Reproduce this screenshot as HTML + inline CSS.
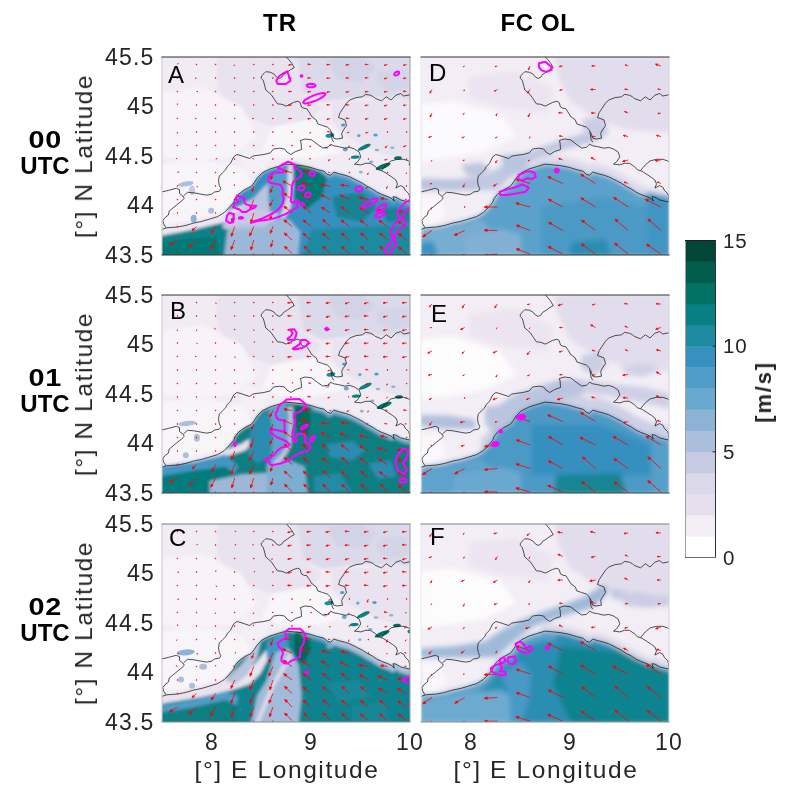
<!DOCTYPE html>
<html><head><meta charset="utf-8"><style>
*{margin:0;padding:0}
html,body{width:785px;height:799px;background:#fff;overflow:hidden}
body{position:relative;font-family:"Liberation Sans",sans-serif}
svg{display:block}
.t{position:absolute;will-change:transform;font-size:23px;color:#262626;white-space:nowrap;line-height:26px}
.b{position:absolute;will-change:transform;font-size:24px;font-weight:bold;color:#000;white-space:nowrap;line-height:26px}
.lab{font-size:24.5px;letter-spacing:1.6px}
.tk{letter-spacing:1.2px}
.cb{font-size:20.5px;letter-spacing:0.8px}
.pl{font-size:24px;color:#000}
.c{transform:translateX(-50%);text-align:center}
.rot{transform:translate(-50%,-50%) rotate(-90deg)}
</style></head>
<body>
<div class="b c" style="left:280px;top:10px;letter-spacing:1px">TR</div>
<div class="b c" style="left:538px;top:10px;letter-spacing:0.6px">FC OL</div>
<div class="b c" style="left:45px;top:127.0px;line-height:26px"><span style="display:inline-block;transform:scaleX(1.2);letter-spacing:0.5px">00</span><br>UTC</div>
<div class="t lab rot" style="left:83.5px;top:155.5px">[°] N Latitude</div>
<div class="t tk" style="right:630.5px;top:43.5px">45.5</div>
<div class="t tk" style="right:630.5px;top:93.0px">45</div>
<div class="t tk" style="right:630.5px;top:142.5px">44.5</div>
<div class="t tk" style="right:630.5px;top:192.0px">44</div>
<div class="t tk" style="right:630.5px;top:241.5px">43.5</div>
<div class="b c" style="left:45px;top:365.0px;line-height:26px"><span style="display:inline-block;transform:scaleX(1.2);letter-spacing:0.5px">01</span><br>UTC</div>
<div class="t lab rot" style="left:83.5px;top:393.5px">[°] N Latitude</div>
<div class="t tk" style="right:630.5px;top:281.5px">45.5</div>
<div class="t tk" style="right:630.5px;top:331.0px">45</div>
<div class="t tk" style="right:630.5px;top:380.5px">44.5</div>
<div class="t tk" style="right:630.5px;top:430.0px">44</div>
<div class="t tk" style="right:630.5px;top:479.5px">43.5</div>
<div class="b c" style="left:45px;top:594.0px;line-height:26px"><span style="display:inline-block;transform:scaleX(1.2);letter-spacing:0.5px">02</span><br>UTC</div>
<div class="t lab rot" style="left:83.5px;top:622.5px">[°] N Latitude</div>
<div class="t tk" style="right:630.5px;top:510.5px">45.5</div>
<div class="t tk" style="right:630.5px;top:560.0px">45</div>
<div class="t tk" style="right:630.5px;top:609.5px">44.5</div>
<div class="t tk" style="right:630.5px;top:659.0px">44</div>
<div class="t tk" style="right:630.5px;top:708.5px">43.5</div>
<div class="t c tk" style="left:211.7px;top:729px">8</div>
<div class="t c tk" style="left:310.9px;top:729px">9</div>
<div class="t c tk" style="left:410.1px;top:729px">10</div>
<div class="t c lab" style="left:286.5px;top:756.5px">[°] E Longitude</div>
<div class="t c tk" style="left:470.7px;top:729px">8</div>
<div class="t c tk" style="left:569.9px;top:729px">9</div>
<div class="t c tk" style="left:669.1px;top:729px">10</div>
<div class="t c lab" style="left:545.5px;top:756.5px">[°] E Longitude</div>
<svg style="position:absolute;left:161.5px;top:56.5px;overflow:visible" width="248" height="198" viewBox="0 0 248 198">
<defs><clipPath id="cpA"><rect x="0" y="0" width="248" height="198"/></clipPath><filter id="blA" x="-5%" y="-5%" width="110%" height="110%"><feGaussianBlur stdDeviation="1.6"/></filter></defs>
<g clip-path="url(#cpA)">
<g filter="url(#blA)">
<polygon points="-2.0,-2.0 250.0,-2.0 250.0,200.0 -2.0,200.0" fill="#f1ecf4"/>
<polygon points="133.0,-2.0 250.0,-2.0 250.0,42.0 200.0,40.0 160.0,45.0 140.0,35.0" fill="#dbdaea"/>
<polygon points="165.0,2.0 200.0,0.0 215.0,10.0 200.0,25.0 175.0,22.0" fill="#d2d3e7"/>
<polygon points="215.0,15.0 245.0,12.0 250.0,30.0 230.0,35.0 215.0,28.0" fill="#d4d4e8"/>
<polygon points="55.0,-2.0 135.0,-2.0 142.0,38.0 160.0,50.0 150.0,62.0 110.0,70.0 70.0,55.0 55.0,30.0" fill="#e9e2ef"/>
<polygon points="170.0,45.0 250.0,42.0 250.0,105.0 215.0,95.0 185.0,80.0 170.0,65.0" fill="#e9e2ef"/>
<polygon points="-2.0,35.0 40.0,30.0 80.0,50.0 95.0,80.0 70.0,100.0 30.0,105.0 -2.0,100.0" fill="#f7f3f8"/>
<polygon points="110.0,70.0 150.0,62.0 175.0,75.0 180.0,95.0 150.0,102.0 118.0,100.0 100.0,95.0" fill="#f9f6fa"/>
<polygon points="-2.0,108.0 40.0,105.0 70.0,112.0 80.0,130.0 50.0,145.0 20.0,150.0 -2.0,152.0" fill="#f5f1f7"/>
<polygon points="80.0,90.0 110.0,95.0 100.0,115.0 80.0,118.0" fill="#f4f0f6"/>
<polygon points="0.0,107.8 19.0,104.7 47.6,104.7 79.3,111.0 95.1,133.2 79.3,149.1 47.6,158.6 19.0,164.9 0.0,168.1" fill="#f8f5f9"/>
<polygon points="0.0,172.4 4.8,170.8 15.9,170.0 23.9,168.4 31.8,166.0 39.8,164.4 47.8,162.0 55.7,159.6 62.1,155.7 66.9,150.9 71.7,145.3 73.2,141.3 76.4,137.3 82.8,132.6 89.2,129.4 92.4,125.4 95.5,120.6 100.3,115.8 108.3,111.9 116.2,109.5 124.0,107.1 132.0,107.9 139.9,108.7 147.9,110.3 155.8,112.7 162.2,114.3 165.4,117.4 168.6,118.2 171.8,115.1 176.5,116.6 182.9,118.2 187.7,119.8 190.9,121.4 195.7,123.8 200.4,126.2 205.2,129.4 210.0,131.8 214.8,135.0 219.5,137.3 225.9,139.7 229.9,141.6 232.3,144.2 231.0,139.7 233.9,140.1 238.6,142.9 245.0,144.5 249.8,145.3 250.0,200.0 -2.0,200.0" fill="#3690c0"/>
<polygon points="-2.0,172.0 16.0,168.0 32.0,165.0 48.0,160.0 63.0,155.0 79.0,149.0 92.0,141.0 95.0,146.0 82.0,156.0 70.0,163.0 55.0,167.0 30.0,173.0 -2.0,179.0" fill="#ede6f2"/>
<polygon points="-2.0,179.0 30.0,173.0 55.0,167.0 70.0,166.0 72.0,178.0 66.0,200.0 -2.0,200.0" fill="#0b8189"/>
<polygon points="-2.0,186.0 30.0,181.0 55.0,179.0 58.0,200.0 -2.0,200.0" fill="#057a76"/>
<polygon points="66.0,168.0 85.0,160.0 105.0,160.0 128.0,163.0 138.0,175.0 136.0,200.0 62.0,200.0" fill="#9cb8d8"/>
<polygon points="60.0,168.0 75.0,155.0 90.0,143.0 100.0,132.0 110.0,122.0 112.0,140.0 110.0,160.0 104.0,170.0 80.0,172.0 62.0,172.0" fill="#b9c4df"/>
<polygon points="106.0,122.0 112.0,117.0 122.0,111.0 128.0,112.0 125.0,140.0 118.0,155.0 108.0,158.0 106.0,140.0" fill="#509dc8"/>
<polygon points="62.0,160.0 80.0,153.0 100.0,153.0 118.0,157.0 110.0,165.0 90.0,166.0 66.0,169.0" fill="#c7cae3"/>
<polygon points="126.0,108.0 131.0,108.0 131.0,130.0 129.0,150.0 122.0,162.0 118.0,160.0 125.0,140.0" fill="#dad9ea"/>
<polygon points="131.0,106.0 150.0,111.0 165.0,120.0 160.0,140.0 145.0,152.0 133.0,142.0 132.0,120.0" fill="#047873"/>
<polygon points="170.0,140.0 200.0,135.0 215.0,150.0 200.0,165.0 175.0,160.0" fill="#128492"/>
<polygon points="150.0,172.0 250.0,168.0 250.0,200.0 140.0,200.0" fill="#1d8aa0"/>
<polygon points="220.0,150.0 250.0,152.0 250.0,165.0 225.0,165.0" fill="#128492"/>
<polygon points="160.0,113.7 162.2,114.3 164.5,116.5 166.8,117.8 169.0,117.8 171.2,115.6 173.5,115.6 175.8,116.4 178.0,117.0 180.2,117.6 182.5,118.1 184.8,118.8 187.0,119.6 189.2,120.6 191.5,121.7 193.8,122.9 196.0,124.0 198.2,125.1 200.5,126.2 202.8,127.7 205.0,129.2 207.2,130.4 209.5,131.5 211.8,132.9 214.0,134.4 216.2,135.7 218.5,136.8 220.8,137.8 223.0,138.6 225.2,139.5 227.5,140.5 229.8,141.6 232.0,143.9 234.2,140.3 236.5,141.6 238.8,142.9 241.0,143.5 243.2,144.1 245.5,144.6 247.8,145.0 250.0,145.3 250.0,149.3 247.8,149.0 245.5,148.6 243.2,148.1 241.0,147.5 238.8,146.9 236.5,145.6 234.2,144.3 232.0,147.9 229.8,145.6 227.5,144.5 225.2,143.5 223.0,142.6 220.8,141.8 218.5,140.8 216.2,139.7 214.0,138.4 211.8,136.9 209.5,135.5 207.2,134.4 205.0,133.2 202.8,131.7 200.5,130.2 198.2,129.1 196.0,128.0 193.8,126.9 191.5,125.7 189.2,124.6 187.0,123.6 184.8,122.8 182.5,122.1 180.2,121.6 178.0,121.0 175.8,120.4 173.5,119.6 171.2,119.6 169.0,121.8 166.8,121.8 164.5,120.5 162.2,118.3 160.0,117.7" fill="#5da3cc"/>
</g>
<filter id="bbA" x="-5%" y="-5%" width="110%" height="110%"><feGaussianBlur stdDeviation="0.7"/></filter><g filter="url(#bbA)">
<ellipse cx="167.9" cy="78.5" rx="4.5" ry="2" transform="rotate(-10 167.9 78.5)" fill="#1d8aa0"/>
<ellipse cx="181.2" cy="68.0" rx="2.2" ry="1.6" transform="rotate(0 181.2 68.0)" fill="#509dc8"/>
<ellipse cx="196.8" cy="78.6" rx="1.8" ry="1.6" transform="rotate(0 196.8 78.6)" fill="#6aa9cf"/>
<ellipse cx="202.3" cy="90.2" rx="7" ry="2" transform="rotate(-25 202.3 90.2)" fill="#077f83"/>
<ellipse cx="213.5" cy="78.0" rx="2.2" ry="1.6" transform="rotate(0 213.5 78.0)" fill="#509dc8"/>
<ellipse cx="193.2" cy="100.2" rx="4.5" ry="1.6" transform="rotate(-5 193.2 100.2)" fill="#077f83"/>
<ellipse cx="221.2" cy="109.4" rx="8" ry="2.2" transform="rotate(-22 221.2 109.4)" fill="#017263"/>
<ellipse cx="235.9" cy="101.0" rx="4" ry="1.7" transform="rotate(-5 235.9 101.0)" fill="#017263"/>
<ellipse cx="249.0" cy="107.0" rx="2.5" ry="2" transform="rotate(0 249.0 107.0)" fill="#077f83"/>
<ellipse cx="183.3" cy="92.5" rx="2.5" ry="2" transform="rotate(0 183.3 92.5)" fill="#6aa9cf"/>
<ellipse cx="230.3" cy="90.7" rx="2.2" ry="1.2" transform="rotate(0 230.3 90.7)" fill="#8cb3d6"/>
<ellipse cx="214.9" cy="93.0" rx="2.2" ry="1.2" transform="rotate(0 214.9 93.0)" fill="#8cb3d6"/>
<ellipse cx="164.4" cy="90.7" rx="2.2" ry="1.2" transform="rotate(0 164.4 90.7)" fill="#abbedb"/>
<ellipse cx="209.3" cy="104.7" rx="2.2" ry="1.2" transform="rotate(0 209.3 104.7)" fill="#8cb3d6"/>
<ellipse cx="198.8" cy="115.2" rx="1.8" ry="1.4" transform="rotate(0 198.8 115.2)" fill="#8cb3d6"/>
<ellipse cx="23.8" cy="126.9" rx="8" ry="2.5" transform="rotate(-10 23.8 126.9)" fill="#abbedb"/>
<ellipse cx="31.7" cy="161.8" rx="3" ry="4" transform="rotate(0 31.7 161.8)" fill="#8cb3d6"/>
<ellipse cx="49.2" cy="153.8" rx="3" ry="3" transform="rotate(0 49.2 153.8)" fill="#abbedb"/>
<ellipse cx="30.1" cy="133.2" rx="3" ry="5" transform="rotate(0 30.1 133.2)" fill="#c7cae3"/>
</g>
<g fill="none" stroke="#1a1a1a" stroke-width="0.75" stroke-linejoin="round">
<polyline points="0.0,172.4 4.8,170.8 15.9,170.0 23.9,168.4 31.8,166.0 39.8,164.4 47.8,162.0 55.7,159.6 62.1,155.7 66.9,150.9 71.7,145.3 73.2,141.3 76.4,137.3 82.8,132.6 89.2,129.4 92.4,125.4 95.5,120.6 100.3,115.8 108.3,111.9 116.2,109.5 124.0,107.1 132.0,107.9 139.9,108.7 147.9,110.3 155.8,112.7 162.2,114.3 165.4,117.4 168.6,118.2 171.8,115.1 176.5,116.6 182.9,118.2 187.7,119.8 190.9,121.4 195.7,123.8 200.4,126.2 205.2,129.4 210.0,131.8 214.8,135.0 219.5,137.3 225.9,139.7 229.9,141.6 232.3,144.2 231.0,139.7 233.9,140.1 238.6,142.9 245.0,144.5 249.8,145.3"/>
<polyline points="-0.8,135.1 6.4,133.4 14.3,131.3 17.5,132.6 17.5,136.5 20.7,138.9 22.3,141.3 19.9,143.7 15.9,146.9 11.1,150.9 7.2,154.1 6.4,158.0 3.2,160.4 0.8,163.6 1.6,166.8 4.0,170.8"/>
<polyline points="21.5,138.9 25.5,135.3 31.8,135.8 39.8,137.3 44.6,138.1 49.4,137.3 52.5,135.0 57.3,134.2 58.9,131.8 57.3,128.6 56.5,123.8 57.3,119.0 60.5,115.8 63.7,112.7 65.3,109.5 68.5,106.3 70.1,103.1 71.7,99.9 74.8,97.5 78.0,98.3 82.8,99.9 87.6,101.5 90.8,99.1 95.5,98.3 101.9,97.5 108.3,95.9 111.5,92.0 117.8,91.2 122.6,92.0 125.0,95.1 128.8,97.5 133.6,94.5 139.5,92.5 139.1,86.0 138.3,83.6 143.1,82.0 149.5,82.8 155.8,87.6 160.6,91.0 165.4,90.4 168.6,87.2 171.8,88.8 176.5,89.6 182.9,91.2 187.7,90.4 192.5,92.0 197.2,95.1 198.8,99.9 195.7,104.7 192.5,107.1 198.8,107.9 203.6,106.3 208.4,106.3 213.2,109.5 216.4,112.7 221.1,114.3 225.9,117.4 230.7,120.6 233.9,123.0 235.5,127.0 233.9,131.0 238.6,128.6 241.8,130.2 243.4,133.4 246.6,136.5 247.6,139.7 248.2,145.1"/>
<polyline points="219.5,113.6 224.3,107.9 229.1,103.9 235.5,102.3 241.8,102.3 246.6,103.9 249.8,106.3"/>
<polyline points="123.8,-0.4 127.0,2.7 129.6,6.2 132.3,10.7 128.8,12.5 125.2,15.2 121.6,17.4 119.8,20.1 117.2,21.4 114.5,20.1 111.8,16.9 108.2,15.2 103.8,14.7 102.0,16.5 99.3,19.2 99.3,21.4 101.1,23.2 102.0,25.9 102.9,29.4 103.8,33.0 106.4,35.2 109.1,37.5 110.9,40.1 112.7,42.8 115.4,46.8 119.8,47.3 124.3,49.1 127.9,47.3 131.4,45.5 135.9,44.2 138.1,45.5 139.5,50.0 142.1,51.3 144.8,51.7 146.6,54.4 148.8,58.0 150.2,60.0 154.3,62.9 155.8,66.9 160.6,68.5 165.4,70.1 168.6,73.2 169.4,78.0 170.2,82.8 171.8,85.2"/>
<polyline points="169.4,74.8 171.8,81.2 175.0,82.0 180.5,81.2 179.7,76.4 181.3,73.2 184.5,68.5 182.9,62.9 176.5,60.5"/>
<polyline points="176.5,60.5 178.1,55.7 181.3,51.0 184.5,46.2 187.7,43.0 194.1,40.6 200.4,39.8 203.6,37.4 208.4,38.2 211.6,39.8 213.2,41.4 219.5,43.8 224.3,39.8 229.1,43.0 233.9,38.2 238.6,36.6 241.8,39.0 249.8,37.4"/>
</g>
<g stroke="#f00" stroke-width="0.8" fill="#f00"><line x1="15.4" y1="7.5" x2="16.0" y2="6.9"/><polygon points="16.3,6.5 16.1,7.0 15.8,6.7"/><circle cx="34.5" cy="7.5" r="0.42" fill="#f00"/><circle cx="53.6" cy="7.5" r="0.42" fill="#f00"/><line x1="72.7" y1="7.5" x2="72.2" y2="8.2"/><polygon points="71.9,8.6 72.1,8.0 72.4,8.3"/><circle cx="91.8" cy="7.5" r="0.42" fill="#f00"/><circle cx="110.9" cy="7.5" r="0.42" fill="#f00"/><line x1="130.0" y1="7.5" x2="127.9" y2="7.9"/><polygon points="126.6,8.1 127.8,7.3 128.0,8.4"/><line x1="149.1" y1="7.5" x2="146.9" y2="7.3"/><polygon points="145.6,7.2 147.0,6.8 146.9,7.9"/><line x1="168.2" y1="7.5" x2="166.0" y2="7.6"/><polygon points="164.7,7.7 166.0,7.1 166.1,8.2"/><line x1="187.3" y1="7.5" x2="185.2" y2="7.9"/><polygon points="183.8,8.1 185.1,7.3 185.3,8.4"/><line x1="206.4" y1="7.5" x2="204.2" y2="7.5"/><polygon points="202.9,7.5 204.2,6.9 204.2,8.0"/><line x1="225.5" y1="7.5" x2="223.4" y2="8.0"/><polygon points="222.1,8.3 223.3,7.5 223.5,8.6"/><line x1="244.6" y1="7.5" x2="242.5" y2="8.0"/><polygon points="241.2,8.3 242.4,7.4 242.6,8.5"/><circle cx="15.4" cy="21.0" r="0.42" fill="#f00"/><line x1="34.5" y1="21.0" x2="33.6" y2="21.2"/><polygon points="33.0,21.4 33.5,21.0 33.7,21.5"/><circle cx="53.6" cy="21.0" r="0.42" fill="#f00"/><circle cx="72.7" cy="21.0" r="0.42" fill="#f00"/><circle cx="91.8" cy="21.0" r="0.42" fill="#f00"/><circle cx="110.9" cy="21.0" r="0.42" fill="#f00"/><line x1="130.0" y1="21.0" x2="127.8" y2="21.0"/><polygon points="126.5,21.0 127.8,20.4 127.8,21.5"/><line x1="149.1" y1="21.0" x2="146.9" y2="21.0"/><polygon points="145.6,21.0 146.9,20.4 146.9,21.5"/><line x1="168.2" y1="21.0" x2="166.0" y2="21.2"/><polygon points="164.7,21.3 166.0,20.6 166.1,21.7"/><line x1="187.3" y1="21.0" x2="185.1" y2="21.0"/><polygon points="183.8,21.0 185.1,20.5 185.1,21.6"/><line x1="206.4" y1="21.0" x2="204.2" y2="20.8"/><polygon points="202.9,20.7 204.3,20.3 204.2,21.4"/><line x1="225.5" y1="21.0" x2="223.4" y2="21.4"/><polygon points="222.1,21.7 223.3,20.9 223.5,22.0"/><line x1="244.6" y1="21.0" x2="242.4" y2="21.2"/><polygon points="241.1,21.4 242.4,20.7 242.5,21.8"/><circle cx="15.4" cy="34.5" r="0.42" fill="#f00"/><line x1="34.5" y1="34.5" x2="35.4" y2="34.5"/><polygon points="35.9,34.6 35.4,34.8 35.4,34.3"/><circle cx="53.6" cy="34.5" r="0.42" fill="#f00"/><circle cx="72.7" cy="34.5" r="0.42" fill="#f00"/><circle cx="91.8" cy="34.5" r="0.42" fill="#f00"/><circle cx="110.9" cy="34.5" r="0.42" fill="#f00"/><line x1="130.0" y1="34.5" x2="127.8" y2="34.5"/><polygon points="126.5,34.6 127.8,34.0 127.8,35.1"/><line x1="149.1" y1="34.5" x2="146.9" y2="34.8"/><polygon points="145.6,34.9 146.9,34.2 147.0,35.3"/><line x1="168.2" y1="34.5" x2="166.1" y2="35.0"/><polygon points="164.8,35.3 166.0,34.4 166.2,35.5"/><line x1="187.3" y1="34.5" x2="185.2" y2="34.9"/><polygon points="183.9,35.2 185.1,34.4 185.3,35.5"/><line x1="206.4" y1="34.5" x2="204.2" y2="34.7"/><polygon points="202.9,34.8 204.2,34.1 204.3,35.3"/><line x1="225.5" y1="34.5" x2="223.3" y2="34.8"/><polygon points="222.0,34.9 223.3,34.2 223.4,35.3"/><line x1="244.6" y1="34.5" x2="242.4" y2="34.3"/><polygon points="241.1,34.2 242.5,33.8 242.4,34.9"/><line x1="15.4" y1="48.0" x2="15.4" y2="47.2"/><polygon points="15.5,46.7 15.6,47.2 15.2,47.2"/><circle cx="34.5" cy="48.0" r="0.42" fill="#f00"/><circle cx="53.6" cy="48.0" r="0.42" fill="#f00"/><circle cx="72.7" cy="48.0" r="0.42" fill="#f00"/><circle cx="91.8" cy="48.0" r="0.42" fill="#f00"/><circle cx="110.9" cy="48.0" r="0.42" fill="#f00"/><line x1="130.0" y1="48.0" x2="127.8" y2="48.1"/><polygon points="126.5,48.2 127.8,47.5 127.9,48.7"/><line x1="149.1" y1="48.0" x2="146.9" y2="48.2"/><polygon points="145.6,48.3 146.9,47.6 147.0,48.7"/><line x1="168.2" y1="48.0" x2="166.0" y2="47.8"/><polygon points="164.7,47.7 166.1,47.3 166.0,48.4"/><line x1="187.3" y1="48.0" x2="185.1" y2="47.8"/><polygon points="183.8,47.7 185.2,47.3 185.1,48.4"/><line x1="206.4" y1="48.0" x2="204.3" y2="48.3"/><polygon points="202.9,48.6 204.2,47.8 204.3,48.9"/><line x1="225.5" y1="48.0" x2="223.4" y2="48.5"/><polygon points="222.1,48.9 223.3,48.0 223.5,49.1"/><line x1="244.6" y1="48.0" x2="242.4" y2="48.3"/><polygon points="241.1,48.4 242.4,47.7 242.5,48.8"/><circle cx="15.4" cy="61.5" r="0.42" fill="#f00"/><line x1="34.5" y1="61.5" x2="33.5" y2="61.5"/><polygon points="32.9,61.5 33.5,61.3 33.5,61.8"/><circle cx="53.6" cy="61.5" r="0.42" fill="#f00"/><circle cx="72.7" cy="61.5" r="0.42" fill="#f00"/><line x1="91.8" y1="61.5" x2="90.9" y2="61.6"/><polygon points="90.3,61.6 90.8,61.3 90.9,61.8"/><circle cx="110.9" cy="61.5" r="0.42" fill="#f00"/><line x1="130.0" y1="61.5" x2="127.8" y2="61.5"/><polygon points="126.5,61.5 127.8,61.0 127.8,62.1"/><line x1="149.1" y1="61.5" x2="146.9" y2="61.7"/><polygon points="145.6,61.9 146.9,61.2 147.0,62.3"/><line x1="168.2" y1="61.5" x2="166.1" y2="62.0"/><polygon points="164.8,62.4 166.0,61.5 166.2,62.6"/><line x1="187.3" y1="61.5" x2="185.1" y2="61.3"/><polygon points="183.8,61.2 185.2,60.8 185.1,61.9"/><line x1="206.4" y1="61.5" x2="204.3" y2="61.9"/><polygon points="203.0,62.1 204.2,61.4 204.4,62.5"/><line x1="225.5" y1="61.5" x2="223.4" y2="61.9"/><polygon points="222.1,62.2 223.3,61.4 223.5,62.5"/><line x1="244.6" y1="61.5" x2="242.5" y2="62.0"/><polygon points="241.2,62.3 242.4,61.4 242.6,62.5"/><line x1="15.4" y1="75.0" x2="15.4" y2="75.8"/><polygon points="15.3,76.3 15.1,75.8 15.6,75.8"/><circle cx="34.5" cy="75.0" r="0.42" fill="#f00"/><circle cx="53.6" cy="75.0" r="0.42" fill="#f00"/><circle cx="72.7" cy="75.0" r="0.42" fill="#f00"/><circle cx="91.8" cy="75.0" r="0.42" fill="#f00"/><circle cx="110.9" cy="75.0" r="0.42" fill="#f00"/><circle cx="130.0" cy="75.0" r="0.42" fill="#f00"/><line x1="149.1" y1="75.0" x2="148.3" y2="75.8"/><polygon points="147.8,76.3 148.1,75.6 148.5,76.0"/><line x1="168.2" y1="75.0" x2="166.4" y2="74.7"/><polygon points="165.3,74.5 166.5,74.2 166.3,75.1"/><line x1="187.3" y1="75.0" x2="186.0" y2="75.5"/><polygon points="185.3,75.7 185.9,75.1 186.2,75.8"/><line x1="206.4" y1="75.0" x2="204.6" y2="75.7"/><polygon points="203.5,76.1 204.4,75.2 204.8,76.1"/><circle cx="225.5" cy="75.0" r="0.42" fill="#f00"/><circle cx="244.6" cy="75.0" r="0.42" fill="#f00"/><circle cx="15.4" cy="88.5" r="0.42" fill="#f00"/><circle cx="34.5" cy="88.5" r="0.42" fill="#f00"/><circle cx="53.6" cy="88.5" r="0.42" fill="#f00"/><circle cx="72.7" cy="88.5" r="0.42" fill="#f00"/><circle cx="91.8" cy="88.5" r="0.42" fill="#f00"/><circle cx="110.9" cy="88.5" r="0.42" fill="#f00"/><circle cx="130.0" cy="88.5" r="0.42" fill="#f00"/><line x1="149.1" y1="88.5" x2="148.2" y2="89.4"/><polygon points="147.7,89.9 148.0,89.1 148.5,89.6"/><circle cx="168.2" cy="88.5" r="0.42" fill="#f00"/><line x1="187.3" y1="88.5" x2="187.0" y2="89.4"/><polygon points="186.8,89.9 186.7,89.3 187.2,89.5"/><line x1="206.4" y1="88.5" x2="205.7" y2="88.8"/><polygon points="205.2,88.9 205.6,88.6 205.7,89.0"/><line x1="225.5" y1="88.5" x2="224.1" y2="89.9"/><polygon points="223.2,90.8 223.7,89.5 224.5,90.3"/><line x1="244.6" y1="88.5" x2="242.6" y2="89.2"/><polygon points="241.4,89.7 242.4,88.7 242.8,89.7"/><line x1="15.4" y1="102.0" x2="14.5" y2="101.6"/><polygon points="14.0,101.3 14.6,101.4 14.4,101.8"/><circle cx="34.5" cy="102.0" r="0.42" fill="#f00"/><line x1="53.6" y1="102.0" x2="54.5" y2="101.8"/><polygon points="55.1,101.7 54.6,102.0 54.5,101.5"/><circle cx="72.7" cy="102.0" r="0.42" fill="#f00"/><line x1="91.8" y1="102.0" x2="91.0" y2="101.6"/><polygon points="90.6,101.4 91.1,101.4 90.9,101.8"/><circle cx="110.9" cy="102.0" r="0.42" fill="#f00"/><circle cx="130.0" cy="102.0" r="0.42" fill="#f00"/><line x1="149.1" y1="102.0" x2="148.1" y2="101.8"/><polygon points="147.4,101.7 148.1,101.6 148.0,102.1"/><line x1="168.2" y1="102.0" x2="167.1" y2="103.1"/><polygon points="166.4,103.8 166.8,102.8 167.4,103.4"/><circle cx="187.3" cy="102.0" r="0.42" fill="#f00"/><circle cx="206.4" cy="102.0" r="0.42" fill="#f00"/><line x1="225.5" y1="102.0" x2="223.7" y2="102.7"/><polygon points="222.6,103.1 223.5,102.2 223.8,103.1"/><circle cx="244.6" cy="102.0" r="0.42" fill="#f00"/><line x1="15.4" y1="115.5" x2="16.2" y2="115.1"/><polygon points="16.7,114.8 16.3,115.3 16.1,114.9"/><circle cx="34.5" cy="115.5" r="0.42" fill="#f00"/><circle cx="53.6" cy="115.5" r="0.42" fill="#f00"/><line x1="72.7" y1="115.5" x2="71.9" y2="115.8"/><polygon points="71.4,116.0 71.8,115.6 72.0,116.0"/><circle cx="91.8" cy="115.5" r="0.42" fill="#f00"/><line x1="110.9" y1="115.5" x2="109.7" y2="119.9"/><polygon points="109.0,122.6 108.6,119.6 110.8,120.2"/><line x1="130.0" y1="115.5" x2="124.8" y2="114.5"/><polygon points="121.8,113.9 125.0,113.3 124.5,115.6"/><line x1="149.1" y1="115.5" x2="144.5" y2="114.8"/><polygon points="141.6,114.4 144.6,113.6 144.3,116.0"/><line x1="168.2" y1="115.5" x2="167.2" y2="115.3"/><polygon points="166.6,115.2 167.2,115.1 167.2,115.6"/><circle cx="187.3" cy="115.5" r="0.42" fill="#f00"/><line x1="206.4" y1="115.5" x2="205.9" y2="116.8"/><polygon points="205.6,117.6 205.6,116.7 206.3,116.9"/><circle cx="225.5" cy="115.5" r="0.42" fill="#f00"/><line x1="244.6" y1="115.5" x2="244.3" y2="116.3"/><polygon points="244.1,116.8 244.1,116.2 244.5,116.4"/><circle cx="15.4" cy="129.0" r="0.42" fill="#f00"/><line x1="34.5" y1="129.0" x2="35.1" y2="129.7"/><polygon points="35.5,130.1 35.0,129.8 35.3,129.5"/><circle cx="53.6" cy="129.0" r="0.42" fill="#f00"/><line x1="72.7" y1="129.0" x2="72.2" y2="128.1"/><polygon points="72.0,127.6 72.5,128.0 72.0,128.3"/><line x1="91.8" y1="129.0" x2="90.7" y2="132.4"/><polygon points="90.1,134.5 89.8,132.1 91.6,132.7"/><line x1="110.9" y1="129.0" x2="109.2" y2="133.2"/><polygon points="108.2,135.8 108.1,132.8 110.3,133.7"/><line x1="130.0" y1="129.0" x2="123.4" y2="125.5"/><polygon points="120.7,124.1 123.9,124.4 122.8,126.5"/><line x1="149.1" y1="129.0" x2="142.1" y2="126.4"/><polygon points="139.3,125.3 142.5,125.2 141.7,127.5"/><line x1="168.2" y1="129.0" x2="162.1" y2="128.1"/><polygon points="159.1,127.7 162.3,126.9 161.9,129.3"/><line x1="187.3" y1="129.0" x2="181.6" y2="128.2"/><polygon points="178.6,127.9 181.8,127.1 181.5,129.4"/><line x1="206.4" y1="129.0" x2="205.0" y2="130.4"/><polygon points="204.1,131.3 204.6,130.1 205.3,130.8"/><line x1="225.5" y1="129.0" x2="224.9" y2="130.6"/><polygon points="224.5,131.6 224.5,130.5 225.3,130.8"/><circle cx="244.6" cy="129.0" r="0.42" fill="#f00"/><circle cx="15.4" cy="142.5" r="0.42" fill="#f00"/><circle cx="34.5" cy="142.5" r="0.42" fill="#f00"/><circle cx="53.6" cy="142.5" r="0.42" fill="#f00"/><circle cx="72.7" cy="142.5" r="0.42" fill="#f00"/><line x1="91.8" y1="142.5" x2="89.1" y2="149.5"/><polygon points="88.0,152.3 88.0,149.0 90.2,149.9"/><line x1="110.9" y1="142.5" x2="109.0" y2="146.6"/><polygon points="107.8,149.2 107.9,146.2 110.1,147.1"/><line x1="130.0" y1="142.5" x2="124.1" y2="137.9"/><polygon points="121.7,136.0 124.8,136.9 123.4,138.8"/><line x1="149.1" y1="142.5" x2="142.7" y2="138.6"/><polygon points="140.1,137.1 143.3,137.6 142.0,139.7"/><line x1="168.2" y1="142.5" x2="161.5" y2="139.1"/><polygon points="158.8,137.8 162.0,138.1 161.0,140.2"/><line x1="187.3" y1="142.5" x2="180.5" y2="139.2"/><polygon points="177.8,137.9 181.1,138.2 180.0,140.3"/><line x1="206.4" y1="142.5" x2="200.0" y2="141.1"/><polygon points="197.0,140.5 200.2,139.9 199.7,142.3"/><line x1="225.5" y1="142.5" x2="221.2" y2="141.7"/><polygon points="218.5,141.2 221.4,140.6 221.0,142.8"/><line x1="244.6" y1="142.5" x2="243.7" y2="142.3"/><polygon points="243.2,142.2 243.7,142.1 243.7,142.6"/><circle cx="15.4" cy="156.0" r="0.42" fill="#f00"/><circle cx="34.5" cy="156.0" r="0.42" fill="#f00"/><circle cx="53.6" cy="156.0" r="0.42" fill="#f00"/><line x1="72.7" y1="156.0" x2="70.6" y2="162.0"/><polygon points="69.6,164.9 69.5,161.6 71.7,162.4"/><line x1="91.8" y1="156.0" x2="89.7" y2="163.2"/><polygon points="88.8,166.1 88.5,162.8 90.8,163.5"/><line x1="110.9" y1="156.0" x2="109.0" y2="160.1"/><polygon points="107.8,162.7 107.9,159.6 110.0,160.6"/><line x1="130.0" y1="156.0" x2="124.2" y2="151.2"/><polygon points="121.9,149.3 125.0,150.3 123.5,152.1"/><line x1="149.1" y1="156.0" x2="143.3" y2="151.3"/><polygon points="140.9,149.4 144.0,150.3 142.5,152.2"/><line x1="168.2" y1="156.0" x2="162.0" y2="151.8"/><polygon points="159.5,150.2 162.6,150.8 161.3,152.8"/><line x1="187.3" y1="156.0" x2="181.4" y2="151.4"/><polygon points="179.0,149.6 182.1,150.5 180.6,152.4"/><line x1="206.4" y1="156.0" x2="200.0" y2="152.0"/><polygon points="197.5,150.4 200.7,151.0 199.4,153.0"/><line x1="225.5" y1="156.0" x2="218.4" y2="153.6"/><polygon points="215.6,152.6 218.8,152.4 218.0,154.7"/><line x1="244.6" y1="156.0" x2="238.4" y2="154.5"/><polygon points="235.5,153.7 238.7,153.3 238.2,155.6"/><circle cx="15.4" cy="169.5" r="0.42" fill="#f00"/><line x1="34.5" y1="169.5" x2="31.7" y2="172.1"/><polygon points="30.0,173.6 31.0,171.3 32.3,172.8"/><line x1="53.6" y1="169.5" x2="51.0" y2="173.7"/><polygon points="49.5,176.3 50.0,173.1 52.0,174.4"/><line x1="72.7" y1="169.5" x2="70.2" y2="176.6"/><polygon points="69.3,179.4 69.1,176.2 71.4,177.0"/><line x1="91.8" y1="169.5" x2="88.8" y2="176.4"/><polygon points="87.5,179.1 87.7,175.9 89.9,176.8"/><line x1="110.9" y1="169.5" x2="109.3" y2="173.8"/><polygon points="108.3,176.4 108.2,173.3 110.4,174.2"/><line x1="130.0" y1="169.5" x2="124.2" y2="164.8"/><polygon points="121.9,162.9 124.9,163.8 123.4,165.7"/><line x1="149.1" y1="169.5" x2="143.3" y2="164.8"/><polygon points="141.0,162.9 144.1,163.8 142.5,165.7"/><line x1="168.2" y1="169.5" x2="162.7" y2="164.4"/><polygon points="160.5,162.3 163.6,163.5 161.9,165.2"/><line x1="187.3" y1="169.5" x2="181.4" y2="164.9"/><polygon points="179.0,163.0 182.1,163.9 180.7,165.8"/><line x1="206.4" y1="169.5" x2="200.4" y2="165.0"/><polygon points="198.0,163.2 201.2,164.0 199.7,165.9"/><line x1="225.5" y1="169.5" x2="219.4" y2="165.1"/><polygon points="217.0,163.3 220.1,164.1 218.7,166.1"/><line x1="244.6" y1="169.5" x2="238.1" y2="165.7"/><polygon points="235.5,164.2 238.7,164.7 237.5,166.8"/><line x1="15.4" y1="183.0" x2="10.1" y2="186.4"/><polygon points="7.6,188.0 9.5,185.4 10.8,187.4"/><line x1="34.5" y1="183.0" x2="29.0" y2="188.1"/><polygon points="26.8,190.2 28.2,187.3 29.8,189.0"/><line x1="53.6" y1="183.0" x2="50.2" y2="189.7"/><polygon points="48.8,192.4 49.1,189.1 51.3,190.2"/><line x1="72.7" y1="183.0" x2="70.1" y2="190.0"/><polygon points="69.0,192.8 68.9,189.6 71.2,190.4"/><line x1="91.8" y1="183.0" x2="89.7" y2="190.2"/><polygon points="88.9,193.1 88.5,189.9 90.8,190.5"/><line x1="110.9" y1="183.0" x2="109.6" y2="187.4"/><polygon points="108.8,190.1 108.5,187.0 110.7,187.7"/><line x1="130.0" y1="183.0" x2="124.4" y2="178.0"/><polygon points="122.2,175.9 125.2,177.1 123.6,178.9"/><line x1="149.1" y1="183.0" x2="143.3" y2="178.2"/><polygon points="141.0,176.3 144.1,177.3 142.6,179.1"/><line x1="168.2" y1="183.0" x2="162.6" y2="178.0"/><polygon points="160.4,176.0 163.4,177.1 161.8,178.9"/><line x1="187.3" y1="183.0" x2="181.6" y2="178.2"/><polygon points="179.3,176.2 182.4,177.2 180.8,179.1"/><line x1="206.4" y1="183.0" x2="200.9" y2="177.9"/><polygon points="198.6,175.9 201.7,177.1 200.1,178.8"/><line x1="225.5" y1="183.0" x2="219.9" y2="178.0"/><polygon points="217.6,176.1 220.7,177.1 219.1,178.9"/><line x1="244.6" y1="183.0" x2="238.8" y2="178.3"/><polygon points="236.4,176.4 239.5,177.3 238.0,179.2"/><line x1="15.4" y1="196.5" x2="8.8" y2="200.0"/><polygon points="6.1,201.4 8.2,198.9 9.3,201.1"/><line x1="34.5" y1="196.5" x2="29.5" y2="202.1"/><polygon points="27.5,204.3 28.6,201.3 30.4,202.9"/><line x1="53.6" y1="196.5" x2="50.3" y2="203.2"/><polygon points="48.9,205.9 49.2,202.7 51.3,203.8"/><line x1="72.7" y1="196.5" x2="70.4" y2="203.6"/><polygon points="69.4,206.5 69.2,203.3 71.5,204.0"/><line x1="91.8" y1="196.5" x2="89.1" y2="203.5"/><polygon points="88.0,206.3 87.9,203.0 90.2,203.9"/><line x1="110.9" y1="196.5" x2="109.2" y2="200.7"/><polygon points="108.2,203.3 108.1,200.3 110.3,201.2"/><line x1="130.0" y1="196.5" x2="124.6" y2="191.3"/><polygon points="122.4,189.3 125.4,190.5 123.7,192.2"/><line x1="149.1" y1="196.5" x2="143.9" y2="191.1"/><polygon points="141.8,188.9 144.8,190.3 143.0,191.9"/><line x1="168.2" y1="196.5" x2="162.8" y2="191.3"/><polygon points="160.7,189.2 163.6,190.4 162.0,192.1"/><line x1="187.3" y1="196.5" x2="181.7" y2="191.5"/><polygon points="179.5,189.5 182.5,190.6 180.9,192.4"/><line x1="206.4" y1="196.5" x2="200.9" y2="191.4"/><polygon points="198.7,189.4 201.7,190.5 200.1,192.3"/><line x1="225.5" y1="196.5" x2="220.1" y2="191.3"/><polygon points="217.9,189.3 220.9,190.5 219.2,192.2"/><line x1="244.6" y1="196.5" x2="238.7" y2="191.8"/><polygon points="236.4,190.0 239.5,190.9 238.0,192.8"/></g>
<g fill="none" stroke="#f0f" stroke-width="2" stroke-linejoin="round">
<polygon points="126.0,104.7 129.8,106.0 133.0,107.9 132.4,111.1 136.2,112.4 138.8,114.9 140.0,116.8 138.1,120.0 133.7,122.6 131.1,125.1 129.8,129.6 129.8,134.7 129.2,141.0 128.6,144.2 131.1,146.1 134.9,142.9 136.8,144.2 134.9,147.4 136.2,150.0 133.7,151.2 131.1,152.5 127.3,155.1 122.2,157.6 115.8,160.1 109.5,162.1 101.8,163.3 95.4,164.0 89.1,165.9 92.9,164.0 100.5,161.4 108.2,157.6 114.6,153.8 118.4,150.0 120.9,146.1 121.6,141.0 120.3,137.2 120.9,132.1 118.4,127.7 112.0,126.4 108.2,125.8 106.3,123.8 106.9,120.0 109.5,116.8 113.3,115.6 120.9,115.6 122.2,113.6 118.4,111.7 115.8,111.1 119.6,107.9 123.5,106.0"/>
<polygon points="75.1,138.5 78.9,139.8 82.7,141.0 82.1,144.9 84.0,147.4 89.1,148.7 94.2,148.7 92.9,150.6 87.8,152.5 84.0,155.1 80.2,155.1 77.6,152.5 73.8,151.2 71.2,150.0 72.5,146.1 76.3,144.9 73.8,142.3"/>
<polygon points="67.4,155.7 71.2,157.0 71.9,161.4 71.2,165.2 67.4,165.9 64.2,164.0 64.9,158.9"/>
<polygon points="77.0,160.4 79.5,159.9 81.2,160.8 79.5,161.7 77.0,161.4"/>
<polygon points="152.7,116.8 152.5,117.7 152.0,118.4 151.2,118.9 150.2,119.0 149.3,118.9 148.5,118.4 147.9,117.7 147.7,116.8 147.9,116.0 148.5,115.3 149.3,114.8 150.2,114.6 151.2,114.8 152.0,115.3 152.5,116.0"/>
<polygon points="142.7,129.9 142.7,130.8 142.3,131.8 141.4,132.6 140.2,133.3 138.9,133.6 137.6,133.5 136.7,133.0 136.1,132.3 136.1,131.4 136.5,130.4 137.4,129.6 138.6,128.9 139.9,128.6 141.2,128.7 142.1,129.2"/>
<polygon points="148.4,136.4 148.6,137.2 148.4,138.1 147.8,139.0 146.9,139.8 145.8,140.2 144.7,140.3 143.8,140.0 143.2,139.4 142.9,138.5 143.1,137.6 143.8,136.7 144.7,135.9 145.7,135.5 146.8,135.4 147.7,135.7"/>
<polygon points="142.2,147.2 142.1,147.6 141.7,148.0 141.2,148.3 140.7,148.4 140.1,148.3 139.6,148.0 139.3,147.6 139.2,147.2 139.3,146.7 139.6,146.3 140.1,146.0 140.7,146.0 141.2,146.0 141.7,146.3 142.1,146.7"/>
<polygon points="114.2,23.8 117.3,19.0 122.1,15.9 125.3,14.3 126.9,19.0 128.4,23.8 123.7,27.0 115.8,27.0"/>
<polygon points="140.3,19.0 140.3,19.3 140.1,19.6 139.9,19.8 139.5,19.8 139.2,19.8 139.0,19.6 138.8,19.3 138.7,19.0 138.8,18.7 139.0,18.5 139.2,18.3 139.5,18.2 139.9,18.3 140.1,18.5 140.3,18.7"/>
<polygon points="153.6,28.5 153.2,29.2 152.2,29.8 150.8,30.2 149.1,30.3 147.3,30.2 145.9,29.8 144.9,29.2 144.6,28.5 144.9,27.9 145.9,27.3 147.3,26.9 149.1,26.7 150.8,26.9 152.2,27.3 153.2,27.9"/>
<polygon points="163.4,36.7 162.9,38.1 160.8,39.9 157.5,41.9 153.3,43.8 148.9,45.3 145.1,46.2 142.4,46.4 141.1,45.7 141.6,44.4 143.6,42.6 147.0,40.6 151.2,38.6 155.5,37.1 159.4,36.2 162.1,36.1"/>
<polygon points="237.1,15.1 237.2,15.7 237.0,16.5 236.4,17.2 235.5,17.9 234.5,18.3 233.5,18.5 232.8,18.3 232.3,17.9 232.2,17.3 232.4,16.5 233.0,15.7 233.9,15.1 234.9,14.7 235.8,14.5 236.6,14.7"/>
<polygon points="200.3,131.3 200.2,132.3 199.6,133.2 198.6,133.9 197.3,134.3 196.0,134.4 194.8,134.0 193.9,133.4 193.4,132.5 193.5,131.5 194.1,130.6 195.2,129.8 196.5,129.4 197.8,129.4 199.0,129.7 199.9,130.4"/>
<polygon points="215.5,141.9 215.3,143.0 213.9,144.6 211.6,146.4 208.6,148.2 205.5,149.6 202.7,150.6 200.6,150.8 199.6,150.4 199.8,149.3 201.1,147.7 203.5,145.9 206.5,144.1 209.6,142.6 212.4,141.7 214.5,141.4"/>
<polygon points="224.1,147.6 224.3,148.5 223.6,149.9 222.3,151.4 220.5,152.8 218.5,154.0 216.7,154.7 215.2,154.9 214.3,154.5 214.2,153.5 214.9,152.2 216.2,150.7 218.0,149.2 219.9,148.0 221.8,147.3 223.3,147.2"/>
<polygon points="222.9,156.1 222.8,157.0 222.0,157.9 220.6,158.9 218.9,159.7 217.0,160.2 215.3,160.4 214.1,160.1 213.5,159.5 213.6,158.7 214.4,157.7 215.7,156.7 217.5,156.0 219.3,155.4 221.0,155.3 222.2,155.5"/>
<polygon points="250.1,141.9 243.7,145.1 238.4,150.4 235.2,155.7 238.4,162.1 232.0,167.4 228.8,174.9 230.9,183.4 224.6,189.7 222.4,194.0 226.7,198.3 230.9,200.4 228.8,194.0 234.1,187.6 232.0,179.1 237.3,172.7 243.7,167.4 240.5,160.0 243.7,153.6 250.1,149.3"/>
</g>
</g>
<line x1="0" y1="0" x2="0" y2="198" stroke="#c4c4c8" stroke-width="1"/>
<line x1="248" y1="0" x2="248" y2="198" stroke="#9c9ca6" stroke-width="1"/>
<line x1="-0.5" y1="0" x2="248.5" y2="0" stroke="#2e2e2e" stroke-width="1"/>
<line x1="-0.5" y1="198" x2="248.5" y2="198" stroke="#2e2e2e" stroke-width="1"/>
</svg>
<div class="t pl" style="left:168.1px;top:62.0px">A</div>
<svg style="position:absolute;left:161.5px;top:294.5px;overflow:visible" width="248" height="198" viewBox="0 0 248 198">
<defs><clipPath id="cpB"><rect x="0" y="0" width="248" height="198"/></clipPath><filter id="blB" x="-5%" y="-5%" width="110%" height="110%"><feGaussianBlur stdDeviation="1.6"/></filter></defs>
<g clip-path="url(#cpB)">
<g filter="url(#blB)">
<polygon points="-2.0,-2.0 250.0,-2.0 250.0,200.0 -2.0,200.0" fill="#f1ecf4"/>
<polygon points="133.0,-2.0 250.0,-2.0 250.0,42.0 200.0,40.0 160.0,45.0 140.0,35.0" fill="#dbdaea"/>
<polygon points="165.0,2.0 200.0,0.0 215.0,10.0 200.0,25.0 175.0,22.0" fill="#d2d3e7"/>
<polygon points="215.0,15.0 245.0,12.0 250.0,30.0 230.0,35.0 215.0,28.0" fill="#d4d4e8"/>
<polygon points="55.0,-2.0 135.0,-2.0 142.0,38.0 160.0,50.0 150.0,62.0 110.0,70.0 70.0,55.0 55.0,30.0" fill="#e9e2ef"/>
<polygon points="170.0,45.0 250.0,42.0 250.0,105.0 215.0,95.0 185.0,80.0 170.0,65.0" fill="#e9e2ef"/>
<polygon points="-2.0,35.0 40.0,30.0 80.0,50.0 95.0,80.0 70.0,100.0 30.0,105.0 -2.0,100.0" fill="#f7f3f8"/>
<polygon points="110.0,70.0 150.0,62.0 175.0,75.0 180.0,95.0 150.0,102.0 118.0,100.0 100.0,95.0" fill="#f9f6fa"/>
<polygon points="-2.0,108.0 40.0,105.0 70.0,112.0 80.0,130.0 50.0,145.0 20.0,150.0 -2.0,152.0" fill="#f5f1f7"/>
<polygon points="80.0,90.0 110.0,95.0 100.0,115.0 80.0,118.0" fill="#f4f0f6"/>
<polygon points="0.0,107.8 19.0,104.7 47.6,104.7 79.3,111.0 95.1,133.2 79.3,149.1 47.6,158.6 19.0,164.9 0.0,168.1" fill="#f8f5f9"/>
<polygon points="0.0,172.4 4.8,170.8 15.9,170.0 23.9,168.4 31.8,166.0 39.8,164.4 47.8,162.0 55.7,159.6 62.1,155.7 66.9,150.9 71.7,145.3 73.2,141.3 76.4,137.3 82.8,132.6 89.2,129.4 92.4,125.4 95.5,120.6 100.3,115.8 108.3,111.9 116.2,109.5 124.0,107.1 132.0,107.9 139.9,108.7 147.9,110.3 155.8,112.7 162.2,114.3 165.4,117.4 168.6,118.2 171.8,115.1 176.5,116.6 182.9,118.2 187.7,119.8 190.9,121.4 195.7,123.8 200.4,126.2 205.2,129.4 210.0,131.8 214.8,135.0 219.5,137.3 225.9,139.7 229.9,141.6 232.3,144.2 231.0,139.7 233.9,140.1 238.6,142.9 245.0,144.5 249.8,145.3 250.0,200.0 -2.0,200.0" fill="#077f83"/>
<polygon points="-2.0,172.0 16.0,168.0 32.0,165.0 48.0,160.0 63.0,155.0 79.0,149.0 92.0,141.0 96.0,145.0 82.0,156.0 65.0,161.0 45.0,166.0 20.0,170.0 -2.0,173.0" fill="#e7dfee"/>
<polygon points="-1.6,171.6 31.7,166.9 63.4,159.6 76.1,171.6 63.4,197.3 -1.6,197.3" fill="#4396c4"/>
<polygon points="-1.6,181.2 31.7,175.5 63.4,171.6 76.1,181.2 63.4,197.3 -1.6,197.3" fill="#067c7d"/>
<polygon points="47.6,185.9 79.3,179.6 104.7,178.0 114.2,184.3 104.7,200.2 47.6,200.2" fill="#9cb8d8"/>
<polygon points="104.7,168.5 126.9,165.3 142.7,171.6 145.9,200.2 104.7,200.2" fill="#7baed2"/>
<polygon points="88.8,133.6 95.1,124.1 104.7,116.1 111.0,139.9 107.8,162.1 95.1,168.5 85.6,159.0" fill="#2a8db0"/>
<polygon points="106.2,114.6 120.5,108.2 126.9,111.4 126.9,155.8 117.3,168.5 107.8,168.5 111.0,139.9" fill="#5da3cc"/>
<polygon points="126.2,111.4 130.7,111.4 130.7,133.6 128.4,152.6 120.5,165.3 112.6,170.1 111.0,166.9 118.9,159.6 126.2,149.4 126.9,133.6" fill="#c1c8e1"/>
<polygon points="133.2,109.8 144.3,111.4 149.1,124.1 145.9,139.9 136.4,136.8 133.2,124.1" fill="#016c5c"/>
<polygon points="150.0,110.9 152.5,111.7 155.0,112.4 157.5,113.1 160.0,113.7 162.5,114.5 165.0,117.0 167.5,118.0 170.0,116.8 172.5,115.3 175.0,116.1 177.5,116.9 180.0,117.5 182.5,118.1 185.0,118.9 187.5,119.8 190.0,121.0 192.5,122.2 195.0,123.5 197.5,124.7 200.0,126.0 202.5,127.6 205.0,129.2 207.5,130.5 210.0,131.8 212.5,133.4 215.0,135.1 217.5,136.3 220.0,137.5 222.5,138.5 225.0,139.4 227.5,140.5 230.0,141.8 232.5,139.9 235.0,140.7 237.5,142.2 240.0,143.3 242.5,143.9 245.0,144.5 247.5,144.9 250.0,145.3 250.0,149.3 247.5,148.9 245.0,148.5 242.5,147.9 240.0,147.3 237.5,146.2 235.0,144.7 232.5,143.9 230.0,145.8 227.5,144.5 225.0,143.4 222.5,142.5 220.0,141.5 217.5,140.3 215.0,139.1 212.5,137.4 210.0,135.8 207.5,134.5 205.0,133.2 202.5,131.6 200.0,130.0 197.5,128.7 195.0,127.5 192.5,126.2 190.0,125.0 187.5,123.8 185.0,122.9 182.5,122.1 180.0,121.5 177.5,120.9 175.0,120.1 172.5,119.3 170.0,120.8 167.5,122.0 165.0,121.0 162.5,118.5 160.0,117.7 157.5,117.1 155.0,116.4 152.5,115.7 150.0,114.9" fill="#7baed2"/>
<polygon points="164.9,149.4 190.3,146.3 203.0,155.8 190.3,165.3 168.1,162.1" fill="#2a8db0"/>
<polygon points="152.2,181.2 177.6,178.0 190.3,197.3 152.2,197.3" fill="#228ba6"/>
<polygon points="206.2,168.5 228.4,165.3 234.7,181.2 215.7,184.3" fill="#2a8db0"/>
</g>
<filter id="bbB" x="-5%" y="-5%" width="110%" height="110%"><feGaussianBlur stdDeviation="0.7"/></filter><g filter="url(#bbB)">
<ellipse cx="168.9" cy="79.5" rx="4.5" ry="2" transform="rotate(-10 168.9 79.5)" fill="#1d8aa0"/>
<ellipse cx="182.2" cy="69.0" rx="2.2" ry="1.6" transform="rotate(0 182.2 69.0)" fill="#509dc8"/>
<ellipse cx="197.8" cy="79.6" rx="1.8" ry="1.6" transform="rotate(0 197.8 79.6)" fill="#6aa9cf"/>
<ellipse cx="203.3" cy="91.2" rx="7" ry="2" transform="rotate(-25 203.3 91.2)" fill="#077f83"/>
<ellipse cx="214.5" cy="79.0" rx="2.2" ry="1.6" transform="rotate(0 214.5 79.0)" fill="#509dc8"/>
<ellipse cx="194.2" cy="101.2" rx="4.5" ry="1.6" transform="rotate(-5 194.2 101.2)" fill="#077f83"/>
<ellipse cx="222.2" cy="110.4" rx="8" ry="2.2" transform="rotate(-22 222.2 110.4)" fill="#017263"/>
<ellipse cx="236.9" cy="102.0" rx="4" ry="1.7" transform="rotate(-5 236.9 102.0)" fill="#017263"/>
<ellipse cx="250.0" cy="108.0" rx="2.5" ry="2" transform="rotate(0 250.0 108.0)" fill="#077f83"/>
<ellipse cx="184.3" cy="93.5" rx="2.5" ry="2" transform="rotate(0 184.3 93.5)" fill="#6aa9cf"/>
<ellipse cx="231.3" cy="91.7" rx="2.2" ry="1.2" transform="rotate(0 231.3 91.7)" fill="#8cb3d6"/>
<ellipse cx="215.9" cy="94.0" rx="2.2" ry="1.2" transform="rotate(0 215.9 94.0)" fill="#8cb3d6"/>
<ellipse cx="165.4" cy="91.7" rx="2.2" ry="1.2" transform="rotate(0 165.4 91.7)" fill="#abbedb"/>
<ellipse cx="210.3" cy="105.7" rx="2.2" ry="1.2" transform="rotate(0 210.3 105.7)" fill="#8cb3d6"/>
<ellipse cx="199.8" cy="116.2" rx="1.8" ry="1.4" transform="rotate(0 199.8 116.2)" fill="#8cb3d6"/>
<ellipse cx="25.4" cy="128.4" rx="9" ry="2.5" transform="rotate(-5 25.4 128.4)" fill="#abbedb"/>
<ellipse cx="34.9" cy="142.7" rx="3" ry="4" transform="rotate(0 34.9 142.7)" fill="#abbedb"/>
<ellipse cx="23.8" cy="160.2" rx="3" ry="3" transform="rotate(0 23.8 160.2)" fill="#abbedb"/>
</g>
<g fill="none" stroke="#1a1a1a" stroke-width="0.75" stroke-linejoin="round">
<polyline points="0.0,172.4 4.8,170.8 15.9,170.0 23.9,168.4 31.8,166.0 39.8,164.4 47.8,162.0 55.7,159.6 62.1,155.7 66.9,150.9 71.7,145.3 73.2,141.3 76.4,137.3 82.8,132.6 89.2,129.4 92.4,125.4 95.5,120.6 100.3,115.8 108.3,111.9 116.2,109.5 124.0,107.1 132.0,107.9 139.9,108.7 147.9,110.3 155.8,112.7 162.2,114.3 165.4,117.4 168.6,118.2 171.8,115.1 176.5,116.6 182.9,118.2 187.7,119.8 190.9,121.4 195.7,123.8 200.4,126.2 205.2,129.4 210.0,131.8 214.8,135.0 219.5,137.3 225.9,139.7 229.9,141.6 232.3,144.2 231.0,139.7 233.9,140.1 238.6,142.9 245.0,144.5 249.8,145.3"/>
<polyline points="-0.8,135.1 6.4,133.4 14.3,131.3 17.5,132.6 17.5,136.5 20.7,138.9 22.3,141.3 19.9,143.7 15.9,146.9 11.1,150.9 7.2,154.1 6.4,158.0 3.2,160.4 0.8,163.6 1.6,166.8 4.0,170.8"/>
<polyline points="21.5,138.9 25.5,135.3 31.8,135.8 39.8,137.3 44.6,138.1 49.4,137.3 52.5,135.0 57.3,134.2 58.9,131.8 57.3,128.6 56.5,123.8 57.3,119.0 60.5,115.8 63.7,112.7 65.3,109.5 68.5,106.3 70.1,103.1 71.7,99.9 74.8,97.5 78.0,98.3 82.8,99.9 87.6,101.5 90.8,99.1 95.5,98.3 101.9,97.5 108.3,95.9 111.5,92.0 117.8,91.2 122.6,92.0 125.0,95.1 128.8,97.5 133.6,94.5 139.5,92.5 139.1,86.0 138.3,83.6 143.1,82.0 149.5,82.8 155.8,87.6 160.6,91.0 165.4,90.4 168.6,87.2 171.8,88.8 176.5,89.6 182.9,91.2 187.7,90.4 192.5,92.0 197.2,95.1 198.8,99.9 195.7,104.7 192.5,107.1 198.8,107.9 203.6,106.3 208.4,106.3 213.2,109.5 216.4,112.7 221.1,114.3 225.9,117.4 230.7,120.6 233.9,123.0 235.5,127.0 233.9,131.0 238.6,128.6 241.8,130.2 243.4,133.4 246.6,136.5 247.6,139.7 248.2,145.1"/>
<polyline points="219.5,113.6 224.3,107.9 229.1,103.9 235.5,102.3 241.8,102.3 246.6,103.9 249.8,106.3"/>
<polyline points="123.8,-0.4 127.0,2.7 129.6,6.2 132.3,10.7 128.8,12.5 125.2,15.2 121.6,17.4 119.8,20.1 117.2,21.4 114.5,20.1 111.8,16.9 108.2,15.2 103.8,14.7 102.0,16.5 99.3,19.2 99.3,21.4 101.1,23.2 102.0,25.9 102.9,29.4 103.8,33.0 106.4,35.2 109.1,37.5 110.9,40.1 112.7,42.8 115.4,46.8 119.8,47.3 124.3,49.1 127.9,47.3 131.4,45.5 135.9,44.2 138.1,45.5 139.5,50.0 142.1,51.3 144.8,51.7 146.6,54.4 148.8,58.0 150.2,60.0 154.3,62.9 155.8,66.9 160.6,68.5 165.4,70.1 168.6,73.2 169.4,78.0 170.2,82.8 171.8,85.2"/>
<polyline points="169.4,74.8 171.8,81.2 175.0,82.0 180.5,81.2 179.7,76.4 181.3,73.2 184.5,68.5 182.9,62.9 176.5,60.5"/>
<polyline points="176.5,60.5 178.1,55.7 181.3,51.0 184.5,46.2 187.7,43.0 194.1,40.6 200.4,39.8 203.6,37.4 208.4,38.2 211.6,39.8 213.2,41.4 219.5,43.8 224.3,39.8 229.1,43.0 233.9,38.2 238.6,36.6 241.8,39.0 249.8,37.4"/>
</g>
<g stroke="#f00" stroke-width="0.8" fill="#f00"><line x1="15.4" y1="7.5" x2="16.3" y2="7.8"/><polygon points="16.9,7.9 16.2,8.0 16.4,7.5"/><circle cx="34.5" cy="7.5" r="0.42" fill="#f00"/><line x1="53.6" y1="7.5" x2="54.0" y2="8.2"/><polygon points="54.2,8.6 53.8,8.3 54.2,8.1"/><circle cx="72.7" cy="7.5" r="0.42" fill="#f00"/><circle cx="91.8" cy="7.5" r="0.42" fill="#f00"/><circle cx="110.9" cy="7.5" r="0.42" fill="#f00"/><line x1="130.0" y1="7.5" x2="127.2" y2="7.7"/><polygon points="125.5,7.8 127.2,7.0 127.3,8.4"/><line x1="149.1" y1="7.5" x2="146.3" y2="7.6"/><polygon points="144.6,7.7 146.3,6.9 146.3,8.4"/><line x1="168.2" y1="7.5" x2="165.4" y2="8.0"/><polygon points="163.8,8.2 165.3,7.2 165.6,8.7"/><line x1="187.3" y1="7.5" x2="184.6" y2="8.2"/><polygon points="183.0,8.7 184.4,7.5 184.8,8.9"/><line x1="206.4" y1="7.5" x2="203.7" y2="8.2"/><polygon points="202.0,8.6 203.5,7.5 203.9,8.9"/><line x1="225.5" y1="7.5" x2="222.7" y2="7.8"/><polygon points="221.0,8.0 222.7,7.1 222.8,8.5"/><line x1="244.6" y1="7.5" x2="241.8" y2="7.7"/><polygon points="240.1,7.8 241.8,7.0 241.9,8.4"/><circle cx="15.4" cy="21.0" r="0.42" fill="#f00"/><circle cx="34.5" cy="21.0" r="0.42" fill="#f00"/><circle cx="53.6" cy="21.0" r="0.42" fill="#f00"/><circle cx="72.7" cy="21.0" r="0.42" fill="#f00"/><circle cx="91.8" cy="21.0" r="0.42" fill="#f00"/><circle cx="110.9" cy="21.0" r="0.42" fill="#f00"/><line x1="130.0" y1="21.0" x2="127.2" y2="20.9"/><polygon points="125.5,20.8 127.2,20.2 127.2,21.6"/><line x1="149.1" y1="21.0" x2="146.3" y2="21.3"/><polygon points="144.6,21.4 146.3,20.5 146.4,22.0"/><line x1="168.2" y1="21.0" x2="165.5" y2="21.7"/><polygon points="163.9,22.2 165.3,21.0 165.7,22.4"/><line x1="187.3" y1="21.0" x2="184.5" y2="21.4"/><polygon points="182.8,21.7 184.4,20.7 184.6,22.1"/><line x1="206.4" y1="21.0" x2="203.6" y2="20.9"/><polygon points="201.9,20.9 203.6,20.2 203.6,21.7"/><line x1="225.5" y1="21.0" x2="222.8" y2="21.6"/><polygon points="221.1,22.0 222.6,20.9 222.9,22.3"/><line x1="244.6" y1="21.0" x2="241.9" y2="21.5"/><polygon points="240.2,21.9 241.7,20.8 242.0,22.2"/><line x1="15.4" y1="34.5" x2="15.3" y2="35.4"/><polygon points="15.3,36.0 15.1,35.4 15.5,35.4"/><line x1="34.5" y1="34.5" x2="34.6" y2="35.3"/><polygon points="34.6,35.8 34.4,35.3 34.8,35.3"/><line x1="53.6" y1="34.5" x2="53.0" y2="33.7"/><polygon points="52.6,33.2 53.2,33.6 52.8,33.9"/><circle cx="72.7" cy="34.5" r="0.42" fill="#f00"/><line x1="91.8" y1="34.5" x2="91.8" y2="35.2"/><polygon points="91.8,35.7 91.6,35.2 92.0,35.2"/><circle cx="110.9" cy="34.5" r="0.42" fill="#f00"/><line x1="130.0" y1="34.5" x2="127.2" y2="34.7"/><polygon points="125.5,34.9 127.2,34.0 127.3,35.5"/><line x1="149.1" y1="34.5" x2="146.4" y2="35.2"/><polygon points="144.7,35.6 146.2,34.5 146.6,35.9"/><line x1="168.2" y1="34.5" x2="165.4" y2="34.7"/><polygon points="163.7,34.9 165.4,34.0 165.5,35.5"/><line x1="187.3" y1="34.5" x2="184.6" y2="35.1"/><polygon points="182.9,35.4 184.4,34.4 184.7,35.8"/><line x1="206.4" y1="34.5" x2="203.6" y2="34.6"/><polygon points="201.9,34.7 203.6,33.9 203.6,35.3"/><line x1="225.5" y1="34.5" x2="222.8" y2="35.1"/><polygon points="221.1,35.5 222.6,34.4 222.9,35.8"/><line x1="244.6" y1="34.5" x2="241.9" y2="35.1"/><polygon points="240.2,35.5 241.7,34.4 242.0,35.8"/><circle cx="15.4" cy="48.0" r="0.42" fill="#f00"/><line x1="34.5" y1="48.0" x2="35.2" y2="48.4"/><polygon points="35.6,48.6 35.1,48.5 35.3,48.2"/><circle cx="53.6" cy="48.0" r="0.42" fill="#f00"/><circle cx="72.7" cy="48.0" r="0.42" fill="#f00"/><line x1="91.8" y1="48.0" x2="92.3" y2="47.2"/><polygon points="92.5,46.7 92.5,47.3 92.1,47.1"/><line x1="110.9" y1="48.0" x2="110.8" y2="47.1"/><polygon points="110.7,46.5 111.0,47.1 110.6,47.1"/><line x1="130.0" y1="48.0" x2="127.2" y2="48.1"/><polygon points="125.5,48.1 127.2,47.3 127.2,48.8"/><line x1="149.1" y1="48.0" x2="146.4" y2="48.7"/><polygon points="144.7,49.1 146.2,48.0 146.6,49.4"/><line x1="168.2" y1="48.0" x2="165.4" y2="48.4"/><polygon points="163.8,48.7 165.3,47.7 165.6,49.2"/><line x1="187.3" y1="48.0" x2="184.5" y2="48.2"/><polygon points="182.8,48.4 184.5,47.5 184.6,49.0"/><line x1="206.4" y1="48.0" x2="203.6" y2="48.3"/><polygon points="201.9,48.4 203.6,47.5 203.7,49.0"/><line x1="225.5" y1="48.0" x2="222.7" y2="48.4"/><polygon points="221.0,48.6 222.6,47.7 222.8,49.1"/><line x1="244.6" y1="48.0" x2="241.8" y2="48.3"/><polygon points="240.1,48.5 241.7,47.6 241.9,49.0"/><circle cx="15.4" cy="61.5" r="0.42" fill="#f00"/><line x1="34.5" y1="61.5" x2="33.6" y2="61.6"/><polygon points="33.0,61.6 33.5,61.3 33.6,61.8"/><circle cx="53.6" cy="61.5" r="0.42" fill="#f00"/><line x1="72.7" y1="61.5" x2="73.0" y2="62.2"/><polygon points="73.2,62.6 72.8,62.3 73.2,62.1"/><circle cx="91.8" cy="61.5" r="0.42" fill="#f00"/><circle cx="110.9" cy="61.5" r="0.42" fill="#f00"/><line x1="130.0" y1="61.5" x2="127.2" y2="61.9"/><polygon points="125.5,62.1 127.1,61.2 127.3,62.6"/><line x1="149.1" y1="61.5" x2="146.3" y2="61.5"/><polygon points="144.6,61.5 146.3,60.8 146.3,62.2"/><line x1="168.2" y1="61.5" x2="165.4" y2="61.5"/><polygon points="163.7,61.5 165.4,60.8 165.4,62.2"/><line x1="187.3" y1="61.5" x2="184.6" y2="62.1"/><polygon points="182.9,62.5 184.4,61.4 184.7,62.8"/><line x1="206.4" y1="61.5" x2="203.6" y2="61.4"/><polygon points="201.9,61.3 203.6,60.6 203.6,62.1"/><line x1="225.5" y1="61.5" x2="222.7" y2="61.8"/><polygon points="221.0,61.9 222.7,61.0 222.8,62.5"/><line x1="244.6" y1="61.5" x2="241.9" y2="62.1"/><polygon points="240.2,62.4 241.7,61.4 242.0,62.8"/><circle cx="15.4" cy="75.0" r="0.42" fill="#f00"/><circle cx="34.5" cy="75.0" r="0.42" fill="#f00"/><circle cx="53.6" cy="75.0" r="0.42" fill="#f00"/><circle cx="72.7" cy="75.0" r="0.42" fill="#f00"/><circle cx="91.8" cy="75.0" r="0.42" fill="#f00"/><circle cx="110.9" cy="75.0" r="0.42" fill="#f00"/><circle cx="130.0" cy="75.0" r="0.42" fill="#f00"/><circle cx="149.1" cy="75.0" r="0.42" fill="#f00"/><line x1="168.2" y1="75.0" x2="166.6" y2="75.6"/><polygon points="165.7,75.9 166.5,75.2 166.8,76.0"/><line x1="187.3" y1="75.0" x2="186.3" y2="74.8"/><polygon points="185.7,74.7 186.3,74.6 186.2,75.1"/><line x1="206.4" y1="75.0" x2="204.6" y2="74.7"/><polygon points="203.6,74.5 204.7,74.2 204.6,75.1"/><circle cx="225.5" cy="75.0" r="0.42" fill="#f00"/><circle cx="244.6" cy="75.0" r="0.42" fill="#f00"/><circle cx="15.4" cy="88.5" r="0.42" fill="#f00"/><circle cx="34.5" cy="88.5" r="0.42" fill="#f00"/><circle cx="53.6" cy="88.5" r="0.42" fill="#f00"/><circle cx="72.7" cy="88.5" r="0.42" fill="#f00"/><circle cx="91.8" cy="88.5" r="0.42" fill="#f00"/><circle cx="110.9" cy="88.5" r="0.42" fill="#f00"/><line x1="130.0" y1="88.5" x2="130.5" y2="87.7"/><polygon points="130.9,87.2 130.7,87.9 130.3,87.6"/><line x1="149.1" y1="88.5" x2="147.6" y2="88.2"/><polygon points="146.7,88.1 147.7,87.8 147.5,88.6"/><line x1="168.2" y1="88.5" x2="166.9" y2="89.8"/><polygon points="166.1,90.6 166.5,89.5 167.2,90.2"/><line x1="187.3" y1="88.5" x2="186.2" y2="88.3"/><polygon points="185.5,88.2 186.2,88.0 186.1,88.6"/><line x1="206.4" y1="88.5" x2="205.2" y2="88.9"/><polygon points="204.5,89.2 205.1,88.6 205.3,89.2"/><line x1="225.5" y1="88.5" x2="225.1" y2="89.6"/><polygon points="224.8,90.3 224.8,89.5 225.4,89.7"/><circle cx="244.6" cy="88.5" r="0.42" fill="#f00"/><circle cx="15.4" cy="102.0" r="0.42" fill="#f00"/><circle cx="34.5" cy="102.0" r="0.42" fill="#f00"/><circle cx="53.6" cy="102.0" r="0.42" fill="#f00"/><circle cx="72.7" cy="102.0" r="0.42" fill="#f00"/><circle cx="91.8" cy="102.0" r="0.42" fill="#f00"/><circle cx="110.9" cy="102.0" r="0.42" fill="#f00"/><line x1="130.0" y1="102.0" x2="129.0" y2="102.1"/><polygon points="128.4,102.1 129.0,101.8 129.0,102.3"/><line x1="149.1" y1="102.0" x2="147.0" y2="101.6"/><polygon points="145.7,101.4 147.1,101.1 146.9,102.2"/><line x1="168.2" y1="102.0" x2="166.7" y2="102.6"/><polygon points="165.7,102.9 166.5,102.2 166.8,103.0"/><line x1="187.3" y1="102.0" x2="186.5" y2="101.9"/><polygon points="186.1,101.8 186.6,101.7 186.5,102.1"/><line x1="206.4" y1="102.0" x2="205.0" y2="102.5"/><polygon points="204.2,102.8 204.9,102.1 205.1,102.9"/><line x1="225.5" y1="102.0" x2="224.9" y2="102.6"/><polygon points="224.6,102.9 224.8,102.4 225.1,102.7"/><line x1="244.6" y1="102.0" x2="244.3" y2="102.8"/><polygon points="244.1,103.3 244.1,102.7 244.5,102.9"/><circle cx="15.4" cy="115.5" r="0.42" fill="#f00"/><circle cx="34.5" cy="115.5" r="0.42" fill="#f00"/><circle cx="53.6" cy="115.5" r="0.42" fill="#f00"/><circle cx="72.7" cy="115.5" r="0.42" fill="#f00"/><circle cx="91.8" cy="115.5" r="0.42" fill="#f00"/><line x1="110.9" y1="115.5" x2="108.9" y2="119.6"/><polygon points="107.7,122.1 107.9,119.1 110.0,120.1"/><line x1="130.0" y1="115.5" x2="124.7" y2="114.6"/><polygon points="121.8,114.1 124.9,113.4 124.5,115.8"/><line x1="149.1" y1="115.5" x2="144.5" y2="114.6"/><polygon points="141.7,114.0 144.7,113.4 144.3,115.8"/><circle cx="168.2" cy="115.5" r="0.42" fill="#f00"/><line x1="187.3" y1="115.5" x2="185.7" y2="116.1"/><polygon points="184.8,116.4 185.6,115.7 185.9,116.5"/><line x1="206.4" y1="115.5" x2="206.0" y2="116.5"/><polygon points="205.8,117.2 205.8,116.4 206.3,116.6"/><line x1="225.5" y1="115.5" x2="224.1" y2="115.3"/><polygon points="223.3,115.1 224.2,114.9 224.1,115.6"/><line x1="244.6" y1="115.5" x2="242.7" y2="115.2"/><polygon points="241.5,115.0 242.8,114.7 242.6,115.7"/><circle cx="15.4" cy="129.0" r="0.42" fill="#f00"/><circle cx="34.5" cy="129.0" r="0.42" fill="#f00"/><circle cx="53.6" cy="129.0" r="0.42" fill="#f00"/><circle cx="72.7" cy="129.0" r="0.42" fill="#f00"/><line x1="91.8" y1="129.0" x2="90.5" y2="132.3"/><polygon points="89.7,134.4 89.7,132.0 91.4,132.7"/><line x1="110.9" y1="129.0" x2="109.5" y2="133.3"/><polygon points="108.7,136.0 108.4,133.0 110.6,133.7"/><line x1="130.0" y1="129.0" x2="123.1" y2="126.1"/><polygon points="120.3,125.0 123.5,125.0 122.6,127.3"/><line x1="149.1" y1="129.0" x2="142.2" y2="126.0"/><polygon points="139.5,124.8 142.7,124.9 141.7,127.1"/><line x1="168.2" y1="129.0" x2="162.1" y2="128.1"/><polygon points="159.1,127.7 162.3,127.0 161.9,129.3"/><line x1="187.3" y1="129.0" x2="181.7" y2="127.8"/><polygon points="178.7,127.2 181.9,126.7 181.4,129.0"/><line x1="206.4" y1="129.0" x2="205.5" y2="128.8"/><polygon points="205.0,128.8 205.6,128.6 205.5,129.1"/><line x1="225.5" y1="129.0" x2="223.7" y2="128.7"/><polygon points="222.6,128.5 223.8,128.2 223.6,129.1"/><line x1="244.6" y1="129.0" x2="243.5" y2="128.8"/><polygon points="242.9,128.7 243.6,128.5 243.5,129.1"/><circle cx="15.4" cy="142.5" r="0.42" fill="#f00"/><circle cx="34.5" cy="142.5" r="0.42" fill="#f00"/><circle cx="53.6" cy="142.5" r="0.42" fill="#f00"/><circle cx="72.7" cy="142.5" r="0.42" fill="#f00"/><line x1="91.8" y1="142.5" x2="89.5" y2="149.6"/><polygon points="88.6,152.5 88.4,149.2 90.6,150.0"/><line x1="110.9" y1="142.5" x2="109.1" y2="146.7"/><polygon points="107.9,149.2 108.0,146.2 110.1,147.1"/><line x1="130.0" y1="142.5" x2="123.9" y2="138.2"/><polygon points="121.4,136.4 124.6,137.2 123.2,139.1"/><line x1="149.1" y1="142.5" x2="143.0" y2="138.2"/><polygon points="140.5,136.4 143.7,137.2 142.3,139.1"/><line x1="168.2" y1="142.5" x2="161.7" y2="138.8"/><polygon points="159.0,137.4 162.2,137.8 161.1,139.9"/><line x1="187.3" y1="142.5" x2="180.5" y2="139.3"/><polygon points="177.8,138.0 181.0,138.2 180.0,140.4"/><line x1="206.4" y1="142.5" x2="200.0" y2="141.0"/><polygon points="197.1,140.4 200.2,139.9 199.7,142.2"/><line x1="225.5" y1="142.5" x2="221.2" y2="141.4"/><polygon points="218.6,140.8 221.5,140.3 221.0,142.5"/><circle cx="244.6" cy="142.5" r="0.42" fill="#f00"/><circle cx="15.4" cy="156.0" r="0.42" fill="#f00"/><circle cx="34.5" cy="156.0" r="0.42" fill="#f00"/><circle cx="53.6" cy="156.0" r="0.42" fill="#f00"/><line x1="72.7" y1="156.0" x2="70.5" y2="162.0"/><polygon points="69.5,164.8 69.4,161.6 71.6,162.4"/><line x1="91.8" y1="156.0" x2="88.8" y2="162.9"/><polygon points="87.6,165.6 87.7,162.4 89.9,163.4"/><line x1="110.9" y1="156.0" x2="109.5" y2="160.3"/><polygon points="108.7,163.0 108.4,160.0 110.6,160.7"/><line x1="130.0" y1="156.0" x2="124.4" y2="151.0"/><polygon points="122.2,149.0 125.2,150.1 123.6,151.9"/><line x1="149.1" y1="156.0" x2="143.0" y2="151.6"/><polygon points="140.6,149.8 143.7,150.6 142.3,152.6"/><line x1="168.2" y1="156.0" x2="162.5" y2="151.2"/><polygon points="160.2,149.2 163.2,150.2 161.7,152.1"/><line x1="187.3" y1="156.0" x2="181.4" y2="151.4"/><polygon points="179.0,149.6 182.1,150.5 180.6,152.4"/><line x1="206.4" y1="156.0" x2="199.9" y2="152.2"/><polygon points="197.4,150.7 200.6,151.2 199.3,153.2"/><line x1="225.5" y1="156.0" x2="218.3" y2="153.9"/><polygon points="215.4,153.1 218.6,152.8 218.0,155.1"/><line x1="244.6" y1="156.0" x2="238.3" y2="155.0"/><polygon points="235.4,154.5 238.5,153.8 238.1,156.2"/><circle cx="15.4" cy="169.5" r="0.42" fill="#f00"/><line x1="34.5" y1="169.5" x2="31.8" y2="172.2"/><polygon points="30.2,173.9 31.1,171.5 32.6,172.9"/><line x1="53.6" y1="169.5" x2="51.2" y2="173.9"/><polygon points="49.8,176.5 50.2,173.3 52.3,174.4"/><line x1="72.7" y1="169.5" x2="70.0" y2="176.5"/><polygon points="69.0,179.3 68.9,176.1 71.2,176.9"/><line x1="91.8" y1="169.5" x2="88.9" y2="176.4"/><polygon points="87.7,179.2 87.8,176.0 90.0,176.9"/><line x1="110.9" y1="169.5" x2="109.4" y2="173.8"/><polygon points="108.5,176.5 108.3,173.4 110.5,174.2"/><line x1="130.0" y1="169.5" x2="124.4" y2="164.5"/><polygon points="122.1,162.5 125.2,163.6 123.6,165.4"/><line x1="149.1" y1="169.5" x2="143.4" y2="164.7"/><polygon points="141.1,162.7 144.1,163.8 142.6,165.6"/><line x1="168.2" y1="169.5" x2="162.4" y2="164.8"/><polygon points="160.0,162.9 163.1,163.8 161.6,165.7"/><line x1="187.3" y1="169.5" x2="181.9" y2="164.3"/><polygon points="179.7,162.2 182.7,163.4 181.1,165.2"/><line x1="206.4" y1="169.5" x2="200.3" y2="165.1"/><polygon points="197.9,163.3 201.0,164.1 199.6,166.1"/><line x1="225.5" y1="169.5" x2="219.2" y2="165.4"/><polygon points="216.7,163.8 219.8,164.4 218.5,166.5"/><line x1="244.6" y1="169.5" x2="238.3" y2="165.4"/><polygon points="235.8,163.8 239.0,164.4 237.7,166.4"/><line x1="15.4" y1="183.0" x2="9.9" y2="186.0"/><polygon points="7.3,187.5 9.3,185.0 10.5,187.1"/><line x1="34.5" y1="183.0" x2="29.3" y2="188.4"/><polygon points="27.2,190.6 28.4,187.6 30.2,189.2"/><line x1="53.6" y1="183.0" x2="50.2" y2="189.7"/><polygon points="48.8,192.3 49.1,189.1 51.2,190.2"/><line x1="72.7" y1="183.0" x2="70.5" y2="190.2"/><polygon points="69.7,193.1 69.4,189.8 71.7,190.5"/><line x1="91.8" y1="183.0" x2="89.5" y2="190.1"/><polygon points="88.6,193.0 88.4,189.8 90.7,190.5"/><line x1="110.9" y1="183.0" x2="109.7" y2="187.4"/><polygon points="109.0,190.1 108.6,187.1 110.9,187.7"/><line x1="130.0" y1="183.0" x2="124.3" y2="178.1"/><polygon points="122.1,176.1 125.1,177.2 123.6,179.0"/><line x1="149.1" y1="183.0" x2="143.4" y2="178.2"/><polygon points="141.1,176.3 144.1,177.3 142.6,179.1"/><line x1="168.2" y1="183.0" x2="163.0" y2="177.6"/><polygon points="160.9,175.5 163.8,176.8 162.1,178.5"/><line x1="187.3" y1="183.0" x2="181.4" y2="178.4"/><polygon points="179.0,176.5 182.1,177.4 180.7,179.3"/><line x1="206.4" y1="183.0" x2="200.8" y2="178.0"/><polygon points="198.6,176.0 201.6,177.1 200.0,178.9"/><line x1="225.5" y1="183.0" x2="219.5" y2="178.4"/><polygon points="217.2,176.6 220.3,177.5 218.8,179.4"/><line x1="244.6" y1="183.0" x2="238.4" y2="178.8"/><polygon points="235.9,177.1 239.1,177.8 237.7,179.7"/><line x1="15.4" y1="196.5" x2="8.9" y2="200.3"/><polygon points="6.3,201.8 8.3,199.2 9.5,201.3"/><line x1="34.5" y1="196.5" x2="29.0" y2="201.6"/><polygon points="26.9,203.7 28.2,200.8 29.9,202.5"/><line x1="53.6" y1="196.5" x2="49.7" y2="202.9"/><polygon points="48.1,205.5 48.7,202.3 50.7,203.5"/><line x1="72.7" y1="196.5" x2="69.8" y2="203.4"/><polygon points="68.6,206.2 68.7,203.0 70.9,203.9"/><line x1="91.8" y1="196.5" x2="89.7" y2="203.7"/><polygon points="88.9,206.6 88.6,203.4 90.9,204.0"/><line x1="110.9" y1="196.5" x2="109.8" y2="200.9"/><polygon points="109.1,203.6 108.6,200.6 110.9,201.2"/><line x1="130.0" y1="196.5" x2="124.6" y2="191.3"/><polygon points="122.4,189.3 125.4,190.5 123.7,192.2"/><line x1="149.1" y1="196.5" x2="143.7" y2="191.3"/><polygon points="141.6,189.2 144.6,190.4 142.9,192.1"/><line x1="168.2" y1="196.5" x2="162.9" y2="191.2"/><polygon points="160.7,189.1 163.7,190.4 162.0,192.1"/><line x1="187.3" y1="196.5" x2="181.8" y2="191.4"/><polygon points="179.6,189.4 182.6,190.6 181.0,192.3"/><line x1="206.4" y1="196.5" x2="201.1" y2="191.2"/><polygon points="198.9,189.1 201.9,190.4 200.2,192.1"/><line x1="225.5" y1="196.5" x2="220.1" y2="191.3"/><polygon points="218.0,189.2 221.0,190.4 219.3,192.1"/><line x1="244.6" y1="196.5" x2="238.6" y2="192.0"/><polygon points="236.2,190.2 239.4,191.0 237.9,192.9"/></g>
<g fill="none" stroke="#f0f" stroke-width="2" stroke-linejoin="round">
<polygon points="124.5,104.5 137.5,104.0 140.5,106.5 144.5,110.0 141.5,113.5 138.5,116.5 132.5,118.5 132.0,122.5 133.5,125.5 132.5,129.5 131.5,133.5 130.5,137.5 130.5,142.5 131.5,145.5 133.5,147.5 134.5,145.5 133.5,142.5 134.5,139.5 138.5,138.5 142.5,139.5 143.5,143.5 142.5,146.5 146.5,148.5 148.5,151.5 147.5,154.5 144.5,156.5 139.5,157.5 136.5,158.5 131.5,161.5 126.5,165.5 118.5,168.5 113.5,169.5 108.5,170.0 107.5,167.5 104.5,165.5 102.5,164.5 105.5,163.5 108.5,162.5 112.5,159.5 115.5,155.5 119.5,152.5 125.5,151.5 127.5,149.5 124.5,146.5 120.5,144.5 115.5,142.5 112.5,140.5 108.5,137.5 108.5,135.5 112.5,134.5 116.5,135.5 120.5,136.5 122.5,135.5 122.5,128.5 121.5,125.5 116.5,124.5 114.5,122.5 113.5,118.5 115.5,115.5 116.5,111.5 118.5,109.5 122.5,106.5"/>
<polygon points="145.8,129.9 145.8,130.5 145.2,131.3 144.2,132.2 142.8,133.1 141.4,133.8 140.1,134.3 139.1,134.4 138.6,134.1 138.6,133.5 139.2,132.7 140.2,131.8 141.5,130.9 143.0,130.2 144.3,129.7 145.3,129.6"/>
<polygon points="152.6,141.3 152.9,141.8 152.8,142.7 152.4,143.7 151.6,144.8 150.7,145.7 149.8,146.3 149.0,146.5 148.4,146.3 148.1,145.8 148.2,144.9 148.6,143.9 149.4,142.8 150.3,141.9 151.2,141.3 152.0,141.1"/>
<polygon points="128.4,34.6 132.3,34.2 134.6,37.7 133.8,41.5 132.3,44.6 126.1,44.9 125.4,43.8 128.4,41.5 130.7,38.4 129.2,36.1"/>
<polygon points="139.1,44.9 143.7,44.9 146.8,47.6 144.5,50.7 139.9,53.0 132.3,54.5 130.7,53.7 134.6,51.4 137.6,49.1 138.8,46.1"/>
<polygon points="241.0,153.8 246.7,155.4 244.8,162.4 241.0,168.1 244.8,175.1 241.7,179.2 235.3,175.1 233.4,165.6 236.6,158.6"/>
<polygon points="244.5,185.5 244.3,186.4 243.5,187.1 242.4,187.6 241.0,187.7 239.7,187.6 238.6,187.1 237.8,186.4 237.5,185.5 237.8,184.7 238.6,184.0 239.7,183.5 241.0,183.3 242.4,183.5 243.5,184.0 244.3,184.7"/>
</g>
<g fill="#f0f" stroke="#f0f" stroke-width="0.8">
<polygon points="167.0,34.0 166.8,34.7 166.3,35.3 165.6,35.7 164.8,35.8 163.9,35.7 163.2,35.3 162.7,34.7 162.6,34.0 162.7,33.3 163.2,32.7 163.9,32.3 164.8,32.2 165.6,32.3 166.3,32.7 166.8,33.3"/>
<polygon points="74.3,149.1 74.2,150.1 73.9,150.9 73.5,151.5 72.9,151.7 72.4,151.5 72.0,150.9 71.7,150.1 71.5,149.1 71.7,148.1 72.0,147.2 72.4,146.7 72.9,146.5 73.5,146.7 73.9,147.2 74.2,148.1"/>
</g>
</g>
<line x1="0" y1="0" x2="0" y2="198" stroke="#c4c4c8" stroke-width="1"/>
<line x1="248" y1="0" x2="248" y2="198" stroke="#9c9ca6" stroke-width="1"/>
<line x1="-0.5" y1="0" x2="248.5" y2="0" stroke="#333333" stroke-width="1"/>
<line x1="-0.5" y1="198" x2="248.5" y2="198" stroke="#3a3a40" stroke-width="1"/>
</svg>
<div class="t pl" style="left:170.4px;top:297.7px">B</div>
<svg style="position:absolute;left:161.5px;top:523.5px;overflow:visible" width="248" height="198" viewBox="0 0 248 198">
<defs><clipPath id="cpC"><rect x="0" y="0" width="248" height="198"/></clipPath><filter id="blC" x="-5%" y="-5%" width="110%" height="110%"><feGaussianBlur stdDeviation="1.6"/></filter></defs>
<g clip-path="url(#cpC)">
<g filter="url(#blC)">
<polygon points="-2.0,-2.0 250.0,-2.0 250.0,200.0 -2.0,200.0" fill="#f1ecf4"/>
<polygon points="133.0,-2.0 250.0,-2.0 250.0,42.0 200.0,40.0 160.0,45.0 140.0,35.0" fill="#dbdaea"/>
<polygon points="165.0,2.0 200.0,0.0 215.0,10.0 200.0,25.0 175.0,22.0" fill="#d2d3e7"/>
<polygon points="215.0,15.0 245.0,12.0 250.0,30.0 230.0,35.0 215.0,28.0" fill="#d4d4e8"/>
<polygon points="55.0,-2.0 135.0,-2.0 142.0,38.0 160.0,50.0 150.0,62.0 110.0,70.0 70.0,55.0 55.0,30.0" fill="#e9e2ef"/>
<polygon points="170.0,45.0 250.0,42.0 250.0,105.0 215.0,95.0 185.0,80.0 170.0,65.0" fill="#e9e2ef"/>
<polygon points="-2.0,35.0 40.0,30.0 80.0,50.0 95.0,80.0 70.0,100.0 30.0,105.0 -2.0,100.0" fill="#f7f3f8"/>
<polygon points="110.0,70.0 150.0,62.0 175.0,75.0 180.0,95.0 150.0,102.0 118.0,100.0 100.0,95.0" fill="#f9f6fa"/>
<polygon points="-2.0,108.0 40.0,105.0 70.0,112.0 80.0,130.0 50.0,145.0 20.0,150.0 -2.0,152.0" fill="#f5f1f7"/>
<polygon points="80.0,90.0 110.0,95.0 100.0,115.0 80.0,118.0" fill="#f4f0f6"/>
<polygon points="0.0,107.8 19.0,104.7 47.6,104.7 79.3,111.0 95.1,133.2 79.3,149.1 47.6,158.6 19.0,164.9 0.0,168.1" fill="#f8f5f9"/>
<polygon points="0.0,172.4 4.8,170.8 15.9,170.0 23.9,168.4 31.8,166.0 39.8,164.4 47.8,162.0 55.7,159.6 62.1,155.7 66.9,150.9 71.7,145.3 73.2,141.3 76.4,137.3 82.8,132.6 89.2,129.4 92.4,125.4 95.5,120.6 100.3,115.8 108.3,111.9 116.2,109.5 124.0,107.1 132.0,107.9 139.9,108.7 147.9,110.3 155.8,112.7 162.2,114.3 165.4,117.4 168.6,118.2 171.8,115.1 176.5,116.6 182.9,118.2 187.7,119.8 190.9,121.4 195.7,123.8 200.4,126.2 205.2,129.4 210.0,131.8 214.8,135.0 219.5,137.3 225.9,139.7 229.9,141.6 232.3,144.2 231.0,139.7 233.9,140.1 238.6,142.9 245.0,144.5 249.8,145.3 250.0,200.0 -2.0,200.0" fill="#10838f"/>
<polygon points="-2.0,172.0 16.0,168.0 32.0,165.0 48.0,160.0 63.0,155.0 79.0,149.0 92.0,141.0 101.0,130.0 110.0,120.0 106.0,135.0 98.0,150.0 88.0,160.0 70.0,166.0 40.0,173.0 -2.0,180.0" fill="#e9e2ef"/>
<polygon points="63.4,156.3 79.3,140.4 92.0,124.6 98.3,118.2 95.1,134.1 85.6,149.9 72.9,161.0" fill="#b9c4df"/>
<polygon points="-1.6,181.7 31.7,176.0 63.4,167.4 76.1,172.1 72.9,200.7 -1.6,200.7" fill="#509dc8"/>
<polygon points="-1.6,188.6 31.7,183.2 63.4,176.0 76.1,181.7 72.9,200.7 -1.6,200.7" fill="#077f83"/>
<polygon points="95.1,172.1 104.7,156.3 109.4,140.4 114.2,127.7 126.9,124.6 136.4,140.4 139.5,172.1 136.4,200.7 88.8,200.7" fill="#a2bbda"/>
<polygon points="126.9,129.3 130.7,130.9 122.1,146.8 112.6,162.6 104.7,181.7 96.7,200.7 92.6,200.7 101.5,178.5 109.4,160.1 118.9,143.6" fill="#dddaeb"/>
<polygon points="104.7,118.2 117.3,110.3 125.3,108.7 126.9,124.6 114.2,127.7 109.4,140.4 104.7,134.1" fill="#4396c4"/>
<polygon points="133.2,107.1 145.9,108.7 149.1,124.6 142.7,138.8 134.8,137.3 131.6,121.4" fill="#016858"/>
<polygon points="165.0,117.0 167.1,117.9 169.2,117.6 171.4,115.4 173.5,115.6 175.6,116.3 177.8,116.9 179.9,117.5 182.0,118.0 184.1,118.6 186.2,119.3 188.4,120.2 190.5,121.2 192.6,122.3 194.8,123.4 196.9,124.4 199.0,125.5 201.1,126.7 203.2,128.1 205.4,129.5 207.5,130.5 209.6,131.6 211.8,132.9 213.9,134.4 216.0,135.6 218.1,136.6 220.2,137.6 222.4,138.4 224.5,139.2 226.6,140.1 228.8,141.1 230.9,142.7 233.0,140.0 235.1,140.8 237.2,142.1 239.4,143.1 241.5,143.6 243.6,144.2 245.8,144.6 247.9,145.0 250.0,145.3 250.0,151.3 247.9,151.0 245.8,150.6 243.6,150.2 241.5,149.6 239.4,149.1 237.2,148.1 235.1,146.8 233.0,146.0 230.9,148.7 228.8,147.1 226.6,146.1 224.5,145.2 222.4,144.4 220.2,143.6 218.1,142.6 216.0,141.6 213.9,140.4 211.8,138.9 209.6,137.6 207.5,136.5 205.4,135.5 203.2,134.1 201.1,132.7 199.0,131.5 196.9,130.4 194.8,129.4 192.6,128.3 190.5,127.2 188.4,126.2 186.2,125.3 184.1,124.6 182.0,124.0 179.9,123.5 177.8,122.9 175.6,122.3 173.5,121.6 171.4,121.4 169.2,123.6 167.1,123.9 165.0,123.0" fill="#abbedb"/>
<polygon points="140.0,108.7 140.8,108.8 141.5,109.0 142.2,109.1 143.0,109.3 143.8,109.4 144.5,109.6 145.2,109.7 146.0,109.9 146.8,110.0 147.5,110.2 148.2,110.4 149.0,110.6 149.8,110.8 150.5,111.1 151.2,111.3 152.0,111.5 152.8,111.7 153.5,112.0 154.2,112.2 155.0,112.4 155.8,112.6 156.5,112.8 157.2,113.0 158.0,113.2 158.8,113.4 159.5,113.6 160.2,113.8 161.0,114.0 161.8,114.1 162.5,114.5 163.2,115.3 164.0,116.0 164.8,116.8 165.5,117.5 166.2,117.7 167.0,117.8 167.8,118.0 168.5,118.2 169.2,117.6 170.0,116.8 170.0,120.8 169.2,121.6 168.5,122.2 167.8,122.0 167.0,121.8 166.2,121.7 165.5,121.5 164.8,120.8 164.0,120.0 163.2,119.3 162.5,118.5 161.8,118.1 161.0,118.0 160.2,117.8 159.5,117.6 158.8,117.4 158.0,117.2 157.2,117.0 156.5,116.8 155.8,116.6 155.0,116.4 154.2,116.2 153.5,116.0 152.8,115.7 152.0,115.5 151.2,115.3 150.5,115.1 149.8,114.8 149.0,114.6 148.2,114.4 147.5,114.2 146.8,114.0 146.0,113.9 145.2,113.7 144.5,113.6 143.8,113.4 143.0,113.3 142.2,113.1 141.5,113.0 140.8,112.8 140.0,112.7" fill="#5da3cc"/>
<polygon points="164.9,159.5 196.6,156.3 209.3,172.1 177.6,178.5" fill="#19889a"/>
<polygon points="190.3,181.7 222.0,178.5 228.4,200.7 190.3,200.7" fill="#168797"/>
</g>
<filter id="bbC" x="-5%" y="-5%" width="110%" height="110%"><feGaussianBlur stdDeviation="0.7"/></filter><g filter="url(#bbC)">
<ellipse cx="166.9" cy="79.0" rx="4.5" ry="2" transform="rotate(-10 166.9 79.0)" fill="#1d8aa0"/>
<ellipse cx="180.2" cy="68.5" rx="2.2" ry="1.6" transform="rotate(0 180.2 68.5)" fill="#509dc8"/>
<ellipse cx="195.8" cy="79.1" rx="1.8" ry="1.6" transform="rotate(0 195.8 79.1)" fill="#6aa9cf"/>
<ellipse cx="201.3" cy="90.7" rx="7" ry="2" transform="rotate(-25 201.3 90.7)" fill="#077f83"/>
<ellipse cx="212.5" cy="78.5" rx="2.2" ry="1.6" transform="rotate(0 212.5 78.5)" fill="#509dc8"/>
<ellipse cx="192.2" cy="100.7" rx="4.5" ry="1.6" transform="rotate(-5 192.2 100.7)" fill="#077f83"/>
<ellipse cx="220.2" cy="109.9" rx="8" ry="2.2" transform="rotate(-22 220.2 109.9)" fill="#017263"/>
<ellipse cx="234.9" cy="101.5" rx="4" ry="1.7" transform="rotate(-5 234.9 101.5)" fill="#017263"/>
<ellipse cx="248.0" cy="107.5" rx="2.5" ry="2" transform="rotate(0 248.0 107.5)" fill="#077f83"/>
<ellipse cx="182.3" cy="93.0" rx="2.5" ry="2" transform="rotate(0 182.3 93.0)" fill="#6aa9cf"/>
<ellipse cx="229.3" cy="91.2" rx="2.2" ry="1.2" transform="rotate(0 229.3 91.2)" fill="#8cb3d6"/>
<ellipse cx="213.9" cy="93.5" rx="2.2" ry="1.2" transform="rotate(0 213.9 93.5)" fill="#8cb3d6"/>
<ellipse cx="163.4" cy="91.2" rx="2.2" ry="1.2" transform="rotate(0 163.4 91.2)" fill="#abbedb"/>
<ellipse cx="208.3" cy="105.2" rx="2.2" ry="1.2" transform="rotate(0 208.3 105.2)" fill="#8cb3d6"/>
<ellipse cx="197.8" cy="115.7" rx="1.8" ry="1.4" transform="rotate(0 197.8 115.7)" fill="#8cb3d6"/>
<ellipse cx="23.8" cy="128.4" rx="9" ry="3" transform="rotate(-5 23.8 128.4)" fill="#8cb3d6"/>
<ellipse cx="41.2" cy="142.7" rx="4" ry="3" transform="rotate(0 41.2 142.7)" fill="#abbedb"/>
<ellipse cx="19.0" cy="155.4" rx="3" ry="3" transform="rotate(0 19.0 155.4)" fill="#abbedb"/>
<ellipse cx="30.1" cy="161.8" rx="3" ry="3" transform="rotate(0 30.1 161.8)" fill="#abbedb"/>
</g>
<g fill="none" stroke="#1a1a1a" stroke-width="0.75" stroke-linejoin="round">
<polyline points="0.0,172.4 4.8,170.8 15.9,170.0 23.9,168.4 31.8,166.0 39.8,164.4 47.8,162.0 55.7,159.6 62.1,155.7 66.9,150.9 71.7,145.3 73.2,141.3 76.4,137.3 82.8,132.6 89.2,129.4 92.4,125.4 95.5,120.6 100.3,115.8 108.3,111.9 116.2,109.5 124.0,107.1 132.0,107.9 139.9,108.7 147.9,110.3 155.8,112.7 162.2,114.3 165.4,117.4 168.6,118.2 171.8,115.1 176.5,116.6 182.9,118.2 187.7,119.8 190.9,121.4 195.7,123.8 200.4,126.2 205.2,129.4 210.0,131.8 214.8,135.0 219.5,137.3 225.9,139.7 229.9,141.6 232.3,144.2 231.0,139.7 233.9,140.1 238.6,142.9 245.0,144.5 249.8,145.3"/>
<polyline points="-0.8,135.1 6.4,133.4 14.3,131.3 17.5,132.6 17.5,136.5 20.7,138.9 22.3,141.3 19.9,143.7 15.9,146.9 11.1,150.9 7.2,154.1 6.4,158.0 3.2,160.4 0.8,163.6 1.6,166.8 4.0,170.8"/>
<polyline points="21.5,138.9 25.5,135.3 31.8,135.8 39.8,137.3 44.6,138.1 49.4,137.3 52.5,135.0 57.3,134.2 58.9,131.8 57.3,128.6 56.5,123.8 57.3,119.0 60.5,115.8 63.7,112.7 65.3,109.5 68.5,106.3 70.1,103.1 71.7,99.9 74.8,97.5 78.0,98.3 82.8,99.9 87.6,101.5 90.8,99.1 95.5,98.3 101.9,97.5 108.3,95.9 111.5,92.0 117.8,91.2 122.6,92.0 125.0,95.1 128.8,97.5 133.6,94.5 139.5,92.5 139.1,86.0 138.3,83.6 143.1,82.0 149.5,82.8 155.8,87.6 160.6,91.0 165.4,90.4 168.6,87.2 171.8,88.8 176.5,89.6 182.9,91.2 187.7,90.4 192.5,92.0 197.2,95.1 198.8,99.9 195.7,104.7 192.5,107.1 198.8,107.9 203.6,106.3 208.4,106.3 213.2,109.5 216.4,112.7 221.1,114.3 225.9,117.4 230.7,120.6 233.9,123.0 235.5,127.0 233.9,131.0 238.6,128.6 241.8,130.2 243.4,133.4 246.6,136.5 247.6,139.7 248.2,145.1"/>
<polyline points="219.5,113.6 224.3,107.9 229.1,103.9 235.5,102.3 241.8,102.3 246.6,103.9 249.8,106.3"/>
<polyline points="123.8,-0.4 127.0,2.7 129.6,6.2 132.3,10.7 128.8,12.5 125.2,15.2 121.6,17.4 119.8,20.1 117.2,21.4 114.5,20.1 111.8,16.9 108.2,15.2 103.8,14.7 102.0,16.5 99.3,19.2 99.3,21.4 101.1,23.2 102.0,25.9 102.9,29.4 103.8,33.0 106.4,35.2 109.1,37.5 110.9,40.1 112.7,42.8 115.4,46.8 119.8,47.3 124.3,49.1 127.9,47.3 131.4,45.5 135.9,44.2 138.1,45.5 139.5,50.0 142.1,51.3 144.8,51.7 146.6,54.4 148.8,58.0 150.2,60.0 154.3,62.9 155.8,66.9 160.6,68.5 165.4,70.1 168.6,73.2 169.4,78.0 170.2,82.8 171.8,85.2"/>
<polyline points="169.4,74.8 171.8,81.2 175.0,82.0 180.5,81.2 179.7,76.4 181.3,73.2 184.5,68.5 182.9,62.9 176.5,60.5"/>
<polyline points="176.5,60.5 178.1,55.7 181.3,51.0 184.5,46.2 187.7,43.0 194.1,40.6 200.4,39.8 203.6,37.4 208.4,38.2 211.6,39.8 213.2,41.4 219.5,43.8 224.3,39.8 229.1,43.0 233.9,38.2 238.6,36.6 241.8,39.0 249.8,37.4"/>
</g>
<g stroke="#f00" stroke-width="0.8" fill="#f00"><circle cx="15.4" cy="7.5" r="0.42" fill="#f00"/><circle cx="34.5" cy="7.5" r="0.42" fill="#f00"/><circle cx="53.6" cy="7.5" r="0.42" fill="#f00"/><line x1="72.7" y1="7.5" x2="73.5" y2="7.4"/><polygon points="74.1,7.4 73.6,7.6 73.5,7.2"/><circle cx="91.8" cy="7.5" r="0.42" fill="#f00"/><circle cx="110.9" cy="7.5" r="0.42" fill="#f00"/><line x1="130.0" y1="7.5" x2="127.3" y2="8.1"/><polygon points="125.6,8.4 127.1,7.4 127.4,8.8"/><line x1="149.1" y1="7.5" x2="146.3" y2="7.7"/><polygon points="144.6,7.9 146.3,7.0 146.4,8.4"/><line x1="168.2" y1="7.5" x2="165.4" y2="7.9"/><polygon points="163.7,8.1 165.3,7.2 165.5,8.6"/><line x1="187.3" y1="7.5" x2="184.5" y2="7.4"/><polygon points="182.8,7.3 184.5,6.7 184.5,8.1"/><line x1="206.4" y1="7.5" x2="203.6" y2="7.9"/><polygon points="201.9,8.1 203.5,7.2 203.7,8.6"/><line x1="225.5" y1="7.5" x2="222.8" y2="8.1"/><polygon points="221.1,8.5 222.6,7.4 222.9,8.8"/><line x1="244.6" y1="7.5" x2="241.8" y2="7.8"/><polygon points="240.1,7.9 241.8,7.0 241.9,8.5"/><circle cx="15.4" cy="21.0" r="0.42" fill="#f00"/><line x1="34.5" y1="21.0" x2="35.2" y2="20.7"/><polygon points="35.7,20.5 35.3,20.9 35.1,20.5"/><circle cx="53.6" cy="21.0" r="0.42" fill="#f00"/><line x1="72.7" y1="21.0" x2="73.6" y2="20.8"/><polygon points="74.1,20.7 73.6,21.1 73.5,20.6"/><line x1="91.8" y1="21.0" x2="91.1" y2="20.9"/><polygon points="90.6,20.8 91.1,20.7 91.0,21.1"/><circle cx="110.9" cy="21.0" r="0.42" fill="#f00"/><line x1="130.0" y1="21.0" x2="127.3" y2="21.6"/><polygon points="125.6,22.0 127.1,20.9 127.5,22.3"/><line x1="149.1" y1="21.0" x2="146.3" y2="21.1"/><polygon points="144.6,21.2 146.3,20.4 146.3,21.9"/><line x1="168.2" y1="21.0" x2="165.5" y2="21.5"/><polygon points="163.8,21.9 165.3,20.8 165.6,22.2"/><line x1="187.3" y1="21.0" x2="184.5" y2="21.2"/><polygon points="182.8,21.3 184.5,20.5 184.6,21.9"/><line x1="206.4" y1="21.0" x2="203.7" y2="21.7"/><polygon points="202.0,22.1 203.5,21.0 203.9,22.4"/><line x1="225.5" y1="21.0" x2="222.8" y2="21.6"/><polygon points="221.1,22.0 222.6,20.9 222.9,22.3"/><line x1="244.6" y1="21.0" x2="241.8" y2="20.9"/><polygon points="240.1,20.8 241.9,20.1 241.8,21.6"/><circle cx="15.4" cy="34.5" r="0.42" fill="#f00"/><circle cx="34.5" cy="34.5" r="0.42" fill="#f00"/><circle cx="53.6" cy="34.5" r="0.42" fill="#f00"/><circle cx="72.7" cy="34.5" r="0.42" fill="#f00"/><circle cx="91.8" cy="34.5" r="0.42" fill="#f00"/><line x1="110.9" y1="34.5" x2="110.1" y2="35.0"/><polygon points="109.6,35.2 110.0,34.8 110.2,35.2"/><line x1="130.0" y1="34.5" x2="127.2" y2="34.9"/><polygon points="125.6,35.2 127.1,34.2 127.3,35.6"/><line x1="149.1" y1="34.5" x2="146.4" y2="35.2"/><polygon points="144.7,35.6 146.2,34.5 146.6,35.9"/><line x1="168.2" y1="34.5" x2="165.5" y2="35.1"/><polygon points="163.8,35.4 165.3,34.4 165.6,35.8"/><line x1="187.3" y1="34.5" x2="184.6" y2="35.2"/><polygon points="182.9,35.7 184.4,34.5 184.8,35.9"/><line x1="206.4" y1="34.5" x2="203.6" y2="34.9"/><polygon points="201.9,35.2 203.5,34.2 203.7,35.6"/><line x1="225.5" y1="34.5" x2="222.7" y2="34.4"/><polygon points="221.0,34.4 222.7,33.7 222.7,35.1"/><line x1="244.6" y1="34.5" x2="241.9" y2="35.1"/><polygon points="240.2,35.5 241.7,34.4 242.0,35.8"/><line x1="15.4" y1="48.0" x2="16.3" y2="48.2"/><polygon points="16.8,48.3 16.2,48.4 16.3,48.0"/><circle cx="34.5" cy="48.0" r="0.42" fill="#f00"/><line x1="53.6" y1="48.0" x2="53.8" y2="47.2"/><polygon points="53.9,46.7 54.0,47.2 53.6,47.1"/><circle cx="72.7" cy="48.0" r="0.42" fill="#f00"/><line x1="91.8" y1="48.0" x2="92.6" y2="47.7"/><polygon points="93.1,47.5 92.7,47.9 92.5,47.5"/><circle cx="110.9" cy="48.0" r="0.42" fill="#f00"/><line x1="130.0" y1="48.0" x2="127.3" y2="48.5"/><polygon points="125.6,48.9 127.1,47.8 127.4,49.2"/><line x1="149.1" y1="48.0" x2="146.3" y2="48.2"/><polygon points="144.6,48.3 146.3,47.4 146.4,48.9"/><line x1="168.2" y1="48.0" x2="165.4" y2="47.9"/><polygon points="163.7,47.8 165.4,47.2 165.4,48.6"/><line x1="187.3" y1="48.0" x2="184.5" y2="48.0"/><polygon points="182.8,48.1 184.5,47.3 184.5,48.8"/><line x1="206.4" y1="48.0" x2="203.7" y2="48.5"/><polygon points="202.0,48.8 203.5,47.8 203.8,49.2"/><line x1="225.5" y1="48.0" x2="222.8" y2="48.6"/><polygon points="221.1,49.0 222.6,47.9 222.9,49.3"/><line x1="244.6" y1="48.0" x2="241.8" y2="47.8"/><polygon points="240.1,47.7 241.9,47.1 241.8,48.5"/><circle cx="15.4" cy="61.5" r="0.42" fill="#f00"/><circle cx="34.5" cy="61.5" r="0.42" fill="#f00"/><line x1="53.6" y1="61.5" x2="54.3" y2="62.2"/><polygon points="54.8,62.6 54.1,62.3 54.5,62.0"/><line x1="72.7" y1="61.5" x2="71.7" y2="61.5"/><polygon points="71.1,61.6 71.7,61.3 71.7,61.8"/><circle cx="91.8" cy="61.5" r="0.42" fill="#f00"/><circle cx="110.9" cy="61.5" r="0.42" fill="#f00"/><line x1="130.0" y1="61.5" x2="127.2" y2="61.4"/><polygon points="125.5,61.4 127.2,60.7 127.2,62.2"/><line x1="149.1" y1="61.5" x2="146.3" y2="61.7"/><polygon points="144.6,61.7 146.3,60.9 146.4,62.4"/><line x1="168.2" y1="61.5" x2="165.4" y2="61.9"/><polygon points="163.7,62.1 165.3,61.1 165.5,62.6"/><line x1="187.3" y1="61.5" x2="184.5" y2="61.4"/><polygon points="182.8,61.4 184.5,60.7 184.5,62.1"/><line x1="206.4" y1="61.5" x2="203.6" y2="61.3"/><polygon points="201.9,61.2 203.7,60.6 203.6,62.0"/><line x1="225.5" y1="61.5" x2="222.8" y2="62.1"/><polygon points="221.1,62.5 222.6,61.4 222.9,62.8"/><line x1="244.6" y1="61.5" x2="241.8" y2="61.6"/><polygon points="240.1,61.6 241.8,60.8 241.8,62.3"/><line x1="15.4" y1="75.0" x2="16.3" y2="75.2"/><polygon points="16.8,75.4 16.2,75.5 16.3,75.0"/><circle cx="34.5" cy="75.0" r="0.42" fill="#f00"/><circle cx="53.6" cy="75.0" r="0.42" fill="#f00"/><circle cx="72.7" cy="75.0" r="0.42" fill="#f00"/><line x1="91.8" y1="75.0" x2="91.1" y2="75.6"/><polygon points="90.7,76.0 90.9,75.5 91.3,75.8"/><circle cx="110.9" cy="75.0" r="0.42" fill="#f00"/><circle cx="130.0" cy="75.0" r="0.42" fill="#f00"/><line x1="149.1" y1="75.0" x2="148.3" y2="75.8"/><polygon points="147.8,76.3 148.1,75.6 148.5,76.0"/><line x1="168.2" y1="75.0" x2="167.3" y2="75.9"/><polygon points="166.7,76.5 167.1,75.7 167.5,76.1"/><circle cx="187.3" cy="75.0" r="0.42" fill="#f00"/><line x1="206.4" y1="75.0" x2="205.7" y2="77.0"/><polygon points="205.2,78.3 205.1,76.8 206.2,77.2"/><circle cx="225.5" cy="75.0" r="0.42" fill="#f00"/><circle cx="244.6" cy="75.0" r="0.42" fill="#f00"/><circle cx="15.4" cy="88.5" r="0.42" fill="#f00"/><circle cx="34.5" cy="88.5" r="0.42" fill="#f00"/><line x1="53.6" y1="88.5" x2="53.4" y2="89.2"/><polygon points="53.3,89.7 53.2,89.2 53.6,89.3"/><circle cx="72.7" cy="88.5" r="0.42" fill="#f00"/><line x1="91.8" y1="88.5" x2="91.4" y2="89.4"/><polygon points="91.1,89.9 91.1,89.2 91.6,89.5"/><circle cx="110.9" cy="88.5" r="0.42" fill="#f00"/><circle cx="130.0" cy="88.5" r="0.42" fill="#f00"/><circle cx="149.1" cy="88.5" r="0.42" fill="#f00"/><line x1="168.2" y1="88.5" x2="166.9" y2="89.8"/><polygon points="166.1,90.6 166.5,89.5 167.2,90.2"/><line x1="187.3" y1="88.5" x2="186.7" y2="89.1"/><polygon points="186.3,89.5 186.5,89.0 186.8,89.3"/><circle cx="206.4" cy="88.5" r="0.42" fill="#f00"/><line x1="225.5" y1="88.5" x2="223.4" y2="88.1"/><polygon points="222.1,87.9 223.5,87.6 223.3,88.7"/><line x1="244.6" y1="88.5" x2="243.8" y2="88.8"/><polygon points="243.3,89.0 243.7,88.6 243.8,89.0"/><line x1="15.4" y1="102.0" x2="15.5" y2="101.2"/><polygon points="15.6,100.7 15.7,101.2 15.3,101.2"/><circle cx="34.5" cy="102.0" r="0.42" fill="#f00"/><circle cx="53.6" cy="102.0" r="0.42" fill="#f00"/><circle cx="72.7" cy="102.0" r="0.42" fill="#f00"/><line x1="91.8" y1="102.0" x2="91.4" y2="101.3"/><polygon points="91.1,100.8 91.6,101.2 91.2,101.4"/><line x1="110.9" y1="102.0" x2="110.1" y2="101.7"/><polygon points="109.6,101.5 110.2,101.5 110.0,101.9"/><circle cx="130.0" cy="102.0" r="0.42" fill="#f00"/><line x1="149.1" y1="102.0" x2="147.3" y2="102.7"/><polygon points="146.1,103.1 147.1,102.2 147.4,103.1"/><line x1="168.2" y1="102.0" x2="167.9" y2="102.8"/><polygon points="167.8,103.2 167.7,102.7 168.1,102.8"/><circle cx="187.3" cy="102.0" r="0.42" fill="#f00"/><line x1="206.4" y1="102.0" x2="205.6" y2="102.3"/><polygon points="205.0,102.5 205.5,102.1 205.6,102.5"/><line x1="225.5" y1="102.0" x2="223.7" y2="102.7"/><polygon points="222.6,103.1 223.5,102.2 223.9,103.1"/><line x1="244.6" y1="102.0" x2="243.3" y2="103.3"/><polygon points="242.5,104.1 243.0,103.0 243.6,103.6"/><line x1="15.4" y1="115.5" x2="14.9" y2="116.1"/><polygon points="14.6,116.5 14.7,116.0 15.0,116.3"/><circle cx="34.5" cy="115.5" r="0.42" fill="#f00"/><line x1="53.6" y1="115.5" x2="53.4" y2="114.7"/><polygon points="53.3,114.2 53.6,114.7 53.2,114.8"/><circle cx="72.7" cy="115.5" r="0.42" fill="#f00"/><circle cx="91.8" cy="115.5" r="0.42" fill="#f00"/><line x1="110.9" y1="115.5" x2="109.5" y2="119.1"/><polygon points="108.7,121.4 108.6,118.8 110.5,119.5"/><line x1="130.0" y1="115.5" x2="124.7" y2="114.8"/><polygon points="121.7,114.4 124.9,113.6 124.5,116.0"/><line x1="149.1" y1="115.5" x2="144.5" y2="114.4"/><polygon points="141.7,113.7 144.8,113.2 144.3,115.5"/><line x1="168.2" y1="115.5" x2="167.0" y2="115.3"/><polygon points="166.3,115.2 167.1,115.0 167.0,115.6"/><line x1="187.3" y1="115.5" x2="186.8" y2="116.8"/><polygon points="186.6,117.5 186.5,116.6 187.2,116.9"/><circle cx="206.4" cy="115.5" r="0.42" fill="#f00"/><line x1="225.5" y1="115.5" x2="224.9" y2="117.3"/><polygon points="224.5,118.3 224.4,117.1 225.3,117.4"/><line x1="244.6" y1="115.5" x2="243.7" y2="116.4"/><polygon points="243.1,117.0 243.4,116.2 243.9,116.7"/><line x1="15.4" y1="129.0" x2="16.1" y2="129.6"/><polygon points="16.5,129.9 15.9,129.7 16.2,129.4"/><line x1="34.5" y1="129.0" x2="35.1" y2="129.8"/><polygon points="35.5,130.2 34.9,129.9 35.3,129.6"/><circle cx="53.6" cy="129.0" r="0.42" fill="#f00"/><line x1="72.7" y1="129.0" x2="73.5" y2="128.8"/><polygon points="74.0,128.7 73.5,129.0 73.5,128.6"/><line x1="91.8" y1="129.0" x2="90.6" y2="132.3"/><polygon points="89.8,134.4 89.7,132.0 91.5,132.7"/><line x1="110.9" y1="129.0" x2="108.0" y2="135.9"/><polygon points="106.9,138.7 106.9,135.5 109.1,136.4"/><line x1="130.0" y1="129.0" x2="123.1" y2="126.1"/><polygon points="120.3,124.9 123.5,125.0 122.6,127.2"/><line x1="149.1" y1="129.0" x2="142.2" y2="126.1"/><polygon points="139.4,125.0 142.6,125.0 141.7,127.2"/><line x1="168.2" y1="129.0" x2="162.2" y2="127.4"/><polygon points="159.3,126.7 162.6,126.3 161.9,128.6"/><line x1="187.3" y1="129.0" x2="181.7" y2="127.9"/><polygon points="178.7,127.3 181.9,126.7 181.4,129.1"/><circle cx="206.4" cy="129.0" r="0.42" fill="#f00"/><line x1="225.5" y1="129.0" x2="225.0" y2="129.5"/><polygon points="224.6,129.9 224.8,129.4 225.1,129.7"/><line x1="244.6" y1="129.0" x2="243.3" y2="128.8"/><polygon points="242.6,128.6 243.4,128.4 243.3,129.1"/><line x1="15.4" y1="142.5" x2="14.6" y2="142.0"/><polygon points="14.1,141.7 14.7,141.8 14.5,142.2"/><circle cx="34.5" cy="142.5" r="0.42" fill="#f00"/><line x1="53.6" y1="142.5" x2="53.6" y2="141.6"/><polygon points="53.6,141.1 53.8,141.6 53.4,141.6"/><line x1="72.7" y1="142.5" x2="71.9" y2="142.4"/><polygon points="71.4,142.3 71.9,142.2 71.9,142.6"/><line x1="91.8" y1="142.5" x2="89.1" y2="149.5"/><polygon points="88.0,152.3 88.0,149.0 90.2,149.9"/><line x1="110.9" y1="142.5" x2="108.0" y2="149.4"/><polygon points="106.9,152.2 106.9,149.0 109.1,149.9"/><line x1="130.0" y1="142.5" x2="123.9" y2="138.1"/><polygon points="121.5,136.4 124.6,137.1 123.2,139.1"/><line x1="149.1" y1="142.5" x2="142.7" y2="138.5"/><polygon points="140.2,136.9 143.4,137.5 142.1,139.5"/><line x1="168.2" y1="142.5" x2="161.8" y2="138.6"/><polygon points="159.3,137.0 162.4,137.5 161.2,139.6"/><line x1="187.3" y1="142.5" x2="180.5" y2="139.3"/><polygon points="177.8,138.0 181.0,138.2 180.0,140.4"/><line x1="206.4" y1="142.5" x2="199.9" y2="141.5"/><polygon points="196.9,141.0 200.1,140.3 199.7,142.7"/><line x1="225.5" y1="142.5" x2="221.2" y2="141.8"/><polygon points="218.5,141.4 221.3,140.7 221.0,143.0"/><line x1="244.6" y1="142.5" x2="243.4" y2="142.3"/><polygon points="242.7,142.2 243.5,142.0 243.3,142.6"/><circle cx="15.4" cy="156.0" r="0.42" fill="#f00"/><circle cx="34.5" cy="156.0" r="0.42" fill="#f00"/><circle cx="53.6" cy="156.0" r="0.42" fill="#f00"/><line x1="72.7" y1="156.0" x2="70.1" y2="161.8"/><polygon points="68.9,164.6 69.0,161.4 71.2,162.3"/><line x1="91.8" y1="156.0" x2="89.1" y2="163.0"/><polygon points="88.0,165.8 87.9,162.5 90.2,163.4"/><line x1="110.9" y1="156.0" x2="108.7" y2="163.2"/><polygon points="107.8,166.0 107.5,162.8 109.8,163.5"/><line x1="130.0" y1="156.0" x2="124.0" y2="151.5"/><polygon points="121.6,149.6 124.8,150.5 123.3,152.4"/><line x1="149.1" y1="156.0" x2="143.1" y2="151.5"/><polygon points="140.8,149.6 143.9,150.5 142.4,152.4"/><line x1="168.2" y1="156.0" x2="162.5" y2="151.1"/><polygon points="160.3,149.1 163.3,150.2 161.7,152.0"/><line x1="187.3" y1="156.0" x2="181.6" y2="151.2"/><polygon points="179.3,149.2 182.4,150.2 180.8,152.1"/><line x1="206.4" y1="156.0" x2="199.9" y2="152.2"/><polygon points="197.4,150.7 200.6,151.2 199.3,153.2"/><line x1="225.5" y1="156.0" x2="218.6" y2="153.1"/><polygon points="215.8,151.9 219.1,152.0 218.1,154.2"/><line x1="244.6" y1="156.0" x2="238.3" y2="155.0"/><polygon points="235.4,154.5 238.5,153.8 238.1,156.2"/><circle cx="15.4" cy="169.5" r="0.42" fill="#f00"/><line x1="34.5" y1="169.5" x2="31.7" y2="172.1"/><polygon points="30.0,173.7 31.1,171.4 32.4,172.8"/><line x1="53.6" y1="169.5" x2="50.9" y2="173.6"/><polygon points="49.2,176.2 49.9,173.0 51.9,174.3"/><line x1="72.7" y1="169.5" x2="70.0" y2="176.5"/><polygon points="69.0,179.3 68.9,176.1 71.1,176.9"/><line x1="91.8" y1="169.5" x2="89.1" y2="176.5"/><polygon points="88.1,179.3 88.0,176.1 90.2,176.9"/><line x1="110.9" y1="169.5" x2="108.1" y2="176.5"/><polygon points="107.0,179.3 107.0,176.0 109.3,176.9"/><line x1="130.0" y1="169.5" x2="124.6" y2="164.3"/><polygon points="122.4,162.2 125.4,163.4 123.8,165.2"/><line x1="149.1" y1="169.5" x2="143.2" y2="164.9"/><polygon points="140.8,163.1 143.9,164.0 142.4,165.9"/><line x1="168.2" y1="169.5" x2="162.6" y2="164.6"/><polygon points="160.3,162.6 163.4,163.7 161.8,165.5"/><line x1="187.3" y1="169.5" x2="181.9" y2="164.3"/><polygon points="179.7,162.3 182.7,163.5 181.0,165.2"/><line x1="206.4" y1="169.5" x2="200.8" y2="164.5"/><polygon points="198.6,162.5 201.6,163.6 200.0,165.4"/><line x1="225.5" y1="169.5" x2="219.1" y2="165.6"/><polygon points="216.5,164.0 219.7,164.6 218.5,166.6"/><line x1="244.6" y1="169.5" x2="237.9" y2="166.1"/><polygon points="235.3,164.7 238.5,165.0 237.4,167.1"/><line x1="15.4" y1="183.0" x2="10.1" y2="186.3"/><polygon points="7.5,187.9 9.5,185.3 10.7,187.3"/><line x1="34.5" y1="183.0" x2="28.9" y2="188.0"/><polygon points="26.7,190.1 28.1,187.2 29.8,188.9"/><line x1="53.6" y1="183.0" x2="49.8" y2="189.5"/><polygon points="48.3,192.1 48.8,188.9 50.9,190.1"/><line x1="72.7" y1="183.0" x2="70.3" y2="190.1"/><polygon points="69.3,192.9 69.1,189.7 71.4,190.5"/><line x1="91.8" y1="183.0" x2="89.3" y2="190.1"/><polygon points="88.3,192.9 88.1,189.7 90.4,190.5"/><line x1="110.9" y1="183.0" x2="108.5" y2="190.1"/><polygon points="107.5,192.9 107.3,189.7 109.6,190.5"/><line x1="130.0" y1="183.0" x2="124.8" y2="177.6"/><polygon points="122.7,175.4 125.7,176.8 123.9,178.4"/><line x1="149.1" y1="183.0" x2="143.3" y2="178.2"/><polygon points="141.0,176.3 144.1,177.3 142.5,179.2"/><line x1="168.2" y1="183.0" x2="163.0" y2="177.6"/><polygon points="160.9,175.5 163.8,176.8 162.1,178.5"/><line x1="187.3" y1="183.0" x2="181.6" y2="178.1"/><polygon points="179.4,176.1 182.4,177.2 180.8,179.0"/><line x1="206.4" y1="183.0" x2="200.6" y2="178.3"/><polygon points="198.2,176.4 201.3,177.4 199.8,179.2"/><line x1="225.5" y1="183.0" x2="219.8" y2="178.1"/><polygon points="217.5,176.2 220.6,177.2 219.0,179.0"/><line x1="244.6" y1="183.0" x2="238.4" y2="178.8"/><polygon points="235.9,177.1 239.0,177.8 237.7,179.8"/><line x1="15.4" y1="196.5" x2="9.0" y2="200.4"/><polygon points="6.4,201.9 8.3,199.3 9.6,201.4"/><line x1="34.5" y1="196.5" x2="28.9" y2="201.5"/><polygon points="26.7,203.5 28.1,200.6 29.7,202.4"/><line x1="53.6" y1="196.5" x2="49.6" y2="202.9"/><polygon points="48.0,205.4 48.6,202.2 50.6,203.5"/><line x1="72.7" y1="196.5" x2="69.9" y2="203.5"/><polygon points="68.8,206.2 68.8,203.0 71.0,203.9"/><line x1="91.8" y1="196.5" x2="89.3" y2="203.6"/><polygon points="88.3,206.4 88.2,203.2 90.5,204.0"/><line x1="110.9" y1="196.5" x2="108.6" y2="203.6"/><polygon points="107.7,206.5 107.5,203.3 109.8,204.0"/><line x1="130.0" y1="196.5" x2="124.7" y2="191.2"/><polygon points="122.6,189.1 125.5,190.3 123.8,192.0"/><line x1="149.1" y1="196.5" x2="143.9" y2="191.1"/><polygon points="141.8,189.0 144.7,190.3 143.0,192.0"/><line x1="168.2" y1="196.5" x2="163.0" y2="191.1"/><polygon points="161.0,188.9 163.9,190.2 162.2,191.9"/><line x1="187.3" y1="196.5" x2="181.9" y2="191.3"/><polygon points="179.7,189.2 182.7,190.4 181.1,192.2"/><line x1="206.4" y1="196.5" x2="200.5" y2="191.8"/><polygon points="198.2,190.0 201.3,190.9 199.8,192.8"/><line x1="225.5" y1="196.5" x2="219.8" y2="191.6"/><polygon points="217.6,189.6 220.6,190.7 219.0,192.5"/><line x1="244.6" y1="196.5" x2="238.7" y2="191.9"/><polygon points="236.3,190.1 239.4,191.0 237.9,192.8"/></g>
<g fill="none" stroke="#f0f" stroke-width="2" stroke-linejoin="round">
<polygon points="127.1,104.7 138.1,104.7 140.9,107.2 142.9,110.3 142.2,114.7 141.6,119.5 138.8,123.7 138.1,128.5 138.1,132.6 133.3,135.4 129.2,136.8 125.7,139.5 122.3,139.5 119.5,136.8 119.5,133.3 120.9,129.9 120.2,126.4 116.8,122.3 115.4,119.5 117.5,117.5 120.9,115.4 125.0,113.3 123.7,110.6 123.0,107.8"/>
<polygon points="250.6,152.9 244.2,154.1 240.4,156.0 244.2,157.9 250.6,158.6"/>
</g>
<g fill="#f0f" stroke="#f0f" stroke-width="0.8">
<polygon points="147.1,148.1 147.0,148.8 146.5,149.4 145.8,149.8 144.9,149.9 144.1,149.8 143.4,149.4 142.9,148.8 142.7,148.1 142.9,147.4 143.4,146.8 144.1,146.4 144.9,146.3 145.8,146.4 146.5,146.8 147.0,147.4"/>
<polygon points="249.8,180.8 249.7,181.5 249.4,182.2 248.9,182.6 248.3,182.8 247.8,182.6 247.3,182.2 246.9,181.5 246.8,180.8 246.9,180.0 247.3,179.4 247.8,178.9 248.3,178.8 248.9,178.9 249.4,179.4 249.7,180.0"/>
</g>
</g>
<line x1="0" y1="0" x2="0" y2="198" stroke="#c4c4c8" stroke-width="1"/>
<line x1="248" y1="0" x2="248" y2="198" stroke="#9c9ca6" stroke-width="1"/>
<line x1="-0.5" y1="0" x2="248.5" y2="0" stroke="#7a7a86" stroke-width="1"/>
<line x1="-0.5" y1="198" x2="248.5" y2="198" stroke="#8a8a90" stroke-width="1"/>
</svg>
<div class="t pl" style="left:169.2px;top:525.0px">C</div>
<svg style="position:absolute;left:420.5px;top:56.5px;overflow:visible" width="248" height="198" viewBox="0 0 248 198">
<defs><clipPath id="cpD"><rect x="0" y="0" width="248" height="198"/></clipPath><filter id="blD" x="-5%" y="-5%" width="110%" height="110%"><feGaussianBlur stdDeviation="2.6"/></filter></defs>
<g clip-path="url(#cpD)">
<g filter="url(#blD)">
<polygon points="-2.0,-2.0 250.0,-2.0 250.0,200.0 -2.0,200.0" fill="#f3eef5"/>
<polygon points="133.2,-1.6 250.6,-1.6 250.6,76.1 206.2,72.9 177.6,63.4 149.1,44.4 136.4,19.0" fill="#e2ddec"/>
<polygon points="47.6,19.0 95.1,12.7 133.2,31.7 126.9,57.1 79.3,50.7 47.6,41.2" fill="#ece5f1"/>
<polygon points="0.0,47.6 31.7,44.4 79.3,57.1 95.1,79.3 63.4,95.1 0.0,104.7" fill="#fbfafc"/>
<polygon points="0.0,139.5 19.0,139.5 25.4,158.6 12.7,168.1 0.0,171.3" fill="#faf8fb"/>
<polygon points="100.0,106.2 103.8,104.1 107.5,102.3 111.2,101.0 115.0,99.9 118.8,98.7 122.5,97.6 126.2,97.3 130.0,97.7 133.8,98.1 137.5,98.4 141.2,98.9 145.0,99.7 148.8,100.5 152.5,101.7 156.2,102.8 160.0,103.7 163.8,105.8 167.5,108.0 171.2,105.6 175.0,106.1 178.8,107.2 182.5,108.1 186.2,109.3 190.0,111.0 193.8,112.9 197.5,114.7 201.2,116.7 205.0,119.2 208.8,121.2 212.5,123.4 216.2,125.7 220.0,127.5 223.8,128.9 227.5,130.5 231.2,133.1 235.0,130.7 238.8,132.9 242.5,133.9 246.2,134.7 250.0,135.3 250.0,145.3 246.2,144.7 242.5,143.9 238.8,142.9 235.0,140.7 231.2,143.1 227.5,140.5 223.8,138.9 220.0,137.5 216.2,135.7 212.5,133.4 208.8,131.2 205.0,129.2 201.2,126.7 197.5,124.7 193.8,122.9 190.0,121.0 186.2,119.3 182.5,118.1 178.8,117.2 175.0,116.1 171.2,115.6 167.5,118.0 163.8,115.8 160.0,113.7 156.2,112.8 152.5,111.7 148.8,110.5 145.0,109.7 141.2,108.9 137.5,108.4 133.8,108.1 130.0,107.7 126.2,107.3 122.5,107.6 118.8,108.7 115.0,109.9 111.2,111.0 107.5,112.3 103.8,114.1 100.0,116.2" fill="#dfdbec"/>
<polygon points="-1.6,124.3 31.7,122.1 63.4,118.9 82.5,107.8 101.5,96.7 126.9,87.2 145.9,80.9 164.9,75.5 177.6,71.4 185.5,69.8 187.8,76.1 180.8,80.9 171.3,85.6 152.2,90.4 133.2,95.1 114.2,102.1 101.5,110.4 88.8,121.2 76.1,133.2 47.6,133.8 -1.6,133.8" fill="#c1c8e1"/>
<polygon points="-2.0,121.0 25.0,122.0 53.0,124.0 56.0,131.0 25.0,133.0 -2.0,131.0" fill="#b9c4df"/>
<polygon points="80.0,98.0 100.0,96.0 106.0,110.0 95.0,118.0 82.0,115.0" fill="#b9c4df"/>
<polygon points="40.0,108.0 60.0,105.0 70.0,112.0 60.0,120.0 45.0,118.0" fill="#bfc6e1"/>
<polygon points="162.0,62.0 182.0,60.0 186.0,76.0 172.0,82.0 162.0,74.0" fill="#cbcde4"/>
<polygon points="0.0,172.4 4.8,170.8 15.9,170.0 23.9,168.4 31.8,166.0 39.8,164.4 47.8,162.0 55.7,159.6 62.1,155.7 66.9,150.9 71.7,145.3 73.2,141.3 76.4,137.3 82.8,132.6 89.2,129.4 92.4,125.4 95.5,120.6 100.3,115.8 108.3,111.9 116.2,109.5 124.0,107.1 132.0,107.9 139.9,108.7 147.9,110.3 155.8,112.7 162.2,114.3 165.4,117.4 168.6,118.2 171.8,115.1 176.5,116.6 182.9,118.2 187.7,119.8 190.9,121.4 195.7,123.8 200.4,126.2 205.2,129.4 210.0,131.8 214.8,135.0 219.5,137.3 225.9,139.7 229.9,141.6 232.3,144.2 231.0,139.7 233.9,140.1 238.6,142.9 245.0,144.5 249.8,145.3 250.0,200.0 -2.0,200.0" fill="#5aa2cb"/>
<polygon points="-2.0,176.0 30.0,170.0 60.0,163.0 70.0,172.0 65.0,200.0 -2.0,200.0" fill="#78add2"/>
<polygon points="-2.0,186.0 12.0,184.0 18.0,200.0 -2.0,200.0" fill="#3b93c2"/>
<polygon points="45.0,180.0 80.0,172.0 100.0,178.0 100.0,200.0 45.0,200.0" fill="#82b0d4"/>
<polygon points="120.0,150.0 180.0,140.0 225.0,150.0 250.0,150.0 250.0,200.0 120.0,200.0" fill="#4b9ac6"/>
<polygon points="150.0,185.0 185.0,182.0 190.0,200.0 148.0,200.0" fill="#2c8eb3"/>
<polygon points="225.0,135.0 250.0,140.0 250.0,200.0 228.0,200.0" fill="#4095c3"/>
</g>
<filter id="bbD" x="-5%" y="-5%" width="110%" height="110%"><feGaussianBlur stdDeviation="0.7"/></filter><g filter="url(#bbD)">
</g>
<g fill="none" stroke="#1a1a1a" stroke-width="0.75" stroke-linejoin="round">
<polyline points="0.0,172.4 4.8,170.8 15.9,170.0 23.9,168.4 31.8,166.0 39.8,164.4 47.8,162.0 55.7,159.6 62.1,155.7 66.9,150.9 71.7,145.3 73.2,141.3 76.4,137.3 82.8,132.6 89.2,129.4 92.4,125.4 95.5,120.6 100.3,115.8 108.3,111.9 116.2,109.5 124.0,107.1 132.0,107.9 139.9,108.7 147.9,110.3 155.8,112.7 162.2,114.3 165.4,117.4 168.6,118.2 171.8,115.1 176.5,116.6 182.9,118.2 187.7,119.8 190.9,121.4 195.7,123.8 200.4,126.2 205.2,129.4 210.0,131.8 214.8,135.0 219.5,137.3 225.9,139.7 229.9,141.6 232.3,144.2 231.0,139.7 233.9,140.1 238.6,142.9 245.0,144.5 249.8,145.3"/>
<polyline points="-0.8,135.1 6.4,133.4 14.3,131.3 17.5,132.6 17.5,136.5 20.7,138.9 22.3,141.3 19.9,143.7 15.9,146.9 11.1,150.9 7.2,154.1 6.4,158.0 3.2,160.4 0.8,163.6 1.6,166.8 4.0,170.8"/>
<polyline points="21.5,138.9 25.5,135.3 31.8,135.8 39.8,137.3 44.6,138.1 49.4,137.3 52.5,135.0 57.3,134.2 58.9,131.8 57.3,128.6 56.5,123.8 57.3,119.0 60.5,115.8 63.7,112.7 65.3,109.5 68.5,106.3 70.1,103.1 71.7,99.9 74.8,97.5 78.0,98.3 82.8,99.9 87.6,101.5 90.8,99.1 95.5,98.3 101.9,97.5 108.3,95.9 111.5,92.0 117.8,91.2 122.6,92.0 125.0,95.1 128.8,97.5 133.6,94.5 139.5,92.5 139.1,86.0 138.3,83.6 143.1,82.0 149.5,82.8 155.8,87.6 160.6,91.0 165.4,90.4 168.6,87.2 171.8,88.8 176.5,89.6 182.9,91.2 187.7,90.4 192.5,92.0 197.2,95.1 198.8,99.9 195.7,104.7 192.5,107.1 198.8,107.9 203.6,106.3 208.4,106.3 213.2,109.5 216.4,112.7 221.1,114.3 225.9,117.4 230.7,120.6 233.9,123.0 235.5,127.0 233.9,131.0 238.6,128.6 241.8,130.2 243.4,133.4 246.6,136.5 247.6,139.7 248.2,145.1"/>
<polyline points="219.5,113.6 224.3,107.9 229.1,103.9 235.5,102.3 241.8,102.3 246.6,103.9 249.8,106.3"/>
<polyline points="123.8,-0.4 127.0,2.7 129.6,6.2 132.3,10.7 128.8,12.5 125.2,15.2 121.6,17.4 119.8,20.1 117.2,21.4 114.5,20.1 111.8,16.9 108.2,15.2 103.8,14.7 102.0,16.5 99.3,19.2 99.3,21.4 101.1,23.2 102.0,25.9 102.9,29.4 103.8,33.0 106.4,35.2 109.1,37.5 110.9,40.1 112.7,42.8 115.4,46.8 119.8,47.3 124.3,49.1 127.9,47.3 131.4,45.5 135.9,44.2 138.1,45.5 139.5,50.0 142.1,51.3 144.8,51.7 146.6,54.4 148.8,58.0 150.2,60.0 154.3,62.9 155.8,66.9 160.6,68.5 165.4,70.1 168.6,73.2 169.4,78.0 170.2,82.8 171.8,85.2"/>
<polyline points="169.4,74.8 171.8,81.2 175.0,82.0 180.5,81.2 179.7,76.4 181.3,73.2 184.5,68.5 182.9,62.9 176.5,60.5"/>
<polyline points="176.5,60.5 178.1,55.7 181.3,51.0 184.5,46.2 187.7,43.0 194.1,40.6 200.4,39.8 203.6,37.4 208.4,38.2 211.6,39.8 213.2,41.4 219.5,43.8 224.3,39.8 229.1,43.0 233.9,38.2 238.6,36.6 241.8,39.0 249.8,37.4"/>
</g>
<g stroke="#f00" stroke-width="0.8" fill="#f00"><line x1="11.0" y1="9.0" x2="10.2" y2="9.4"/><polygon points="9.7,9.6 10.1,9.2 10.3,9.6"/><line x1="43.7" y1="9.0" x2="42.9" y2="9.6"/><polygon points="42.4,9.9 42.7,9.3 43.0,9.8"/><line x1="76.4" y1="9.0" x2="74.8" y2="9.4"/><polygon points="73.9,9.6 74.7,9.0 74.9,9.8"/><line x1="109.1" y1="9.0" x2="108.0" y2="11.4"/><polygon points="107.3,12.8 107.4,11.1 108.6,11.6"/><line x1="141.8" y1="9.0" x2="139.6" y2="9.3"/><polygon points="138.2,9.5 139.5,8.7 139.6,9.9"/><line x1="174.5" y1="9.0" x2="172.1" y2="8.9"/><polygon points="170.7,8.8 172.2,8.3 172.1,9.5"/><line x1="207.2" y1="9.0" x2="205.3" y2="8.3"/><polygon points="204.1,7.8 205.5,7.8 205.1,8.7"/><line x1="239.9" y1="9.0" x2="236.5" y2="7.8"/><polygon points="234.4,7.1 236.8,6.9 236.2,8.7"/><line x1="11.0" y1="32.5" x2="9.7" y2="34.8"/><polygon points="8.9,36.2 9.1,34.4 10.3,35.1"/><line x1="43.7" y1="32.5" x2="43.1" y2="33.4"/><polygon points="42.8,34.0 42.9,33.3 43.4,33.6"/><line x1="76.4" y1="32.5" x2="74.5" y2="33.5"/><polygon points="73.3,34.2 74.2,33.0 74.8,34.0"/><line x1="109.1" y1="32.5" x2="107.5" y2="34.7"/><polygon points="106.5,36.1 106.9,34.3 108.1,35.1"/><line x1="141.8" y1="32.5" x2="139.8" y2="33.0"/><polygon points="138.6,33.3 139.7,32.5 140.0,33.5"/><line x1="174.5" y1="32.5" x2="171.4" y2="32.5"/><polygon points="169.5,32.5 171.4,31.7 171.4,33.3"/><line x1="207.2" y1="32.5" x2="205.0" y2="32.3"/><polygon points="203.7,32.2 205.1,31.8 205.0,32.9"/><line x1="239.9" y1="32.5" x2="237.9" y2="32.3"/><polygon points="236.7,32.1 237.9,31.8 237.8,32.8"/><line x1="11.0" y1="56.0" x2="9.9" y2="58.5"/><polygon points="9.2,60.1 9.2,58.2 10.5,58.8"/><line x1="43.7" y1="56.0" x2="42.7" y2="56.9"/><polygon points="42.1,57.5 42.5,56.7 42.9,57.2"/><line x1="76.4" y1="56.0" x2="75.5" y2="57.8"/><polygon points="75.0,59.0 75.0,57.6 76.0,58.1"/><line x1="109.1" y1="56.0" x2="107.9" y2="58.4"/><polygon points="107.1,59.9 107.2,58.1 108.5,58.7"/><line x1="141.8" y1="56.0" x2="139.2" y2="55.8"/><polygon points="137.6,55.7 139.2,55.1 139.1,56.5"/><line x1="174.5" y1="56.0" x2="171.8" y2="56.0"/><polygon points="170.2,56.0 171.8,55.3 171.8,56.7"/><line x1="207.2" y1="56.0" x2="204.9" y2="55.1"/><polygon points="203.6,54.5 205.2,54.5 204.7,55.7"/><line x1="239.9" y1="56.0" x2="238.0" y2="56.4"/><polygon points="236.8,56.6 237.9,55.9 238.1,56.9"/><line x1="11.0" y1="79.5" x2="8.9" y2="80.0"/><polygon points="7.6,80.3 8.8,79.4 9.0,80.5"/><line x1="43.7" y1="79.5" x2="42.0" y2="80.4"/><polygon points="40.9,80.9 41.7,79.9 42.2,80.8"/><line x1="76.4" y1="79.5" x2="75.2" y2="80.4"/><polygon points="74.5,81.0 75.0,80.1 75.5,80.7"/><line x1="109.1" y1="79.5" x2="108.7" y2="80.5"/><polygon points="108.5,81.2 108.5,80.4 109.0,80.6"/><line x1="141.8" y1="79.5" x2="139.6" y2="79.1"/><polygon points="138.2,78.9 139.7,78.6 139.5,79.7"/><line x1="174.5" y1="79.5" x2="172.1" y2="79.6"/><polygon points="170.7,79.6 172.1,79.0 172.1,80.2"/><line x1="207.2" y1="79.5" x2="204.0" y2="78.8"/><polygon points="202.1,78.4 204.2,78.0 203.8,79.6"/><line x1="239.9" y1="79.5" x2="237.1" y2="78.8"/><polygon points="235.4,78.4 237.3,78.1 236.9,79.5"/><line x1="11.0" y1="103.0" x2="10.6" y2="103.8"/><polygon points="10.4,104.3 10.4,103.7 10.8,103.9"/><line x1="43.7" y1="103.0" x2="42.5" y2="103.3"/><polygon points="41.8,103.5 42.5,103.0 42.6,103.6"/><line x1="76.4" y1="103.0" x2="75.2" y2="104.8"/><polygon points="74.5,105.9 74.7,104.5 75.7,105.1"/><line x1="109.1" y1="103.0" x2="107.8" y2="103.6"/><polygon points="107.0,104.0 107.6,103.3 107.9,103.9"/><line x1="141.8" y1="103.0" x2="139.3" y2="102.0"/><polygon points="137.7,101.4 139.5,101.4 139.0,102.7"/><line x1="174.5" y1="103.0" x2="171.7" y2="101.5"/><polygon points="170.0,100.6 172.1,100.8 171.3,102.2"/><line x1="207.2" y1="103.0" x2="203.7" y2="103.9"/><polygon points="201.5,104.5 203.4,103.0 203.9,104.8"/><line x1="239.9" y1="103.0" x2="236.3" y2="103.4"/><polygon points="234.1,103.7 236.2,102.5 236.4,104.4"/><line x1="11.0" y1="126.5" x2="9.7" y2="126.8"/><polygon points="8.9,126.9 9.6,126.4 9.8,127.1"/><line x1="43.7" y1="126.5" x2="42.7" y2="128.9"/><polygon points="42.2,130.3 42.1,128.6 43.4,129.1"/><line x1="76.4" y1="126.5" x2="74.0" y2="128.2"/><polygon points="72.5,129.2 73.5,127.6 74.4,128.8"/><line x1="109.1" y1="126.5" x2="97.7" y2="123.1"/><polygon points="94.8,122.3 98.0,122.0 97.3,124.3"/><line x1="141.8" y1="126.5" x2="129.4" y2="120.9"/><polygon points="126.7,119.7 129.9,119.8 128.9,122.0"/><line x1="174.5" y1="126.5" x2="162.2" y2="118.9"/><polygon points="159.6,117.3 162.8,117.9 161.5,119.9"/><line x1="207.2" y1="126.5" x2="204.7" y2="125.6"/><polygon points="203.1,125.0 204.9,124.9 204.4,126.2"/><line x1="239.9" y1="126.5" x2="237.5" y2="125.5"/><polygon points="236.1,124.9 237.8,124.9 237.3,126.1"/><line x1="11.0" y1="150.0" x2="10.5" y2="151.3"/><polygon points="10.1,152.2 10.1,151.2 10.8,151.5"/><circle cx="43.7" cy="150.0" r="0.42" fill="#f00"/><line x1="76.4" y1="150.0" x2="66.2" y2="150.0"/><polygon points="63.2,150.0 66.2,148.8 66.2,151.2"/><line x1="109.1" y1="150.0" x2="97.6" y2="146.9"/><polygon points="94.7,146.1 97.9,145.7 97.3,148.0"/><line x1="141.8" y1="150.0" x2="129.8" y2="143.6"/><polygon points="127.2,142.2 130.4,142.6 129.3,144.7"/><line x1="174.5" y1="150.0" x2="162.2" y2="142.4"/><polygon points="159.6,140.8 162.8,141.4 161.5,143.4"/><line x1="207.2" y1="150.0" x2="195.1" y2="142.1"/><polygon points="192.6,140.4 195.7,141.1 194.4,143.1"/><line x1="239.9" y1="150.0" x2="226.9" y2="143.6"/><polygon points="224.2,142.3 227.4,142.5 226.4,144.7"/><line x1="11.0" y1="173.5" x2="4.1" y2="178.2"/><polygon points="1.6,179.9 3.4,177.2 4.8,179.2"/><line x1="43.7" y1="173.5" x2="35.9" y2="177.1"/><polygon points="33.2,178.3 35.4,176.0 36.4,178.2"/><line x1="76.4" y1="173.5" x2="66.2" y2="173.3"/><polygon points="63.2,173.3 66.2,172.1 66.1,174.5"/><line x1="109.1" y1="173.5" x2="98.0" y2="169.2"/><polygon points="95.2,168.2 98.4,168.1 97.6,170.4"/><line x1="141.8" y1="173.5" x2="130.0" y2="166.8"/><polygon points="127.4,165.3 130.6,165.8 129.4,167.8"/><line x1="174.5" y1="173.5" x2="162.9" y2="164.9"/><polygon points="160.4,163.1 163.6,163.9 162.1,165.8"/><line x1="207.2" y1="173.5" x2="196.2" y2="164.0"/><polygon points="194.0,162.1 197.0,163.1 195.4,164.9"/><line x1="239.9" y1="173.5" x2="229.1" y2="163.9"/><polygon points="226.8,161.9 229.9,163.0 228.3,164.8"/><line x1="11.0" y1="197.0" x2="4.1" y2="201.8"/><polygon points="1.7,203.5 3.4,200.8 4.8,202.8"/><line x1="43.7" y1="197.0" x2="35.9" y2="200.6"/><polygon points="33.2,201.9 35.4,199.5 36.5,201.7"/><line x1="76.4" y1="197.0" x2="66.2" y2="198.1"/><polygon points="63.3,198.5 66.1,197.0 66.4,199.3"/><line x1="109.1" y1="197.0" x2="98.0" y2="192.8"/><polygon points="95.1,191.8 98.4,191.7 97.5,194.0"/><line x1="141.8" y1="197.0" x2="129.7" y2="190.9"/><polygon points="127.0,189.6 130.2,189.8 129.1,192.0"/><line x1="174.5" y1="197.0" x2="162.7" y2="188.5"/><polygon points="160.3,186.8 163.4,187.6 162.0,189.5"/><line x1="207.2" y1="197.0" x2="195.9" y2="187.9"/><polygon points="193.5,186.1 196.6,187.0 195.1,188.9"/><line x1="239.9" y1="197.0" x2="227.9" y2="188.9"/><polygon points="225.4,187.2 228.6,187.9 227.2,189.9"/></g>
<g fill="none" stroke="#f0f" stroke-width="2" stroke-linejoin="round">
<polygon points="118.0,6.3 124.3,4.8 130.0,9.5 130.7,12.7 125.3,14.9 120.5,13.3 118.0,10.1"/>
<polygon points="97.7,118.0 104.7,114.8 109.4,114.2 113.5,115.8 114.8,119.9 111.0,122.1 106.2,121.2 101.5,123.7 97.1,122.1"/>
<polygon points="78.7,134.8 85.6,132.6 95.1,130.0 101.5,127.5 107.8,130.7 104.7,134.8 95.1,136.4 85.6,138.0 79.3,138.0"/>
</g>
<g fill="#f0f" stroke="#f0f" stroke-width="0.8">
<polygon points="138.3,113.5 138.1,114.5 137.6,115.4 136.7,115.9 135.7,116.1 134.7,115.9 133.9,115.4 133.3,114.5 133.1,113.5 133.3,112.5 133.9,111.7 134.7,111.1 135.7,110.9 136.7,111.1 137.6,111.7 138.1,112.5"/>
</g>
</g>
<line x1="0" y1="0" x2="0" y2="198" stroke="#e6e6ea" stroke-width="1"/>
<line x1="248" y1="0" x2="248" y2="198" stroke="#cfcfd6" stroke-width="1"/>
<line x1="-0.5" y1="0" x2="248.5" y2="0" stroke="#2e2e2e" stroke-width="1"/>
<line x1="-0.5" y1="198" x2="248.5" y2="198" stroke="#2e2e2e" stroke-width="1"/>
</svg>
<div class="t pl" style="left:429.0px;top:60.1px">D</div>
<svg style="position:absolute;left:420.5px;top:294.5px;overflow:visible" width="248" height="198" viewBox="0 0 248 198">
<defs><clipPath id="cpE"><rect x="0" y="0" width="248" height="198"/></clipPath><filter id="blE" x="-5%" y="-5%" width="110%" height="110%"><feGaussianBlur stdDeviation="2.6"/></filter></defs>
<g clip-path="url(#cpE)">
<g filter="url(#blE)">
<polygon points="-2.0,-2.0 250.0,-2.0 250.0,200.0 -2.0,200.0" fill="#f3eef5"/>
<polygon points="133.2,-1.6 250.6,-1.6 250.6,76.1 206.2,72.9 177.6,63.4 149.1,44.4 136.4,19.0" fill="#e2ddec"/>
<polygon points="47.6,19.0 95.1,12.7 133.2,31.7 126.9,57.1 79.3,50.7 47.6,41.2" fill="#ece5f1"/>
<polygon points="0.0,44.4 31.7,41.2 79.3,57.1 95.1,79.3 63.4,95.1 0.0,104.7" fill="#fdfcfd"/>
<polygon points="0.0,139.5 19.0,139.5 25.4,158.6 12.7,168.1 0.0,171.3" fill="#faf8fb"/>
<polygon points="60.0,143.0 64.8,139.0 69.5,133.8 74.2,126.1 79.0,121.4 83.8,118.1 88.5,115.7 93.2,110.1 98.0,104.2 102.8,100.6 107.5,98.3 112.2,96.7 117.0,95.2 121.8,93.8 126.5,93.3 131.2,93.8 136.0,94.3 140.8,94.8 145.5,95.8 150.2,97.0 155.0,98.4 159.8,99.6 164.5,102.5 169.2,103.6 174.0,101.8 178.8,103.2 183.5,104.4 188.2,106.1 193.0,108.5 197.8,110.9 202.5,113.6 207.2,116.4 212.0,119.1 216.8,121.9 221.5,124.1 226.2,125.9 231.0,128.8 235.8,127.2 240.5,129.4 245.2,130.5 250.0,131.3 250.0,145.3 245.2,144.5 240.5,143.4 235.8,141.2 231.0,142.8 226.2,139.9 221.5,138.1 216.8,135.9 212.0,133.1 207.2,130.4 202.5,127.6 197.8,124.9 193.0,122.5 188.2,120.1 183.5,118.4 178.8,117.2 174.0,115.8 169.2,117.6 164.5,116.5 159.8,113.6 155.0,112.4 150.2,111.0 145.5,109.8 140.8,108.8 136.0,108.3 131.2,107.8 126.5,107.3 121.8,107.8 117.0,109.2 112.2,110.7 107.5,112.3 102.8,114.6 98.0,118.2 93.2,124.1 88.5,129.7 83.8,132.1 79.0,135.4 74.2,140.1 69.5,147.8 64.8,153.0 60.0,157.0" fill="#cfd0e6"/>
<polygon points="-2.0,120.0 25.0,120.0 53.0,124.0 56.0,134.0 25.0,134.0 -2.0,131.0" fill="#b1c0dd"/>
<polygon points="64.0,112.0 92.0,108.0 96.0,125.0 78.0,136.0 64.0,130.0" fill="#b6c3de"/>
<polygon points="160.0,60.0 180.0,58.0 186.0,72.0 172.0,80.0 160.0,74.0" fill="#cbcde4"/>
<polygon points="63.4,126.7 76.1,110.9 95.1,98.2 114.2,91.8 139.5,83.9 158.6,83.9 164.9,98.2 142.7,104.5 120.5,109.3 104.7,117.2 88.8,129.9 72.9,139.4" fill="#bcc5e0"/>
<polygon points="158.6,83.9 190.3,88.7 222.0,91.8 249.0,98.2 249.0,114.0 222.0,107.7 190.3,101.4 164.9,98.2" fill="#cfd0e6"/>
<polygon points="200.0,72.0 225.0,68.0 240.0,75.0 222.0,82.0 205.0,80.0" fill="#d0d2e6"/>
<polygon points="0.0,172.4 4.8,170.8 15.9,170.0 23.9,168.4 31.8,166.0 39.8,164.4 47.8,162.0 55.7,159.6 62.1,155.7 66.9,150.9 71.7,145.3 73.2,141.3 76.4,137.3 82.8,132.6 89.2,129.4 92.4,125.4 95.5,120.6 100.3,115.8 108.3,111.9 116.2,109.5 124.0,107.1 132.0,107.9 139.9,108.7 147.9,110.3 155.8,112.7 162.2,114.3 165.4,117.4 168.6,118.2 171.8,115.1 176.5,116.6 182.9,118.2 187.7,119.8 190.9,121.4 195.7,123.8 200.4,126.2 205.2,129.4 210.0,131.8 214.8,135.0 219.5,137.3 225.9,139.7 229.9,141.6 232.3,144.2 231.0,139.7 233.9,140.1 238.6,142.9 245.0,144.5 249.8,145.3 250.0,200.0 -2.0,200.0" fill="#4b9ac6"/>
<polygon points="-2.0,176.0 30.0,170.0 60.0,163.0 70.0,172.0 65.0,200.0 -2.0,200.0" fill="#5da3cc"/>
<polygon points="35.0,180.0 80.0,172.0 100.0,178.0 100.0,200.0 30.0,200.0" fill="#6aa9cf"/>
<polygon points="110.0,130.0 180.0,130.0 230.0,150.0 230.0,180.0 110.0,180.0" fill="#3690c0"/>
<polygon points="135.0,180.0 200.0,178.0 205.0,200.0 133.0,200.0" fill="#148694"/>
<polygon points="230.0,140.0 250.0,145.0 250.0,200.0 230.0,200.0" fill="#559fc9"/>
</g>
<filter id="bbE" x="-5%" y="-5%" width="110%" height="110%"><feGaussianBlur stdDeviation="0.7"/></filter><g filter="url(#bbE)">
</g>
<g fill="none" stroke="#1a1a1a" stroke-width="0.75" stroke-linejoin="round">
<polyline points="0.0,172.4 4.8,170.8 15.9,170.0 23.9,168.4 31.8,166.0 39.8,164.4 47.8,162.0 55.7,159.6 62.1,155.7 66.9,150.9 71.7,145.3 73.2,141.3 76.4,137.3 82.8,132.6 89.2,129.4 92.4,125.4 95.5,120.6 100.3,115.8 108.3,111.9 116.2,109.5 124.0,107.1 132.0,107.9 139.9,108.7 147.9,110.3 155.8,112.7 162.2,114.3 165.4,117.4 168.6,118.2 171.8,115.1 176.5,116.6 182.9,118.2 187.7,119.8 190.9,121.4 195.7,123.8 200.4,126.2 205.2,129.4 210.0,131.8 214.8,135.0 219.5,137.3 225.9,139.7 229.9,141.6 232.3,144.2 231.0,139.7 233.9,140.1 238.6,142.9 245.0,144.5 249.8,145.3"/>
<polyline points="-0.8,135.1 6.4,133.4 14.3,131.3 17.5,132.6 17.5,136.5 20.7,138.9 22.3,141.3 19.9,143.7 15.9,146.9 11.1,150.9 7.2,154.1 6.4,158.0 3.2,160.4 0.8,163.6 1.6,166.8 4.0,170.8"/>
<polyline points="21.5,138.9 25.5,135.3 31.8,135.8 39.8,137.3 44.6,138.1 49.4,137.3 52.5,135.0 57.3,134.2 58.9,131.8 57.3,128.6 56.5,123.8 57.3,119.0 60.5,115.8 63.7,112.7 65.3,109.5 68.5,106.3 70.1,103.1 71.7,99.9 74.8,97.5 78.0,98.3 82.8,99.9 87.6,101.5 90.8,99.1 95.5,98.3 101.9,97.5 108.3,95.9 111.5,92.0 117.8,91.2 122.6,92.0 125.0,95.1 128.8,97.5 133.6,94.5 139.5,92.5 139.1,86.0 138.3,83.6 143.1,82.0 149.5,82.8 155.8,87.6 160.6,91.0 165.4,90.4 168.6,87.2 171.8,88.8 176.5,89.6 182.9,91.2 187.7,90.4 192.5,92.0 197.2,95.1 198.8,99.9 195.7,104.7 192.5,107.1 198.8,107.9 203.6,106.3 208.4,106.3 213.2,109.5 216.4,112.7 221.1,114.3 225.9,117.4 230.7,120.6 233.9,123.0 235.5,127.0 233.9,131.0 238.6,128.6 241.8,130.2 243.4,133.4 246.6,136.5 247.6,139.7 248.2,145.1"/>
<polyline points="219.5,113.6 224.3,107.9 229.1,103.9 235.5,102.3 241.8,102.3 246.6,103.9 249.8,106.3"/>
<polyline points="123.8,-0.4 127.0,2.7 129.6,6.2 132.3,10.7 128.8,12.5 125.2,15.2 121.6,17.4 119.8,20.1 117.2,21.4 114.5,20.1 111.8,16.9 108.2,15.2 103.8,14.7 102.0,16.5 99.3,19.2 99.3,21.4 101.1,23.2 102.0,25.9 102.9,29.4 103.8,33.0 106.4,35.2 109.1,37.5 110.9,40.1 112.7,42.8 115.4,46.8 119.8,47.3 124.3,49.1 127.9,47.3 131.4,45.5 135.9,44.2 138.1,45.5 139.5,50.0 142.1,51.3 144.8,51.7 146.6,54.4 148.8,58.0 150.2,60.0 154.3,62.9 155.8,66.9 160.6,68.5 165.4,70.1 168.6,73.2 169.4,78.0 170.2,82.8 171.8,85.2"/>
<polyline points="169.4,74.8 171.8,81.2 175.0,82.0 180.5,81.2 179.7,76.4 181.3,73.2 184.5,68.5 182.9,62.9 176.5,60.5"/>
<polyline points="176.5,60.5 178.1,55.7 181.3,51.0 184.5,46.2 187.7,43.0 194.1,40.6 200.4,39.8 203.6,37.4 208.4,38.2 211.6,39.8 213.2,41.4 219.5,43.8 224.3,39.8 229.1,43.0 233.9,38.2 238.6,36.6 241.8,39.0 249.8,37.4"/>
</g>
<g stroke="#f00" stroke-width="0.8" fill="#f00"><line x1="11.0" y1="9.0" x2="9.3" y2="10.8"/><polygon points="8.3,11.9 8.9,10.4 9.8,11.2"/><line x1="43.7" y1="9.0" x2="42.1" y2="11.5"/><polygon points="41.2,13.0 41.5,11.1 42.8,11.9"/><line x1="76.4" y1="9.0" x2="74.7" y2="11.4"/><polygon points="73.7,12.8 74.1,10.9 75.3,11.8"/><line x1="109.1" y1="9.0" x2="107.4" y2="9.4"/><polygon points="106.3,9.6 107.3,8.9 107.5,9.8"/><line x1="141.8" y1="9.0" x2="138.9" y2="9.9"/><polygon points="137.1,10.5 138.6,9.1 139.1,10.7"/><line x1="174.5" y1="9.0" x2="172.5" y2="9.5"/><polygon points="171.3,9.9 172.4,9.0 172.6,10.1"/><line x1="207.2" y1="9.0" x2="204.9" y2="8.7"/><polygon points="203.5,8.6 205.0,8.1 204.8,9.3"/><line x1="239.9" y1="9.0" x2="237.0" y2="8.9"/><polygon points="235.2,8.8 237.0,8.1 236.9,9.6"/><line x1="11.0" y1="32.5" x2="9.9" y2="32.7"/><polygon points="9.2,32.8 9.8,32.4 9.9,33.0"/><line x1="43.7" y1="32.5" x2="41.1" y2="33.8"/><polygon points="39.5,34.6 40.8,33.1 41.5,34.5"/><line x1="76.4" y1="32.5" x2="75.8" y2="33.3"/><polygon points="75.5,33.9 75.6,33.2 76.0,33.5"/><line x1="109.1" y1="32.5" x2="108.6" y2="33.3"/><polygon points="108.3,33.8 108.4,33.2 108.8,33.4"/><line x1="141.8" y1="32.5" x2="139.7" y2="32.5"/><polygon points="138.4,32.6 139.7,32.0 139.7,33.1"/><line x1="174.5" y1="32.5" x2="171.5" y2="30.8"/><polygon points="169.6,29.7 171.9,30.0 171.0,31.5"/><line x1="207.2" y1="32.5" x2="205.1" y2="31.7"/><polygon points="203.8,31.3 205.3,31.2 204.9,32.3"/><line x1="239.9" y1="32.5" x2="236.6" y2="33.6"/><polygon points="234.6,34.3 236.3,32.8 236.9,34.5"/><line x1="11.0" y1="56.0" x2="8.3" y2="57.4"/><polygon points="6.7,58.2 8.0,56.7 8.7,58.1"/><line x1="43.7" y1="56.0" x2="42.0" y2="57.6"/><polygon points="41.0,58.5 41.6,57.1 42.4,58.0"/><line x1="76.4" y1="56.0" x2="73.7" y2="57.1"/><polygon points="72.0,57.8 73.4,56.4 74.0,57.8"/><line x1="109.1" y1="56.0" x2="107.2" y2="58.4"/><polygon points="106.1,59.8 106.6,57.9 107.8,58.8"/><line x1="141.8" y1="56.0" x2="139.5" y2="56.6"/><polygon points="138.0,57.0 139.3,56.0 139.6,57.2"/><line x1="174.5" y1="56.0" x2="172.4" y2="55.6"/><polygon points="171.1,55.3 172.5,55.0 172.3,56.1"/><line x1="207.2" y1="56.0" x2="205.4" y2="55.2"/><polygon points="204.3,54.8 205.6,54.8 205.2,55.7"/><line x1="239.9" y1="56.0" x2="237.0" y2="55.2"/><polygon points="235.3,54.8 237.2,54.5 236.8,56.0"/><line x1="11.0" y1="79.5" x2="8.7" y2="79.9"/><polygon points="7.3,80.2 8.6,79.3 8.8,80.5"/><line x1="43.7" y1="79.5" x2="42.5" y2="80.2"/><polygon points="41.8,80.6 42.3,79.9 42.7,80.5"/><line x1="76.4" y1="79.5" x2="75.5" y2="81.1"/><polygon points="74.9,82.0 75.1,80.8 75.9,81.3"/><line x1="109.1" y1="79.5" x2="107.5" y2="80.4"/><polygon points="106.5,80.9 107.3,80.0 107.7,80.8"/><line x1="141.8" y1="79.5" x2="139.8" y2="79.7"/><polygon points="138.6,79.8 139.8,79.2 139.9,80.2"/><line x1="174.5" y1="79.5" x2="172.7" y2="80.1"/><polygon points="171.6,80.5 172.5,79.6 172.9,80.6"/><line x1="207.2" y1="79.5" x2="203.8" y2="79.9"/><polygon points="201.7,80.2 203.7,79.1 203.9,80.8"/><line x1="239.9" y1="79.5" x2="237.0" y2="77.9"/><polygon points="235.2,76.9 237.4,77.1 236.6,78.6"/><line x1="11.0" y1="103.0" x2="9.3" y2="104.1"/><polygon points="8.2,104.8 9.0,103.6 9.5,104.5"/><circle cx="43.7" cy="103.0" r="0.42" fill="#f00"/><line x1="76.4" y1="103.0" x2="73.6" y2="104.1"/><polygon points="71.9,104.7 73.3,103.3 73.9,104.8"/><line x1="109.1" y1="103.0" x2="106.8" y2="103.9"/><polygon points="105.4,104.5 106.5,103.3 107.0,104.5"/><line x1="141.8" y1="103.0" x2="138.3" y2="104.0"/><polygon points="136.2,104.7 138.1,103.1 138.6,104.9"/><line x1="174.5" y1="103.0" x2="172.0" y2="102.4"/><polygon points="170.5,102.1 172.2,101.8 171.9,103.1"/><line x1="207.2" y1="103.0" x2="203.9" y2="102.8"/><polygon points="201.9,102.7 204.0,101.9 203.8,103.6"/><line x1="239.9" y1="103.0" x2="236.9" y2="101.6"/><polygon points="235.1,100.8 237.3,100.9 236.6,102.4"/><line x1="11.0" y1="126.5" x2="9.5" y2="128.8"/><polygon points="8.6,130.3 8.9,128.5 10.1,129.2"/><line x1="43.7" y1="126.5" x2="40.8" y2="127.1"/><polygon points="39.0,127.5 40.6,126.4 41.0,127.9"/><line x1="76.4" y1="126.5" x2="75.0" y2="126.9"/><polygon points="74.1,127.1 74.9,126.5 75.1,127.3"/><line x1="109.1" y1="126.5" x2="97.7" y2="123.1"/><polygon points="94.8,122.3 98.0,122.0 97.3,124.3"/><line x1="141.8" y1="126.5" x2="129.4" y2="121.1"/><polygon points="126.6,119.9 129.8,120.0 128.9,122.2"/><line x1="174.5" y1="126.5" x2="162.1" y2="119.0"/><polygon points="159.5,117.4 162.7,118.0 161.5,120.0"/><line x1="207.2" y1="126.5" x2="204.4" y2="127.3"/><polygon points="202.7,127.8 204.2,126.6 204.6,128.0"/><line x1="239.9" y1="126.5" x2="237.5" y2="125.9"/><polygon points="236.1,125.5 237.7,125.3 237.4,126.5"/><line x1="11.0" y1="150.0" x2="10.2" y2="150.3"/><polygon points="9.8,150.5 10.2,150.1 10.3,150.5"/><line x1="43.7" y1="150.0" x2="41.5" y2="150.8"/><polygon points="40.1,151.2 41.3,150.2 41.7,151.3"/><line x1="76.4" y1="150.0" x2="66.2" y2="151.1"/><polygon points="63.3,151.5 66.1,150.0 66.4,152.3"/><line x1="109.1" y1="150.0" x2="97.9" y2="145.9"/><polygon points="95.1,144.9 98.3,144.8 97.5,147.0"/><line x1="141.8" y1="150.0" x2="130.1" y2="143.1"/><polygon points="127.5,141.6 130.7,142.1 129.5,144.1"/><line x1="174.5" y1="150.0" x2="161.5" y2="143.6"/><polygon points="158.8,142.3 162.0,142.6 160.9,144.7"/><line x1="207.2" y1="150.0" x2="194.6" y2="142.8"/><polygon points="192.0,141.3 195.2,141.8 194.0,143.9"/><line x1="239.9" y1="150.0" x2="227.4" y2="142.6"/><polygon points="224.9,141.1 228.1,141.6 226.8,143.6"/><line x1="11.0" y1="173.5" x2="4.0" y2="178.0"/><polygon points="1.4,179.7 3.3,177.0 4.6,179.1"/><line x1="43.7" y1="173.5" x2="36.1" y2="177.5"/><polygon points="33.5,178.9 35.6,176.4 36.7,178.6"/><line x1="76.4" y1="173.5" x2="66.2" y2="174.4"/><polygon points="63.2,174.7 66.1,173.2 66.3,175.6"/><line x1="109.1" y1="173.5" x2="97.8" y2="169.9"/><polygon points="94.9,168.9 98.1,168.7 97.4,171.0"/><line x1="141.8" y1="173.5" x2="129.8" y2="167.2"/><polygon points="127.1,165.8 130.3,166.2 129.2,168.3"/><line x1="174.5" y1="173.5" x2="163.6" y2="163.9"/><polygon points="161.4,161.9 164.4,163.0 162.8,164.8"/><line x1="207.2" y1="173.5" x2="195.3" y2="165.3"/><polygon points="192.8,163.5 196.0,164.3 194.6,166.2"/><line x1="239.9" y1="173.5" x2="229.1" y2="163.8"/><polygon points="226.8,161.8 229.9,163.0 228.3,164.7"/><line x1="11.0" y1="197.0" x2="4.1" y2="201.8"/><polygon points="1.7,203.5 3.4,200.8 4.8,202.8"/><line x1="43.7" y1="197.0" x2="36.3" y2="201.3"/><polygon points="33.7,202.7 35.7,200.2 36.9,202.3"/><line x1="76.4" y1="197.0" x2="66.2" y2="196.9"/><polygon points="63.2,196.9 66.2,195.7 66.2,198.1"/><line x1="109.1" y1="197.0" x2="97.6" y2="193.8"/><polygon points="94.7,193.0 98.0,192.6 97.3,195.0"/><line x1="141.8" y1="197.0" x2="129.3" y2="191.6"/><polygon points="126.6,190.4 129.8,190.5 128.9,192.7"/><line x1="174.5" y1="197.0" x2="162.9" y2="188.3"/><polygon points="160.5,186.5 163.6,187.3 162.2,189.3"/><line x1="207.2" y1="197.0" x2="195.4" y2="188.5"/><polygon points="193.0,186.8 196.1,187.6 194.7,189.5"/><line x1="239.9" y1="197.0" x2="229.0" y2="187.5"/><polygon points="226.7,185.5 229.8,186.6 228.2,188.4"/></g>
<g fill="#f0f" stroke="#f0f" stroke-width="0.8">
<polygon points="104.7,121.3 104.5,122.5 103.7,123.6 102.4,124.5 100.7,125.1 99.0,125.1 97.5,124.7 96.3,124.0 95.8,122.9 95.9,121.7 96.7,120.6 98.0,119.7 99.7,119.2 101.4,119.1 103.0,119.5 104.1,120.3"/>
<polygon points="81.8,136.4 81.6,137.1 81.2,137.7 80.4,138.0 79.6,138.2 78.8,138.0 78.1,137.7 77.6,137.1 77.4,136.4 77.6,135.7 78.1,135.1 78.8,134.7 79.6,134.6 80.4,134.7 81.2,135.1 81.6,135.7"/>
<polygon points="78.2,148.4 78.0,149.4 77.3,150.4 76.1,151.2 74.7,151.6 73.1,151.7 71.7,151.4 70.7,150.7 70.3,149.8 70.4,148.7 71.1,147.7 72.3,147.0 73.8,146.5 75.3,146.4 76.7,146.8 77.7,147.4"/>
</g>
</g>
<line x1="0" y1="0" x2="0" y2="198" stroke="#e6e6ea" stroke-width="1"/>
<line x1="248" y1="0" x2="248" y2="198" stroke="#cfcfd6" stroke-width="1"/>
<line x1="-0.5" y1="0" x2="248.5" y2="0" stroke="#333333" stroke-width="1"/>
<line x1="-0.5" y1="198" x2="248.5" y2="198" stroke="#3a3a40" stroke-width="1"/>
</svg>
<div class="t pl" style="left:431.1px;top:300.8px">E</div>
<svg style="position:absolute;left:420.5px;top:523.5px;overflow:visible" width="248" height="198" viewBox="0 0 248 198">
<defs><clipPath id="cpF"><rect x="0" y="0" width="248" height="198"/></clipPath><filter id="blF" x="-5%" y="-5%" width="110%" height="110%"><feGaussianBlur stdDeviation="2.6"/></filter></defs>
<g clip-path="url(#cpF)">
<g filter="url(#blF)">
<polygon points="-2.0,-2.0 250.0,-2.0 250.0,200.0 -2.0,200.0" fill="#f3eef5"/>
<polygon points="133.2,-1.6 250.6,-1.6 250.6,76.1 206.2,72.9 177.6,63.4 149.1,44.4 136.4,19.0" fill="#e2ddec"/>
<polygon points="47.6,19.0 95.1,12.7 133.2,31.7 126.9,57.1 79.3,50.7 47.6,41.2" fill="#ece5f1"/>
<polygon points="0.0,47.6 31.7,44.4 79.3,57.1 95.1,79.3 63.4,95.1 0.0,104.7" fill="#fdfcfd"/>
<polygon points="0.0,139.5 19.0,139.5 25.4,158.6 12.7,168.1 0.0,171.3" fill="#faf8fb"/>
<polygon points="120.0,100.3 123.2,99.3 126.5,99.3 129.8,99.7 133.0,100.0 136.2,100.3 139.5,100.6 142.8,101.2 146.0,101.9 149.2,102.7 152.5,103.7 155.8,104.6 159.0,105.5 162.2,106.3 165.5,109.5 168.8,110.1 172.0,107.1 175.2,108.2 178.5,109.1 181.8,109.9 185.0,110.9 188.2,112.1 191.5,113.7 194.8,115.4 198.0,117.0 201.2,118.7 204.5,120.9 207.8,122.7 211.0,124.4 214.2,126.6 217.5,128.3 220.8,129.8 224.0,131.0 227.2,132.4 230.5,134.3 233.8,132.0 237.0,133.9 240.2,135.3 243.5,136.1 246.8,136.8 250.0,137.3 250.0,145.3 246.8,144.8 243.5,144.1 240.2,143.3 237.0,141.9 233.8,140.0 230.5,142.3 227.2,140.4 224.0,139.0 220.8,137.8 217.5,136.3 214.2,134.6 211.0,132.4 207.8,130.7 204.5,128.9 201.2,126.7 198.0,125.0 194.8,123.4 191.5,121.7 188.2,120.1 185.0,118.9 181.8,117.9 178.5,117.1 175.2,116.2 172.0,115.1 168.8,118.1 165.5,117.5 162.2,114.3 159.0,113.5 155.8,112.6 152.5,111.7 149.2,110.7 146.0,109.9 142.8,109.2 139.5,108.6 136.2,108.3 133.0,108.0 129.8,107.7 126.5,107.3 123.2,107.3 120.0,108.3" fill="#dfdbec"/>
<polygon points="-1.6,124.3 31.7,122.1 63.4,117.3 82.5,104.7 101.5,95.1 126.9,85.6 145.9,79.3 164.9,71.4 177.6,63.4 185.5,60.9 187.8,68.2 180.8,76.1 171.3,84.0 152.2,89.4 133.2,95.1 114.2,102.1 101.5,110.4 88.8,121.2 76.1,133.2 47.6,133.8 -1.6,133.8" fill="#9fbad9"/>
<polygon points="190.3,63.4 206.2,68.2 228.4,71.4 249.0,72.9 249.0,82.5 228.4,80.9 206.2,77.7 190.3,74.5" fill="#c1c8e1"/>
<polygon points="195.0,72.0 215.0,68.0 240.0,72.0 250.0,80.0 230.0,84.0 205.0,82.0" fill="#cbcde4"/>
<polygon points="0.0,172.4 4.8,170.8 15.9,170.0 23.9,168.4 31.8,166.0 39.8,164.4 47.8,162.0 55.7,159.6 62.1,155.7 66.9,150.9 71.7,145.3 73.2,141.3 76.4,137.3 82.8,132.6 89.2,129.4 92.4,125.4 95.5,120.6 100.3,115.8 108.3,111.9 116.2,109.5 124.0,107.1 132.0,107.9 139.9,108.7 147.9,110.3 155.8,112.7 162.2,114.3 165.4,117.4 168.6,118.2 171.8,115.1 176.5,116.6 182.9,118.2 187.7,119.8 190.9,121.4 195.7,123.8 200.4,126.2 205.2,129.4 210.0,131.8 214.8,135.0 219.5,137.3 225.9,139.7 229.9,141.6 232.3,144.2 231.0,139.7 233.9,140.1 238.6,142.9 245.0,144.5 249.8,145.3 250.0,200.0 -2.0,200.0" fill="#2c8eb3"/>
<polygon points="-2.0,145.3 1.4,171.9 4.8,170.8 8.3,170.5 11.7,170.3 15.1,170.0 18.6,169.5 22.0,168.8 25.4,167.9 28.8,166.9 32.2,165.9 35.7,165.2 39.1,164.6 42.5,163.6 46.0,162.6 49.4,161.5 52.8,160.5 56.2,159.3 59.6,157.2 63.1,154.7 66.5,151.3 69.9,147.3 73.3,141.2 76.8,137.1 80.2,134.5 83.6,132.2 87.0,130.4 90.5,127.8 93.9,123.1 97.3,118.8 100.8,115.6 104.2,113.9 107.6,112.2 111.0,111.0 114.5,110.0 117.9,109.0 121.3,107.9 124.7,107.2 128.2,107.5 131.6,107.8 135.0,108.2 135.0,117.2 131.6,116.8 128.2,116.5 124.7,116.2 121.3,116.9 117.9,118.0 114.5,119.0 111.0,120.0 107.6,121.2 104.2,122.9 100.8,124.6 97.3,127.8 93.9,132.1 90.5,136.8 87.0,139.4 83.6,141.2 80.2,143.5 76.8,146.1 73.3,150.2 69.9,156.3 66.5,160.3 63.1,163.7 59.6,166.2 56.2,168.3 52.8,169.5 49.4,170.5 46.0,171.6 42.5,172.6 39.1,173.6 35.7,174.2 32.2,174.9 28.8,175.9 25.4,176.9 22.0,177.8 18.6,178.5 15.1,179.0 11.7,179.3 8.3,179.5 4.8,179.8 1.4,180.9 -2.0,154.3" fill="#5aa2cb"/>
<polygon points="-2.0,178.0 40.0,170.0 80.0,166.0 95.0,175.0 95.0,200.0 -2.0,200.0" fill="#6daad0"/>
<polygon points="80.0,150.0 100.0,138.0 110.0,150.0 108.0,175.0 100.0,200.0 90.0,200.0 88.0,170.0" fill="#4899c6"/>
<polygon points="140.0,122.0 200.0,128.0 250.0,150.0 250.0,200.0 150.0,200.0 132.0,160.0" fill="#10838f"/>
</g>
<filter id="bbF" x="-5%" y="-5%" width="110%" height="110%"><feGaussianBlur stdDeviation="0.7"/></filter><g filter="url(#bbF)">
</g>
<g fill="none" stroke="#1a1a1a" stroke-width="0.75" stroke-linejoin="round">
<polyline points="0.0,172.4 4.8,170.8 15.9,170.0 23.9,168.4 31.8,166.0 39.8,164.4 47.8,162.0 55.7,159.6 62.1,155.7 66.9,150.9 71.7,145.3 73.2,141.3 76.4,137.3 82.8,132.6 89.2,129.4 92.4,125.4 95.5,120.6 100.3,115.8 108.3,111.9 116.2,109.5 124.0,107.1 132.0,107.9 139.9,108.7 147.9,110.3 155.8,112.7 162.2,114.3 165.4,117.4 168.6,118.2 171.8,115.1 176.5,116.6 182.9,118.2 187.7,119.8 190.9,121.4 195.7,123.8 200.4,126.2 205.2,129.4 210.0,131.8 214.8,135.0 219.5,137.3 225.9,139.7 229.9,141.6 232.3,144.2 231.0,139.7 233.9,140.1 238.6,142.9 245.0,144.5 249.8,145.3"/>
<polyline points="-0.8,135.1 6.4,133.4 14.3,131.3 17.5,132.6 17.5,136.5 20.7,138.9 22.3,141.3 19.9,143.7 15.9,146.9 11.1,150.9 7.2,154.1 6.4,158.0 3.2,160.4 0.8,163.6 1.6,166.8 4.0,170.8"/>
<polyline points="21.5,138.9 25.5,135.3 31.8,135.8 39.8,137.3 44.6,138.1 49.4,137.3 52.5,135.0 57.3,134.2 58.9,131.8 57.3,128.6 56.5,123.8 57.3,119.0 60.5,115.8 63.7,112.7 65.3,109.5 68.5,106.3 70.1,103.1 71.7,99.9 74.8,97.5 78.0,98.3 82.8,99.9 87.6,101.5 90.8,99.1 95.5,98.3 101.9,97.5 108.3,95.9 111.5,92.0 117.8,91.2 122.6,92.0 125.0,95.1 128.8,97.5 133.6,94.5 139.5,92.5 139.1,86.0 138.3,83.6 143.1,82.0 149.5,82.8 155.8,87.6 160.6,91.0 165.4,90.4 168.6,87.2 171.8,88.8 176.5,89.6 182.9,91.2 187.7,90.4 192.5,92.0 197.2,95.1 198.8,99.9 195.7,104.7 192.5,107.1 198.8,107.9 203.6,106.3 208.4,106.3 213.2,109.5 216.4,112.7 221.1,114.3 225.9,117.4 230.7,120.6 233.9,123.0 235.5,127.0 233.9,131.0 238.6,128.6 241.8,130.2 243.4,133.4 246.6,136.5 247.6,139.7 248.2,145.1"/>
<polyline points="219.5,113.6 224.3,107.9 229.1,103.9 235.5,102.3 241.8,102.3 246.6,103.9 249.8,106.3"/>
<polyline points="123.8,-0.4 127.0,2.7 129.6,6.2 132.3,10.7 128.8,12.5 125.2,15.2 121.6,17.4 119.8,20.1 117.2,21.4 114.5,20.1 111.8,16.9 108.2,15.2 103.8,14.7 102.0,16.5 99.3,19.2 99.3,21.4 101.1,23.2 102.0,25.9 102.9,29.4 103.8,33.0 106.4,35.2 109.1,37.5 110.9,40.1 112.7,42.8 115.4,46.8 119.8,47.3 124.3,49.1 127.9,47.3 131.4,45.5 135.9,44.2 138.1,45.5 139.5,50.0 142.1,51.3 144.8,51.7 146.6,54.4 148.8,58.0 150.2,60.0 154.3,62.9 155.8,66.9 160.6,68.5 165.4,70.1 168.6,73.2 169.4,78.0 170.2,82.8 171.8,85.2"/>
<polyline points="169.4,74.8 171.8,81.2 175.0,82.0 180.5,81.2 179.7,76.4 181.3,73.2 184.5,68.5 182.9,62.9 176.5,60.5"/>
<polyline points="176.5,60.5 178.1,55.7 181.3,51.0 184.5,46.2 187.7,43.0 194.1,40.6 200.4,39.8 203.6,37.4 208.4,38.2 211.6,39.8 213.2,41.4 219.5,43.8 224.3,39.8 229.1,43.0 233.9,38.2 238.6,36.6 241.8,39.0 249.8,37.4"/>
</g>
<g stroke="#f00" stroke-width="0.8" fill="#f00"><line x1="11.0" y1="9.0" x2="9.6" y2="11.2"/><polygon points="8.7,12.6 9.0,10.9 10.2,11.6"/><line x1="43.7" y1="9.0" x2="42.7" y2="9.8"/><polygon points="42.1,10.3 42.5,9.5 42.9,10.1"/><line x1="76.4" y1="9.0" x2="74.2" y2="9.4"/><polygon points="72.8,9.6 74.1,8.8 74.3,10.0"/><line x1="109.1" y1="9.0" x2="107.1" y2="10.5"/><polygon points="105.9,11.5 106.7,10.0 107.5,11.1"/><line x1="141.8" y1="9.0" x2="138.6" y2="8.4"/><polygon points="136.6,8.0 138.7,7.5 138.4,9.2"/><line x1="174.5" y1="9.0" x2="171.3" y2="8.1"/><polygon points="169.3,7.5 171.5,7.2 171.0,8.9"/><line x1="207.2" y1="9.0" x2="204.6" y2="9.3"/><polygon points="203.0,9.5 204.5,8.6 204.7,10.0"/><line x1="239.9" y1="9.0" x2="236.8" y2="8.8"/><polygon points="234.9,8.7 236.8,8.0 236.7,9.6"/><line x1="11.0" y1="32.5" x2="9.1" y2="33.2"/><polygon points="8.0,33.7 9.0,32.8 9.3,33.7"/><line x1="43.7" y1="32.5" x2="43.0" y2="33.6"/><polygon points="42.6,34.3 42.7,33.4 43.3,33.8"/><line x1="76.4" y1="32.5" x2="75.2" y2="34.5"/><polygon points="74.4,35.7 74.7,34.2 75.7,34.8"/><line x1="109.1" y1="32.5" x2="108.4" y2="33.8"/><polygon points="108.0,34.5 108.1,33.6 108.7,33.9"/><line x1="141.8" y1="32.5" x2="138.8" y2="31.1"/><polygon points="136.9,30.2 139.1,30.3 138.4,31.8"/><line x1="174.5" y1="32.5" x2="171.9" y2="33.0"/><polygon points="170.2,33.3 171.7,32.3 172.0,33.7"/><line x1="207.2" y1="32.5" x2="205.2" y2="31.5"/><polygon points="204.0,31.0 205.4,31.0 204.9,32.1"/><line x1="239.9" y1="32.5" x2="237.5" y2="32.6"/><polygon points="236.0,32.6 237.5,32.0 237.5,33.2"/><line x1="11.0" y1="56.0" x2="10.2" y2="57.9"/><polygon points="9.7,59.1 9.7,57.7 10.7,58.1"/><line x1="43.7" y1="56.0" x2="41.6" y2="56.8"/><polygon points="40.3,57.4 41.4,56.3 41.8,57.4"/><line x1="76.4" y1="56.0" x2="73.9" y2="57.5"/><polygon points="72.4,58.5 73.5,56.9 74.3,58.2"/><line x1="109.1" y1="56.0" x2="108.3" y2="57.7"/><polygon points="107.8,58.8 107.8,57.5 108.7,57.9"/><line x1="141.8" y1="56.0" x2="138.6" y2="56.1"/><polygon points="136.7,56.2 138.6,55.3 138.7,56.9"/><line x1="174.5" y1="56.0" x2="170.9" y2="56.7"/><polygon points="168.7,57.1 170.7,55.7 171.1,57.6"/><line x1="207.2" y1="56.0" x2="205.0" y2="54.8"/><polygon points="203.6,54.0 205.3,54.2 204.7,55.4"/><line x1="239.9" y1="56.0" x2="237.5" y2="56.0"/><polygon points="236.0,56.0 237.5,55.4 237.5,56.6"/><line x1="11.0" y1="79.5" x2="10.4" y2="80.1"/><polygon points="10.0,80.5 10.3,79.9 10.6,80.3"/><line x1="43.7" y1="79.5" x2="42.8" y2="81.2"/><polygon points="42.3,82.3 42.4,81.0 43.3,81.4"/><line x1="76.4" y1="79.5" x2="74.2" y2="80.2"/><polygon points="72.9,80.6 74.1,79.6 74.4,80.7"/><line x1="109.1" y1="79.5" x2="108.1" y2="80.0"/><polygon points="107.5,80.4 108.0,79.8 108.3,80.3"/><line x1="141.8" y1="79.5" x2="139.7" y2="79.3"/><polygon points="138.4,79.2 139.7,78.7 139.6,79.8"/><line x1="174.5" y1="79.5" x2="171.2" y2="78.3"/><polygon points="169.2,77.6 171.5,77.5 170.9,79.2"/><line x1="207.2" y1="79.5" x2="205.3" y2="79.7"/><polygon points="204.2,79.8 205.3,79.2 205.4,80.1"/><line x1="239.9" y1="79.5" x2="238.0" y2="79.8"/><polygon points="236.9,80.0 238.0,79.3 238.1,80.3"/><line x1="11.0" y1="103.0" x2="8.5" y2="104.4"/><polygon points="7.0,105.3 8.2,103.8 8.9,105.1"/><line x1="43.7" y1="103.0" x2="42.8" y2="104.0"/><polygon points="42.2,104.6 42.5,103.8 43.0,104.3"/><line x1="76.4" y1="103.0" x2="75.1" y2="103.9"/><polygon points="74.2,104.4 74.8,103.5 75.3,104.2"/><line x1="109.1" y1="103.0" x2="106.1" y2="103.9"/><polygon points="104.3,104.5 105.9,103.2 106.4,104.7"/><line x1="141.8" y1="103.0" x2="139.4" y2="101.8"/><polygon points="138.0,101.0 139.8,101.2 139.1,102.4"/><line x1="174.5" y1="103.0" x2="171.9" y2="103.3"/><polygon points="170.3,103.5 171.8,102.7 172.0,104.0"/><line x1="207.2" y1="103.0" x2="205.0" y2="103.8"/><polygon points="203.7,104.2 204.8,103.2 205.2,104.3"/><line x1="239.9" y1="103.0" x2="236.6" y2="104.1"/><polygon points="234.5,104.8 236.3,103.3 236.9,105.0"/><line x1="11.0" y1="126.5" x2="9.2" y2="128.7"/><polygon points="8.1,130.0 8.6,128.2 9.8,129.1"/><line x1="43.7" y1="126.5" x2="41.6" y2="128.1"/><polygon points="40.2,129.1 41.1,127.6 42.0,128.7"/><line x1="76.4" y1="126.5" x2="75.4" y2="128.1"/><polygon points="74.8,129.1 75.0,127.8 75.8,128.4"/><line x1="109.1" y1="126.5" x2="97.8" y2="122.9"/><polygon points="94.9,122.0 98.1,121.7 97.4,124.0"/><line x1="141.8" y1="126.5" x2="129.5" y2="120.7"/><polygon points="126.8,119.4 130.0,119.6 129.0,121.8"/><line x1="174.5" y1="126.5" x2="162.0" y2="119.1"/><polygon points="159.4,117.6 162.6,118.1 161.4,120.1"/><line x1="207.2" y1="126.5" x2="204.3" y2="125.1"/><polygon points="202.5,124.2 204.6,124.3 203.9,125.8"/><line x1="239.9" y1="126.5" x2="237.2" y2="125.7"/><polygon points="235.6,125.2 237.5,125.0 237.0,126.4"/><line x1="11.0" y1="150.0" x2="10.4" y2="150.9"/><polygon points="10.1,151.4 10.2,150.7 10.7,151.0"/><line x1="43.7" y1="150.0" x2="42.8" y2="150.2"/><polygon points="42.2,150.3 42.7,149.9 42.8,150.4"/><line x1="76.4" y1="150.0" x2="66.2" y2="150.6"/><polygon points="63.2,150.7 66.1,149.4 66.2,151.8"/><line x1="109.1" y1="150.0" x2="97.8" y2="146.2"/><polygon points="95.0,145.3 98.2,145.1 97.4,147.3"/><line x1="141.8" y1="150.0" x2="129.9" y2="143.4"/><polygon points="127.3,142.0 130.5,142.4 129.3,144.5"/><line x1="174.5" y1="150.0" x2="162.0" y2="142.7"/><polygon points="159.4,141.2 162.6,141.6 161.4,143.7"/><line x1="207.2" y1="150.0" x2="194.2" y2="143.5"/><polygon points="191.5,142.2 194.8,142.4 193.7,144.6"/><line x1="239.9" y1="150.0" x2="227.6" y2="142.3"/><polygon points="225.1,140.7 228.2,141.3 227.0,143.3"/><line x1="11.0" y1="173.5" x2="4.1" y2="178.2"/><polygon points="1.6,179.9 3.4,177.2 4.8,179.2"/><line x1="43.7" y1="173.5" x2="36.3" y2="177.8"/><polygon points="33.7,179.3 35.7,176.8 36.9,178.8"/><line x1="76.4" y1="173.5" x2="66.2" y2="174.1"/><polygon points="63.2,174.3 66.1,172.9 66.3,175.3"/><line x1="109.1" y1="173.5" x2="97.9" y2="169.6"/><polygon points="95.0,168.6 98.3,168.4 97.5,170.7"/><line x1="141.8" y1="173.5" x2="129.7" y2="167.3"/><polygon points="127.1,165.9 130.3,166.2 129.2,168.4"/><line x1="174.5" y1="173.5" x2="163.1" y2="164.5"/><polygon points="160.7,162.7 163.8,163.6 162.4,165.5"/><line x1="207.2" y1="173.5" x2="196.2" y2="164.0"/><polygon points="194.0,162.1 197.0,163.1 195.4,164.9"/><line x1="239.9" y1="173.5" x2="228.6" y2="164.4"/><polygon points="226.3,162.5 229.4,163.4 227.9,165.3"/><line x1="11.0" y1="197.0" x2="4.0" y2="201.6"/><polygon points="1.5,203.3 3.4,200.6 4.7,202.6"/><line x1="43.7" y1="197.0" x2="36.2" y2="201.2"/><polygon points="33.6,202.7 35.7,200.2 36.8,202.3"/><line x1="76.4" y1="197.0" x2="66.2" y2="197.2"/><polygon points="63.2,197.2 66.1,196.0 66.2,198.4"/><line x1="109.1" y1="197.0" x2="97.7" y2="193.7"/><polygon points="94.8,192.8 98.0,192.5 97.3,194.8"/><line x1="141.8" y1="197.0" x2="129.3" y2="191.7"/><polygon points="126.6,190.5 129.8,190.6 128.9,192.8"/><line x1="174.5" y1="197.0" x2="162.6" y2="188.8"/><polygon points="160.1,187.1 163.2,187.8 161.9,189.8"/><line x1="207.2" y1="197.0" x2="195.9" y2="187.9"/><polygon points="193.6,186.0 196.7,186.9 195.2,188.8"/><line x1="239.9" y1="197.0" x2="228.3" y2="188.2"/><polygon points="226.0,186.4 229.1,187.3 227.6,189.2"/></g>
<g fill="none" stroke="#f0f" stroke-width="2" stroke-linejoin="round">
<polygon points="94.5,119.9 99.0,117.3 103.1,120.5 104.7,124.3 109.4,122.1 111.6,125.3 107.8,128.4 101.5,128.4 96.7,125.3"/>
<polygon points="87.2,133.2 93.6,132.6 95.1,137.0 92.0,140.2 88.2,139.5 86.3,136.4"/>
<polygon points="79.3,134.8 83.1,133.2 84.4,137.0 80.9,139.5 78.7,138.0"/>
<polygon points="69.8,144.3 74.5,141.1 79.3,139.5 80.9,144.3 78.7,147.5 84.0,147.5 85.0,150.7 79.3,151.6 74.5,149.1 70.4,147.5"/>
</g>
<g fill="#f0f" stroke="#f0f" stroke-width="0.8">
<polygon points="128.4,123.7 128.3,124.5 127.8,125.2 127.1,125.7 126.2,125.9 125.4,125.7 124.7,125.2 124.2,124.5 124.0,123.7 124.2,122.8 124.7,122.1 125.4,121.7 126.2,121.5 127.1,121.7 127.8,122.1 128.3,122.8"/>
</g>
</g>
<line x1="0" y1="0" x2="0" y2="198" stroke="#e6e6ea" stroke-width="1"/>
<line x1="248" y1="0" x2="248" y2="198" stroke="#cfcfd6" stroke-width="1"/>
<line x1="-0.5" y1="0" x2="248.5" y2="0" stroke="#7a7a86" stroke-width="1"/>
<line x1="-0.5" y1="198" x2="248.5" y2="198" stroke="#8a8a90" stroke-width="1"/>
</svg>
<div class="t pl" style="left:429.9px;top:524.1px">F</div>
<svg style="position:absolute;left:0;top:0" width="785" height="799">
<rect x="685.5" y="536.37" width="30" height="21.43" fill="#ffffff"/>
<rect x="685.5" y="515.23" width="30" height="21.43" fill="#f3eef5"/>
<rect x="685.5" y="494.10" width="30" height="21.43" fill="#e7dfee"/>
<rect x="685.5" y="472.97" width="30" height="21.43" fill="#dad9ea"/>
<rect x="685.5" y="451.83" width="30" height="21.43" fill="#c7cae3"/>
<rect x="685.5" y="430.70" width="30" height="21.43" fill="#abbedb"/>
<rect x="685.5" y="409.57" width="30" height="21.43" fill="#8cb3d6"/>
<rect x="685.5" y="388.43" width="30" height="21.43" fill="#6aa9cf"/>
<rect x="685.5" y="367.30" width="30" height="21.43" fill="#509dc8"/>
<rect x="685.5" y="346.17" width="30" height="21.43" fill="#3690c0"/>
<rect x="685.5" y="325.03" width="30" height="21.43" fill="#1d8aa0"/>
<rect x="685.5" y="303.90" width="30" height="21.43" fill="#077f83"/>
<rect x="685.5" y="282.77" width="30" height="21.43" fill="#017263"/>
<rect x="685.5" y="261.63" width="30" height="21.43" fill="#015e4d"/>
<rect x="685.5" y="240.50" width="30" height="21.43" fill="#014636"/>
<line x1="685.5" y1="240.5" x2="685.5" y2="557.5" stroke="#a0a0a0" stroke-width="1"/>
<line x1="715.5" y1="240.5" x2="715.5" y2="557.5" stroke="#303030" stroke-width="1"/>
<line x1="685.0" y1="240.5" x2="716.0" y2="240.5" stroke="#1e1e1e" stroke-width="1"/>
<line x1="685.0" y1="557.5" x2="716.0" y2="557.5" stroke="#6a6a6a" stroke-width="1"/>
<line x1="712.5" y1="451.8" x2="715.5" y2="451.8" stroke="#262626" stroke-width="1"/>
<line x1="712.5" y1="346.2" x2="715.5" y2="346.2" stroke="#262626" stroke-width="1"/>
</svg>
<div class="t cb" style="left:723px;top:544.5px">0</div>
<div class="t cb" style="left:723px;top:438.8px">5</div>
<div class="t cb" style="left:723px;top:333.2px">10</div>
<div class="t cb" style="left:723px;top:227.5px">15</div>
<div class="b rot" style="left:764px;top:392px;color:#262626;font-size:22px;letter-spacing:1.8px">[m/s]</div>
</body></html>
